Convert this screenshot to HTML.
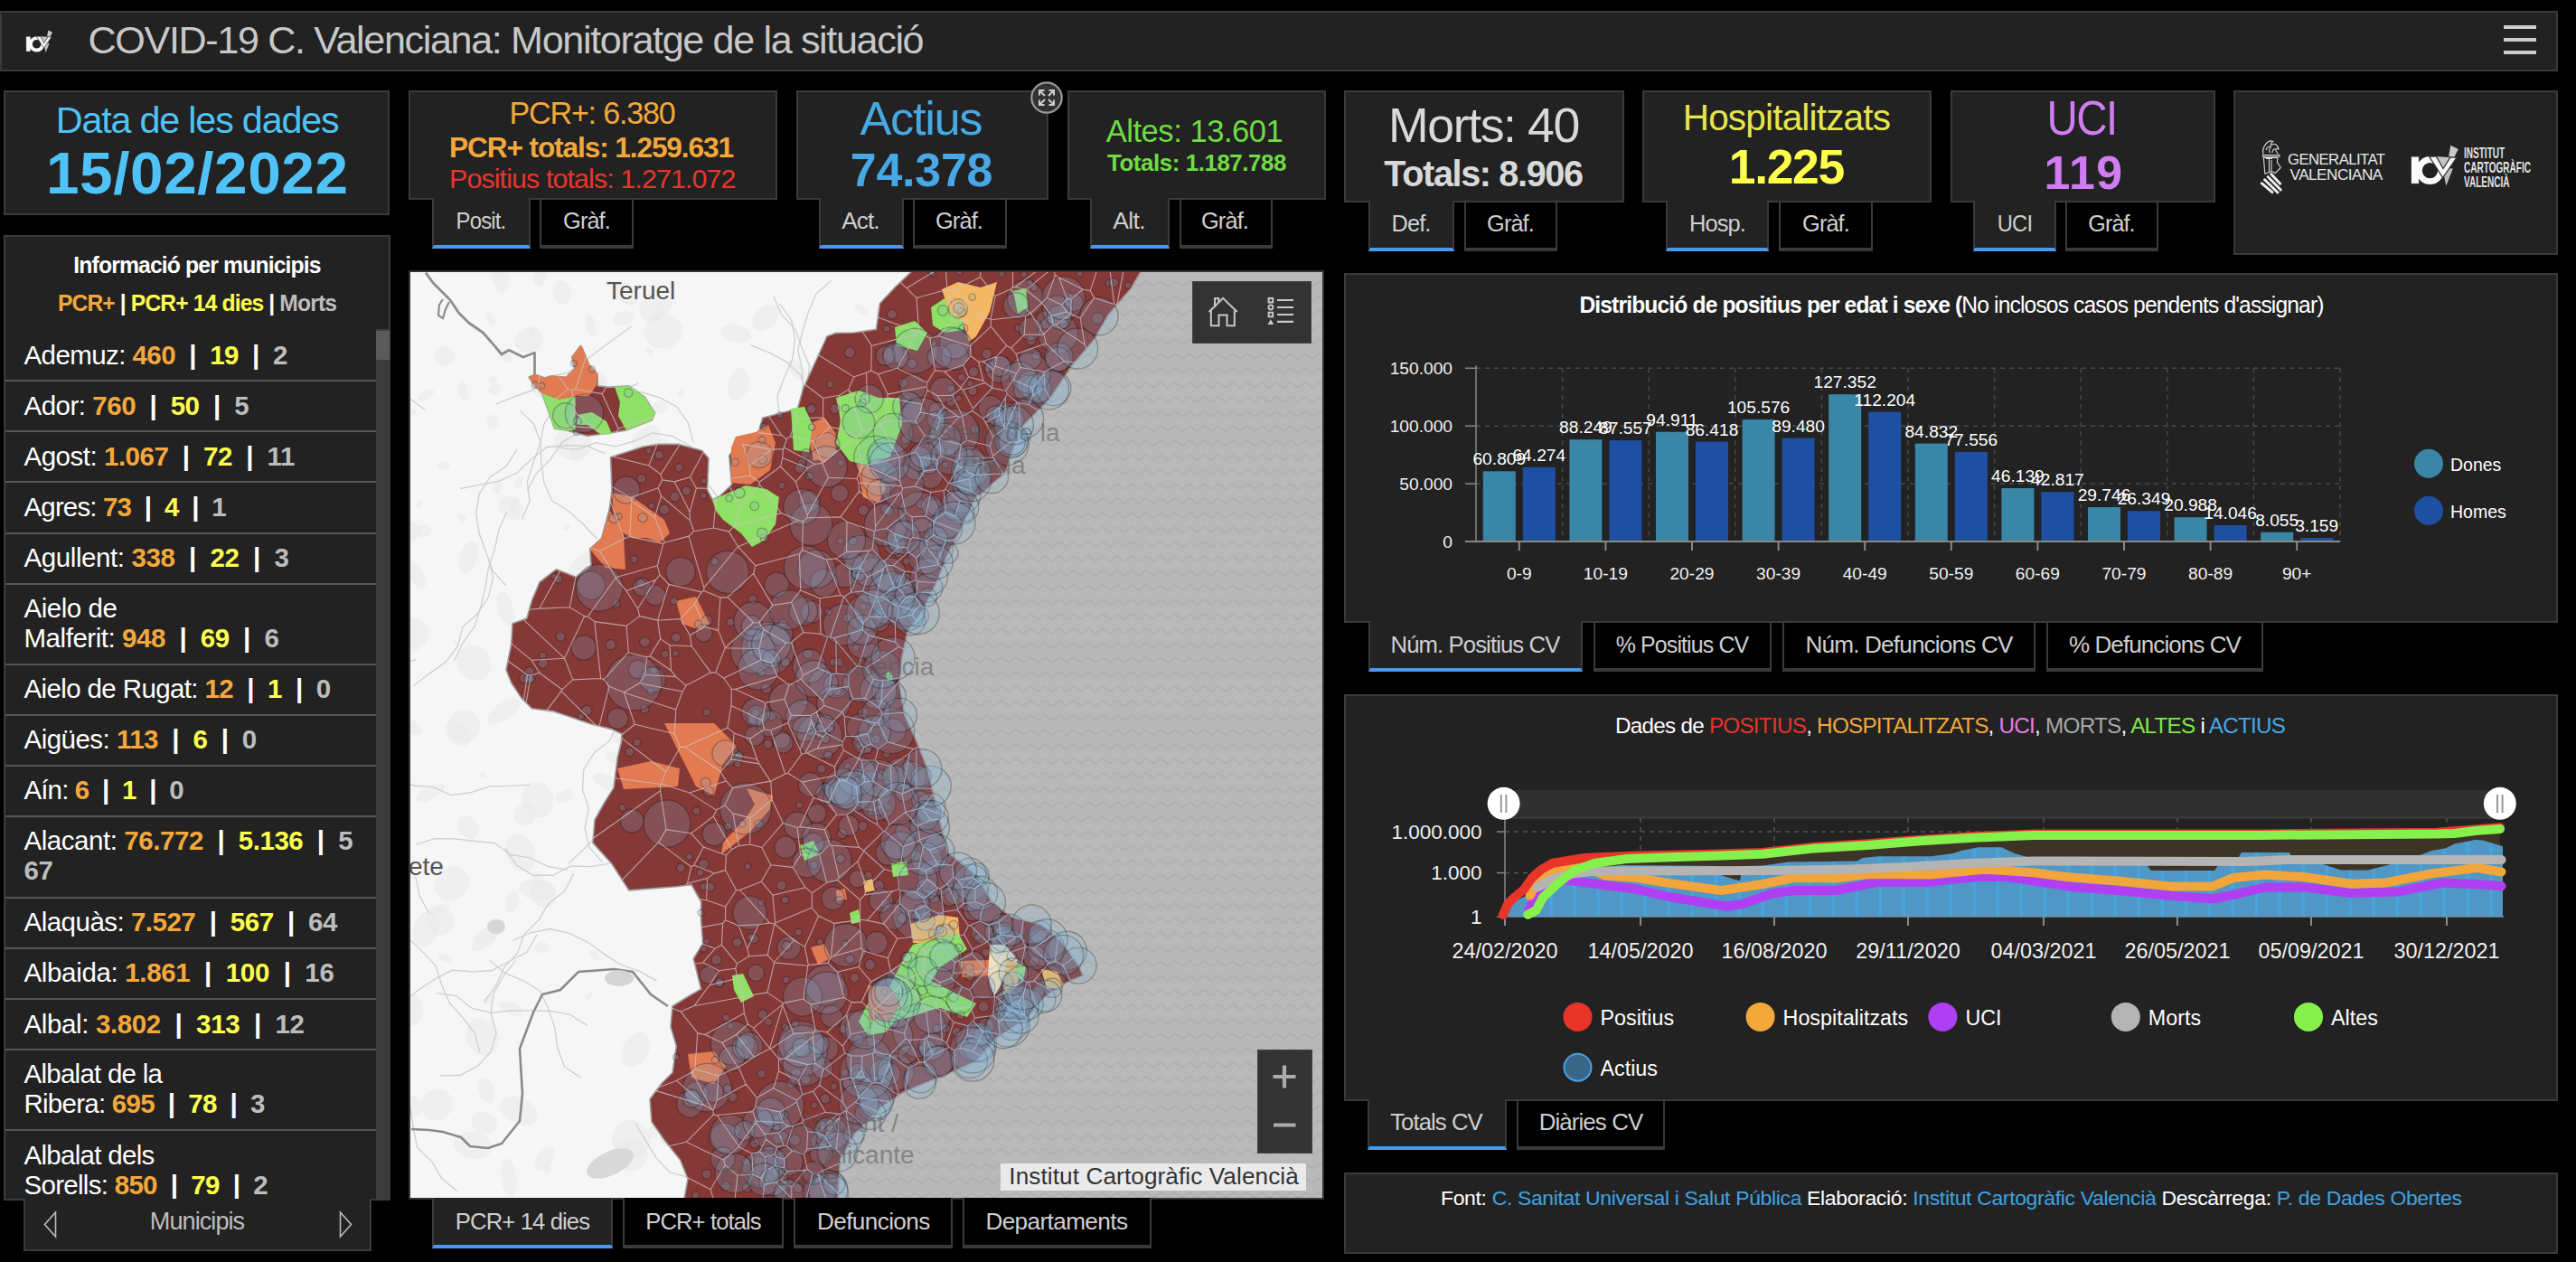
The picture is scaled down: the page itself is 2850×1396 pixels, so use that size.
<!DOCTYPE html>
<html lang="ca"><head><meta charset="utf-8"><title>COVID-19 C. Valenciana: Monitoratge de la situació</title>
<style>
html,body{margin:0;padding:0;background:#000;}
body{width:2850px;height:1396px;position:relative;overflow:hidden;font-family:"Liberation Sans", Arial, sans-serif;}
.bx{position:absolute;box-sizing:border-box;}
.t{position:absolute;white-space:nowrap;}
</style></head><body>
<div class="bx" style="left:0px;top:12px;width:2830px;height:67px;background:#222;border:2px solid #3a3a3a;"></div>
<div id="t_title" class="t" style="left:97.50px;top:20.32px;font-size:43.17px;line-height:48.23px;color:#c8c8c8;font-weight:normal;letter-spacing:-1.371px;">COVID-19 C. Valenciana: Monitoratge de la situació</div>
<div class="bx" style="left:2770px;top:28px;width:36px;height:3.6000000000000014px;background:#cccccc;"></div>
<div class="bx" style="left:2770px;top:42.3px;width:36px;height:3.6000000000000014px;background:#cccccc;"></div>
<div class="bx" style="left:2770px;top:56.1px;width:36px;height:3.6000000000000014px;background:#cccccc;"></div>
<svg class="bx" style="left:0;top:0" width="80" height="80" viewBox="0 0 80 80"><g transform="translate(28.9,33.2) scale(1.0)">
<polygon points="24.4,0.2 29.1,2.5 26.5,7.8 23.2,7" fill="#c8c8c8"/>
<polygon points="19.4,14 25.8,14.5 21.6,25.1" fill="#bdbdbd"/>
<rect x="0" y="7" width="5" height="16.8" fill="#fafafa" stroke="#333" stroke-width="0.5"/>
<circle cx="11.7" cy="15.6" r="6.7" stroke="#fafafa" stroke-width="3.8" fill="none"/>
<polygon points="15.6,7 24.2,7.6 19.8,14.5" fill="#c4c4c4"/>
<polygon points="11.2,7 15.6,7 19.8,14.5 24.2,7.6 28.2,7.6 19.6,20" fill="#fafafa" stroke="#333" stroke-width="0.7"/>
</g></svg>
<div class="bx" style="left:4px;top:100px;width:427px;height:138px;background:#222;border:2px solid #3a3a3a;"></div>
<div id="t_datalabel" class="t" style="left:61.81px;top:110.03px;font-size:41.28px;line-height:46.12px;color:#4fc3f7;font-weight:normal;letter-spacing:-1.178px;">Data de les dades</div>
<div id="t_date" class="t" style="left:51.00px;top:154.52px;font-size:65.70px;line-height:73.40px;color:#4fc3f7;font-weight:bold;letter-spacing:0.582px;">15/02/2022</div>
<div class="bx" style="left:452px;top:100px;width:408px;height:121px;background:#222;border:2px solid #3a3a3a;"></div>
<div class="bx" style="left:478px;top:219px;width:109px;height:56px;background:#222;border-left:2px solid #3a3a3a;border-right:2px solid #3a3a3a;border-bottom:4px solid #4a97ee;"></div>
<div class="bx" style="left:597px;top:221px;width:104px;height:54px;background:#000;border-left:2px solid #3a3a3a;border-right:2px solid #3a3a3a;border-bottom:4px solid #3a3a3a;"></div>
<div id="t_pcr1" class="t" style="left:-344.91px;width:2000px;text-align:center;top:105.81px;font-size:34.45px;line-height:38.48px;color:#f5a83a;font-weight:normal;letter-spacing:-1.206px;transform:scaleX(0.9899);transform-origin:50% 0;">PCR+: 6.380</div>
<div id="t_pcr2" class="t" style="left:-346.06px;width:2000px;text-align:center;top:145.58px;font-size:31.83px;line-height:35.56px;color:#f5a83a;font-weight:bold;letter-spacing:-1.114px;transform:scaleX(0.9932);transform-origin:50% 0;">PCR+ totals: 1.259.631</div>
<div id="t_pcr3" class="t" style="left:-344.74px;width:2000px;text-align:center;top:180.90px;font-size:30.38px;line-height:33.94px;color:#e8352a;font-weight:normal;letter-spacing:-0.880px;">Positius totals: 1.271.072</div>
<div class="bx" style="left:880.5px;top:100px;width:279.5px;height:121px;background:#222;border:2px solid #3a3a3a;"></div>
<div class="bx" style="left:906px;top:219px;width:94px;height:56px;background:#222;border-left:2px solid #3a3a3a;border-right:2px solid #3a3a3a;border-bottom:4px solid #4a97ee;"></div>
<div class="bx" style="left:1010px;top:221px;width:104px;height:54px;background:#000;border-left:2px solid #3a3a3a;border-right:2px solid #3a3a3a;border-bottom:4px solid #3a3a3a;"></div>
<div id="t_act1" class="t" style="left:18.81px;width:2000px;text-align:center;top:101.90px;font-size:52.47px;line-height:58.62px;color:#47a8e5;font-weight:normal;letter-spacing:-1.377px;">Actius</div>
<div id="t_act2" class="t" style="left:19.50px;width:2000px;text-align:center;top:160.22px;font-size:51.89px;line-height:57.97px;color:#47a8e5;font-weight:bold;letter-spacing:-0.214px;">74.378</div>
<div class="bx" style="left:1180.5px;top:100px;width:286.5px;height:121px;background:#222;border:2px solid #3a3a3a;"></div>
<div class="bx" style="left:1206px;top:219px;width:88px;height:56px;background:#222;border-left:2px solid #3a3a3a;border-right:2px solid #3a3a3a;border-bottom:4px solid #4a97ee;"></div>
<div class="bx" style="left:1304.5px;top:221px;width:103.5px;height:54px;background:#000;border-left:2px solid #3a3a3a;border-right:2px solid #3a3a3a;border-bottom:4px solid #3a3a3a;"></div>
<div id="t_alt1" class="t" style="left:321.52px;width:2000px;text-align:center;top:125.98px;font-size:34.59px;line-height:38.65px;color:#6fdc45;font-weight:normal;letter-spacing:-0.479px;">Altes: 13.601</div>
<div id="t_alt2" class="t" style="left:324.00px;width:2000px;text-align:center;top:165.88px;font-size:25.87px;line-height:28.90px;color:#6fdc45;font-weight:bold;letter-spacing:-0.417px;">Totals: 1.187.788</div>
<div class="bx" style="left:1487.3px;top:100px;width:309.70000000000005px;height:123.5px;background:#222;border:2px solid #3a3a3a;"></div>
<div class="bx" style="left:1513.5px;top:221.5px;width:95.5px;height:56.5px;background:#222;border-left:2px solid #3a3a3a;border-right:2px solid #3a3a3a;border-bottom:4px solid #4a97ee;"></div>
<div class="bx" style="left:1619.7px;top:223.5px;width:103.70000000000005px;height:54.5px;background:#000;border-left:2px solid #3a3a3a;border-right:2px solid #3a3a3a;border-bottom:4px solid #3a3a3a;"></div>
<div id="t_mor1" class="t" style="left:641.51px;width:2000px;text-align:center;top:108.75px;font-size:53.63px;line-height:59.92px;color:#d9d9d9;font-weight:normal;letter-spacing:-1.389px;">Morts: 40</div>
<div id="t_mor2" class="t" style="left:640.96px;width:2000px;text-align:center;top:168.50px;font-size:41.42px;line-height:46.28px;color:#d9d9d9;font-weight:bold;letter-spacing:-1.450px;transform:scaleX(0.9580);transform-origin:50% 0;">Totals: 8.906</div>
<div class="bx" style="left:1817.3px;top:100px;width:319.70000000000005px;height:123.5px;background:#222;border:2px solid #3a3a3a;"></div>
<div class="bx" style="left:1843.2px;top:221.5px;width:114.29999999999995px;height:56.5px;background:#222;border-left:2px solid #3a3a3a;border-right:2px solid #3a3a3a;border-bottom:4px solid #4a97ee;"></div>
<div class="bx" style="left:1968.2px;top:223.5px;width:104.20000000000005px;height:54.5px;background:#000;border-left:2px solid #3a3a3a;border-right:2px solid #3a3a3a;border-bottom:4px solid #3a3a3a;"></div>
<div id="t_hos1" class="t" style="left:976.44px;width:2000px;text-align:center;top:107.99px;font-size:40.55px;line-height:45.31px;color:#e6e64c;font-weight:normal;letter-spacing:-0.833px;">Hospitalitzats</div>
<div id="t_hos2" class="t" style="left:976.34px;width:2000px;text-align:center;top:155.18px;font-size:53.49px;line-height:59.76px;color:#ffff4d;font-weight:bold;letter-spacing:-1.364px;">1.225</div>
<div class="bx" style="left:2157.5px;top:100px;width:293.5px;height:123.5px;background:#222;border:2px solid #3a3a3a;"></div>
<div class="bx" style="left:2183.1px;top:221.5px;width:91.59999999999991px;height:56.5px;background:#222;border-left:2px solid #3a3a3a;border-right:2px solid #3a3a3a;border-bottom:4px solid #4a97ee;"></div>
<div class="bx" style="left:2285.4px;top:223.5px;width:103.09999999999991px;height:54.5px;background:#000;border-left:2px solid #3a3a3a;border-right:2px solid #3a3a3a;border-bottom:4px solid #3a3a3a;"></div>
<div id="t_uci1" class="t" style="left:1302.82px;width:2000px;text-align:center;top:100.32px;font-size:54.22px;line-height:60.57px;color:#d07cf2;font-weight:normal;letter-spacing:-1.898px;transform:scaleX(0.8763);transform-origin:50% 0;">UCI</div>
<div id="t_uci2" class="t" style="left:1305.48px;width:2000px;text-align:center;top:162.62px;font-size:51.89px;line-height:57.97px;color:#d07cf2;font-weight:bold;letter-spacing:1.350px;">119</div>
<svg class="bx" style="left:1137.8px;top:87.8px" width="40" height="40" viewBox="0 0 40 40">
<circle cx="20" cy="20" r="16.7" fill="#323232" stroke="#9a9a9a" stroke-width="2.2"/>
<g stroke="#cdcdcd" stroke-width="2" fill="none"><path d="M12 17.5 V12 H17.5 M12 12 L18 18 M22.5 12 H28 V17.5 M28 12 L22 18 M12 22.5 V28 H17.5 M12 28 L18 22 M28 22.5 V28 H22.5 M28 28 L22 22"/></g></svg>
<div id="t_tb1" class="t" style="left:-468.02px;width:2000px;text-align:center;top:230.45px;font-size:26.45px;line-height:29.55px;color:#cfcfcf;font-weight:normal;letter-spacing:-0.926px;transform:scaleX(0.9040);transform-origin:50% 0;">Posit.</div>
<div id="t_tb2" class="t" style="left:-351.49px;width:2000px;text-align:center;top:230.45px;font-size:26.45px;line-height:29.55px;color:#cfcfcf;font-weight:normal;letter-spacing:-0.926px;transform:scaleX(0.9570);transform-origin:50% 0;">Gràf.</div>
<div id="t_tb3" class="t" style="left:-48.01px;width:2000px;text-align:center;top:230.45px;font-size:26.45px;line-height:29.55px;color:#cfcfcf;font-weight:normal;letter-spacing:-0.926px;transform:scaleX(0.9890);transform-origin:50% 0;">Act.</div>
<div id="t_tb4" class="t" style="left:61.36px;width:2000px;text-align:center;top:230.45px;font-size:26.45px;line-height:29.55px;color:#cfcfcf;font-weight:normal;letter-spacing:-0.926px;transform:scaleX(0.9588);transform-origin:50% 0;">Gràf.</div>
<div id="t_tb5" class="t" style="left:249.22px;width:2000px;text-align:center;top:230.45px;font-size:26.45px;line-height:29.55px;color:#cfcfcf;font-weight:normal;letter-spacing:-0.604px;">Alt.</div>
<div id="t_tb6" class="t" style="left:355.47px;width:2000px;text-align:center;top:230.45px;font-size:26.45px;line-height:29.55px;color:#cfcfcf;font-weight:normal;letter-spacing:-0.926px;transform:scaleX(0.9588);transform-origin:50% 0;">Gràf.</div>
<div id="t_tb7" class="t" style="left:560.71px;width:2000px;text-align:center;top:233.05px;font-size:26.45px;line-height:29.55px;color:#cfcfcf;font-weight:normal;letter-spacing:-0.926px;transform:scaleX(0.9601);transform-origin:50% 0;">Def.</div>
<div id="t_tb8" class="t" style="left:670.92px;width:2000px;text-align:center;top:233.05px;font-size:26.45px;line-height:29.55px;color:#cfcfcf;font-weight:normal;letter-spacing:-0.926px;transform:scaleX(0.9570);transform-origin:50% 0;">Gràf.</div>
<div id="t_tb9" class="t" style="left:899.97px;width:2000px;text-align:center;top:233.05px;font-size:26.45px;line-height:29.55px;color:#cfcfcf;font-weight:normal;letter-spacing:-0.926px;transform:scaleX(0.9638);transform-origin:50% 0;">Hosp.</div>
<div id="t_tb10" class="t" style="left:1019.63px;width:2000px;text-align:center;top:233.05px;font-size:26.45px;line-height:29.55px;color:#cfcfcf;font-weight:normal;letter-spacing:-0.926px;transform:scaleX(0.9570);transform-origin:50% 0;">Gràf.</div>
<div id="t_tb11" class="t" style="left:1228.50px;width:2000px;text-align:center;top:233.05px;font-size:26.45px;line-height:29.55px;color:#cfcfcf;font-weight:normal;letter-spacing:-0.926px;transform:scaleX(0.8972);transform-origin:50% 0;">UCI</div>
<div id="t_tb12" class="t" style="left:1336.47px;width:2000px;text-align:center;top:233.05px;font-size:26.45px;line-height:29.55px;color:#cfcfcf;font-weight:normal;letter-spacing:-0.926px;transform:scaleX(0.9479);transform-origin:50% 0;">Gràf.</div>
<div class="bx" style="left:2471.3px;top:100.3px;width:358.6999999999998px;height:181.7px;background:#222;border:2px solid #3a3a3a;"></div>
<svg class="bx" style="left:2496px;top:150px" width="34" height="70" viewBox="2496 150 34 70">
<g fill="none" stroke="#d8d8d8" stroke-width="1.1" stroke-linejoin="round">
<path d="M2504 170.5 C2503 166 2505 161 2508 158 C2510 156 2513 155.5 2515 156.5 C2513 157.5 2511.5 159 2512.5 161 C2514 159.5 2516.5 159 2518 160 C2519.5 161 2520.5 163 2521 165 C2519 164 2517.5 165 2518 167 L2520.5 170.5"/>
<path d="M2507 166 C2508 162 2511 161 2512.5 163 C2510.5 164 2510 167 2511.5 169 M2514 169 C2514 166 2516 164 2518 165"/>
<path d="M2503.5 171.5 H2522 V173.3 H2503.5 Z"/>
<path d="M2504.4 174.4 L2505.8 192.2 L2513.3 189.4 L2517.2 191.6 L2523.3 185.5 L2519.4 179.4 L2520 174.4 Z"/>
<path d="M2507 175.5 H2514 M2510.5 175.5 V190 M2513 177 V189"/>
</g>
<g stroke="#eeeeee" stroke-width="2.9" stroke-linecap="round">
<path d="M2502.2 202.7 L2513.9 212.7 M2505.5 198.8 L2520 213 M2509.1 195.5 L2523.3 209.9 M2512.7 192.6 L2522.7 203.2"/>
</g></svg>
<div id="t_gv1" class="t" style="left:2531.00px;top:166.77px;font-size:17.15px;line-height:19.16px;color:#e8e8e8;font-weight:normal;letter-spacing:-0.600px;transform:scaleX(0.9772);transform-origin:0 0;">GENERALITAT</div>
<div id="t_gv2" class="t" style="left:2533.50px;top:184.17px;font-size:17.15px;line-height:19.16px;color:#e8e8e8;font-weight:normal;letter-spacing:-0.503px;">VALENCIANA</div>
<svg class="bx" style="left:2660px;top:155px" width="66" height="58" viewBox="2660 155 66 58"><g transform="translate(2667.4,160.5) scale(1.8)">
<polygon points="24.4,0.2 29.1,2.5 26.5,7.8 23.2,7" fill="#c8c8c8"/>
<polygon points="19.4,14 25.8,14.5 21.6,25.1" fill="#bdbdbd"/>
<rect x="0" y="7" width="5" height="16.8" fill="#fafafa" stroke="#333" stroke-width="0.5"/>
<circle cx="11.7" cy="15.6" r="6.7" stroke="#fafafa" stroke-width="3.8" fill="none"/>
<polygon points="15.6,7 24.2,7.6 19.8,14.5" fill="#c4c4c4"/>
<polygon points="11.2,7 15.6,7 19.8,14.5 24.2,7.6 28.2,7.6 19.6,20" fill="#fafafa" stroke="#333" stroke-width="0.7"/>
</g></svg>
<div class="bx" style="left:2726.3px;top:162px;font:bold 17px/16.2px 'Liberation Sans',sans-serif;color:#e4e4e4;transform:scaleX(0.59);transform-origin:0 0;white-space:nowrap">INSTITUT<br>CARTOGRÀFIC<br>VALENCIÀ</div>
<div class="bx" style="left:4px;top:260px;width:427.5px;height:1067.5px;background:#222;border:2px solid #3a3a3a;"></div>
<div id="t_info" class="t" style="left:-782.04px;width:2000px;text-align:center;top:279.38px;font-size:25.87px;line-height:28.90px;color:#ffffff;font-weight:bold;letter-spacing:-0.905px;transform:scaleX(0.9565);transform-origin:50% 0;">Informació per municipis</div>
<div id="t_leg" class="t" style="left:-782.40px;width:2000px;text-align:center;top:321.08px;font-size:25.87px;line-height:28.90px;color:#ffffff;font-weight:bold;letter-spacing:-0.905px;transform:scaleX(0.9529);transform-origin:50% 0;"><span style="color:#f5a83a">PCR+</span> | <span style="color:#ffff4d">PCR+ 14 dies</span> | <span style="color:#bdbdbd">Morts</span></div>
<div class="bx" style="left:416px;top:364px;width:14.5px;height:963px;background:#3c3c3c;"></div>
<div class="bx" style="left:416px;top:366px;width:14.5px;height:32px;background:#5a5a5a;"></div>
<div class="bx" style="left:6px;top:364px;width:410px;height:963px;overflow:hidden">
<div id="t_r0" class="t" style="left:20.50px;top:11.87px;font-size:29.51px;line-height:33.2px;color:#fff;letter-spacing:-0.578px;">Ademuz: <b style="color:#f5a83a">460</b> <b>&nbsp;|&nbsp;</b> <b style="color:#ffff4d">19</b> <b>&nbsp;|&nbsp;</b> <b style="color:#bdbdbd">2</b></div>
<div class="bx" style="left:0;top:56.2px;width:410px;height:2px;background:#565656"></div>
<div id="t_r1" class="t" style="left:20.50px;top:67.77px;font-size:29.51px;line-height:33.2px;color:#fff;letter-spacing:-0.485px;">Ador: <b style="color:#f5a83a">760</b> <b>&nbsp;|&nbsp;</b> <b style="color:#ffff4d">50</b> <b>&nbsp;|&nbsp;</b> <b style="color:#bdbdbd">5</b></div>
<div class="bx" style="left:0;top:112.0px;width:410px;height:2px;background:#565656"></div>
<div id="t_r2" class="t" style="left:20.50px;top:123.57px;font-size:29.51px;line-height:33.2px;color:#fff;letter-spacing:-0.480px;">Agost: <b style="color:#f5a83a">1.067</b> <b>&nbsp;|&nbsp;</b> <b style="color:#ffff4d">72</b> <b>&nbsp;|&nbsp;</b> <b style="color:#bdbdbd">11</b></div>
<div class="bx" style="left:0;top:168.4px;width:410px;height:2px;background:#565656"></div>
<div id="t_r3" class="t" style="left:20.50px;top:179.97px;font-size:29.51px;line-height:33.2px;color:#fff;letter-spacing:-0.852px;">Agres: <b style="color:#f5a83a">73</b> <b>&nbsp;|&nbsp;</b> <b style="color:#ffff4d">4</b> <b>&nbsp;|&nbsp;</b> <b style="color:#bdbdbd">1</b></div>
<div class="bx" style="left:0;top:224.7px;width:410px;height:2px;background:#565656"></div>
<div id="t_r4" class="t" style="left:20.50px;top:236.27px;font-size:29.51px;line-height:33.2px;color:#fff;letter-spacing:-0.407px;">Agullent: <b style="color:#f5a83a">338</b> <b>&nbsp;|&nbsp;</b> <b style="color:#ffff4d">22</b> <b>&nbsp;|&nbsp;</b> <b style="color:#bdbdbd">3</b></div>
<div class="bx" style="left:0;top:280.7px;width:410px;height:2px;background:#565656"></div>
<div id="t_r5" class="t" style="left:20.50px;top:292.27px;font-size:29.51px;line-height:33.2px;color:#fff;letter-spacing:-0.455px;">Aielo de<br>Malferit: <b style="color:#f5a83a">948</b> <b>&nbsp;|&nbsp;</b> <b style="color:#ffff4d">69</b> <b>&nbsp;|&nbsp;</b> <b style="color:#bdbdbd">6</b></div>
<div class="bx" style="left:0;top:369.8px;width:410px;height:2px;background:#565656"></div>
<div id="t_r6" class="t" style="left:20.50px;top:381.37px;font-size:29.51px;line-height:33.2px;color:#fff;letter-spacing:-0.620px;">Aielo de Rugat: <b style="color:#f5a83a">12</b> <b>&nbsp;|&nbsp;</b> <b style="color:#ffff4d">1</b> <b>&nbsp;|&nbsp;</b> <b style="color:#bdbdbd">0</b></div>
<div class="bx" style="left:0;top:425.8px;width:410px;height:2px;background:#565656"></div>
<div id="t_r7" class="t" style="left:20.50px;top:437.37px;font-size:29.51px;line-height:33.2px;color:#fff;letter-spacing:-0.521px;">Aigües: <b style="color:#f5a83a">113</b> <b>&nbsp;|&nbsp;</b> <b style="color:#ffff4d">6</b> <b>&nbsp;|&nbsp;</b> <b style="color:#bdbdbd">0</b></div>
<div class="bx" style="left:0;top:481.8px;width:410px;height:2px;background:#565656"></div>
<div id="t_r8" class="t" style="left:20.50px;top:493.37px;font-size:29.51px;line-height:33.2px;color:#fff;letter-spacing:-0.880px;">Aín: <b style="color:#f5a83a">6</b> <b>&nbsp;|&nbsp;</b> <b style="color:#ffff4d">1</b> <b>&nbsp;|&nbsp;</b> <b style="color:#bdbdbd">0</b></div>
<div class="bx" style="left:0;top:537.7px;width:410px;height:2px;background:#565656"></div>
<div id="t_r9" class="t" style="left:20.50px;top:549.27px;font-size:29.51px;line-height:33.2px;color:#fff;letter-spacing:-0.445px;">Alacant: <b style="color:#f5a83a">76.772</b> <b>&nbsp;|&nbsp;</b> <b style="color:#ffff4d">5.136</b> <b>&nbsp;|&nbsp;</b> <b style="color:#bdbdbd">5<br>67</b></div>
<div class="bx" style="left:0;top:627.6px;width:410px;height:2px;background:#565656"></div>
<div id="t_r10" class="t" style="left:20.50px;top:639.17px;font-size:29.51px;line-height:33.2px;color:#fff;letter-spacing:-0.504px;">Alaquàs: <b style="color:#f5a83a">7.527</b> <b>&nbsp;|&nbsp;</b> <b style="color:#ffff4d">567</b> <b>&nbsp;|&nbsp;</b> <b style="color:#bdbdbd">64</b></div>
<div class="bx" style="left:0;top:683.6px;width:410px;height:2px;background:#565656"></div>
<div id="t_r11" class="t" style="left:20.50px;top:695.17px;font-size:29.51px;line-height:33.2px;color:#fff;letter-spacing:-0.339px;">Albaida: <b style="color:#f5a83a">1.861</b> <b>&nbsp;|&nbsp;</b> <b style="color:#ffff4d">100</b> <b>&nbsp;|&nbsp;</b> <b style="color:#bdbdbd">16</b></div>
<div class="bx" style="left:0;top:740.2px;width:410px;height:2px;background:#565656"></div>
<div id="t_r12" class="t" style="left:20.50px;top:751.77px;font-size:29.51px;line-height:33.2px;color:#fff;letter-spacing:-0.369px;">Albal: <b style="color:#f5a83a">3.802</b> <b>&nbsp;|&nbsp;</b> <b style="color:#ffff4d">313</b> <b>&nbsp;|&nbsp;</b> <b style="color:#bdbdbd">12</b></div>
<div class="bx" style="left:0;top:795.7px;width:410px;height:2px;background:#565656"></div>
<div id="t_r13" class="t" style="left:20.50px;top:807.27px;font-size:29.51px;line-height:33.2px;color:#fff;letter-spacing:-0.742px;">Albalat de la<br>Ribera: <b style="color:#f5a83a">695</b> <b>&nbsp;|&nbsp;</b> <b style="color:#ffff4d">78</b> <b>&nbsp;|&nbsp;</b> <b style="color:#bdbdbd">3</b></div>
<div class="bx" style="left:0;top:885.2px;width:410px;height:2px;background:#565656"></div>
<div id="t_r14" class="t" style="left:20.50px;top:896.77px;font-size:29.51px;line-height:33.2px;color:#fff;letter-spacing:-0.706px;">Albalat dels<br>Sorells: <b style="color:#f5a83a">850</b> <b>&nbsp;|&nbsp;</b> <b style="color:#ffff4d">79</b> <b>&nbsp;|&nbsp;</b> <b style="color:#bdbdbd">2</b></div>
</div>
<div class="bx" style="left:25.5px;top:1325.5px;width:385px;height:58px;background:#222;border:2px solid #3a3a3a;border-top:none"></div>
<div id="t_mun" class="t" style="left:-782.28px;width:2000px;text-align:center;top:1336.09px;font-size:27.18px;line-height:30.37px;color:#bdbdbd;font-weight:normal;letter-spacing:-0.951px;transform:scaleX(0.9976);transform-origin:50% 0;">Municipis</div>
<svg class="bx" style="left:44px;top:1338px" width="352" height="34" viewBox="0 0 352 34">
<polygon points="17.5,3 5.5,16.5 17.5,30" fill="none" stroke="#bbb" stroke-width="1.6"/>
<polygon points="332.5,3 344.5,16.5 332.5,30" fill="none" stroke="#bbb" stroke-width="1.6"/></svg>
<div class="bx" style="left:452px;top:299px;width:1013px;height:1028px;background:#333"></div>
<svg class="bx" style="left:454px;top:301px" width="1009" height="1024" viewBox="454 301 1009 1024">
<defs><clipPath id="mclip"><rect x="454" y="301" width="1009" height="1024"/></clipPath></defs>
<style>.mc{fill:rgba(130,180,215,.2);stroke:rgba(0,0,0,.25);stroke-width:1.4}</style>
<g clip-path="url(#mclip)">
<rect x="454" y="301" width="1009" height="1024" fill="#f6f6f6"/>
<ellipse cx="630.8" cy="455.5" rx="15.7" ry="7.0" fill="#eaeaea" opacity="0.55" transform="rotate(96 630.8 455.5)"/>
<ellipse cx="653.7" cy="360.4" rx="13.1" ry="5.5" fill="#eaeaea" opacity="0.55" transform="rotate(78 653.7 360.4)"/>
<ellipse cx="492.1" cy="393.9" rx="11.6" ry="10.4" fill="#eaeaea" opacity="0.55" transform="rotate(22 492.1 393.9)"/>
<ellipse cx="575.9" cy="943.5" rx="21.1" ry="15.7" fill="#eaeaea" opacity="0.55" transform="rotate(71 575.9 943.5)"/>
<ellipse cx="987.0" cy="348.7" rx="19.5" ry="11.2" fill="#eaeaea" opacity="0.55" transform="rotate(26 987.0 348.7)"/>
<ellipse cx="518.3" cy="616.9" rx="18.7" ry="9.5" fill="#eaeaea" opacity="0.55" transform="rotate(105 518.3 616.9)"/>
<ellipse cx="802.8" cy="682.3" rx="13.9" ry="6.1" fill="#eaeaea" opacity="0.55" transform="rotate(11 802.8 682.3)"/>
<ellipse cx="566.5" cy="997.7" rx="11.7" ry="6.9" fill="#eaeaea" opacity="0.55" transform="rotate(105 566.5 997.7)"/>
<ellipse cx="701.4" cy="608.0" rx="18.3" ry="15.0" fill="#eaeaea" opacity="0.55" transform="rotate(44 701.4 608.0)"/>
<ellipse cx="767.6" cy="838.8" rx="19.8" ry="16.5" fill="#eaeaea" opacity="0.55" transform="rotate(52 767.6 838.8)"/>
<ellipse cx="989.2" cy="421.9" rx="11.5" ry="9.8" fill="#eaeaea" opacity="0.55" transform="rotate(27 989.2 421.9)"/>
<ellipse cx="721.0" cy="341.1" rx="16.0" ry="13.8" fill="#eaeaea" opacity="0.55" transform="rotate(103 721.0 341.1)"/>
<ellipse cx="932.0" cy="622.3" rx="16.5" ry="12.5" fill="#eaeaea" opacity="0.55" transform="rotate(104 932.0 622.3)"/>
<ellipse cx="703.1" cy="1161.1" rx="21.0" ry="14.4" fill="#eaeaea" opacity="0.55" transform="rotate(120 703.1 1161.1)"/>
<ellipse cx="487.1" cy="1019.3" rx="15.6" ry="15.6" fill="#eaeaea" opacity="0.55" transform="rotate(148 487.1 1019.3)"/>
<ellipse cx="609.4" cy="696.1" rx="16.0" ry="6.6" fill="#eaeaea" opacity="0.55" transform="rotate(83 609.4 696.1)"/>
<ellipse cx="545.8" cy="420.9" rx="5.1" ry="4.4" fill="#eaeaea" opacity="0.55" transform="rotate(23 545.8 420.9)"/>
<ellipse cx="589.2" cy="701.3" rx="19.7" ry="8.8" fill="#eaeaea" opacity="0.55" transform="rotate(81 589.2 701.3)"/>
<ellipse cx="754.0" cy="1205.6" rx="18.7" ry="17.2" fill="#eaeaea" opacity="0.55" transform="rotate(50 754.0 1205.6)"/>
<ellipse cx="680.8" cy="668.4" rx="19.9" ry="19.4" fill="#eaeaea" opacity="0.55" transform="rotate(27 680.8 668.4)"/>
<ellipse cx="550.2" cy="538.5" rx="8.2" ry="5.7" fill="#eaeaea" opacity="0.55" transform="rotate(106 550.2 538.5)"/>
<ellipse cx="597.5" cy="305.2" rx="11.5" ry="7.2" fill="#eaeaea" opacity="0.55" transform="rotate(102 597.5 305.2)"/>
<ellipse cx="974.4" cy="1008.1" rx="13.3" ry="10.2" fill="#eaeaea" opacity="0.55" transform="rotate(122 974.4 1008.1)"/>
<ellipse cx="483.5" cy="1222.1" rx="18.0" ry="16.7" fill="#eaeaea" opacity="0.55" transform="rotate(144 483.5 1222.1)"/>
<ellipse cx="668.2" cy="709.6" rx="5.9" ry="4.6" fill="#eaeaea" opacity="0.55" transform="rotate(11 668.2 709.6)"/>
<ellipse cx="490.8" cy="514.8" rx="6.9" ry="4.2" fill="#eaeaea" opacity="0.55" transform="rotate(9 490.8 514.8)"/>
<ellipse cx="454.1" cy="455.9" rx="5.8" ry="3.6" fill="#eaeaea" opacity="0.55" transform="rotate(5 454.1 455.9)"/>
<ellipse cx="931.4" cy="929.8" rx="6.7" ry="3.7" fill="#eaeaea" opacity="0.55" transform="rotate(63 931.4 929.8)"/>
<ellipse cx="652.8" cy="426.8" rx="19.3" ry="19.2" fill="#eaeaea" opacity="0.55" transform="rotate(84 652.8 426.8)"/>
<ellipse cx="718.2" cy="388.9" rx="5.8" ry="3.5" fill="#eaeaea" opacity="0.55" transform="rotate(48 718.2 388.9)"/>
<ellipse cx="906.6" cy="466.3" rx="4.4" ry="4.3" fill="#eaeaea" opacity="0.55" transform="rotate(95 906.6 466.3)"/>
<ellipse cx="534.0" cy="857.2" rx="4.5" ry="3.2" fill="#eaeaea" opacity="0.55" transform="rotate(176 534.0 857.2)"/>
<ellipse cx="925.4" cy="1013.9" rx="8.7" ry="5.4" fill="#eaeaea" opacity="0.55" transform="rotate(30 925.4 1013.9)"/>
<ellipse cx="875.5" cy="846.4" rx="18.0" ry="10.8" fill="#eaeaea" opacity="0.55" transform="rotate(40 875.5 846.4)"/>
<ellipse cx="897.1" cy="1309.6" rx="19.3" ry="17.1" fill="#eaeaea" opacity="0.55" transform="rotate(147 897.1 1309.6)"/>
<ellipse cx="858.0" cy="533.2" rx="13.3" ry="8.2" fill="#eaeaea" opacity="0.55" transform="rotate(5 858.0 533.2)"/>
<ellipse cx="469.3" cy="587.1" rx="8.7" ry="7.1" fill="#eaeaea" opacity="0.55" transform="rotate(172 469.3 587.1)"/>
<ellipse cx="698.2" cy="1260.5" rx="21.8" ry="21.2" fill="#eaeaea" opacity="0.55" transform="rotate(66 698.2 1260.5)"/>
<ellipse cx="574.4" cy="533.3" rx="7.5" ry="3.9" fill="#eaeaea" opacity="0.55" transform="rotate(112 574.4 533.3)"/>
<ellipse cx="945.6" cy="1161.6" rx="12.6" ry="10.0" fill="#eaeaea" opacity="0.55" transform="rotate(144 945.6 1161.6)"/>
<ellipse cx="500.3" cy="977.4" rx="20.4" ry="17.7" fill="#eaeaea" opacity="0.55" transform="rotate(135 500.3 977.4)"/>
<ellipse cx="715.0" cy="483.8" rx="18.2" ry="10.9" fill="#eaeaea" opacity="0.55" transform="rotate(144 715.0 483.8)"/>
<ellipse cx="984.5" cy="706.3" rx="11.2" ry="10.9" fill="#eaeaea" opacity="0.55" transform="rotate(130 984.5 706.3)"/>
<ellipse cx="546.8" cy="431.1" rx="6.7" ry="6.3" fill="#eaeaea" opacity="0.55" transform="rotate(145 546.8 431.1)"/>
<ellipse cx="533.8" cy="1147.3" rx="21.6" ry="17.2" fill="#eaeaea" opacity="0.55" transform="rotate(63 533.8 1147.3)"/>
<ellipse cx="753.6" cy="435.1" rx="4.3" ry="4.2" fill="#eaeaea" opacity="0.55" transform="rotate(117 753.6 435.1)"/>
<ellipse cx="741.5" cy="1257.0" rx="11.8" ry="10.9" fill="#eaeaea" opacity="0.55" transform="rotate(149 741.5 1257.0)"/>
<ellipse cx="569.2" cy="558.9" rx="9.3" ry="5.0" fill="#eaeaea" opacity="0.55" transform="rotate(106 569.2 558.9)"/>
<ellipse cx="595.6" cy="730.1" rx="6.4" ry="6.0" fill="#eaeaea" opacity="0.55" transform="rotate(64 595.6 730.1)"/>
<ellipse cx="704.2" cy="898.3" rx="20.3" ry="13.2" fill="#eaeaea" opacity="0.55" transform="rotate(165 704.2 898.3)"/>
<ellipse cx="727.9" cy="845.6" rx="13.4" ry="5.5" fill="#eaeaea" opacity="0.55" transform="rotate(79 727.9 845.6)"/>
<ellipse cx="554.0" cy="305.0" rx="18.4" ry="9.3" fill="#eaeaea" opacity="0.55" transform="rotate(85 554.0 305.0)"/>
<ellipse cx="850.0" cy="870.8" rx="9.9" ry="7.0" fill="#eaeaea" opacity="0.55" transform="rotate(100 850.0 870.8)"/>
<ellipse cx="882.2" cy="409.7" rx="14.1" ry="7.7" fill="#eaeaea" opacity="0.55" transform="rotate(50 882.2 409.7)"/>
<ellipse cx="875.7" cy="820.9" rx="14.1" ry="12.1" fill="#eaeaea" opacity="0.55" transform="rotate(164 875.7 820.9)"/>
<ellipse cx="696.0" cy="928.2" rx="13.1" ry="9.3" fill="#eaeaea" opacity="0.55" transform="rotate(125 696.0 928.2)"/>
<ellipse cx="701.0" cy="847.1" rx="12.6" ry="12.2" fill="#eaeaea" opacity="0.55" transform="rotate(126 701.0 847.1)"/>
<ellipse cx="932.6" cy="1265.8" rx="8.7" ry="6.4" fill="#eaeaea" opacity="0.55" transform="rotate(170 932.6 1265.8)"/>
<ellipse cx="912.6" cy="441.4" rx="6.2" ry="4.1" fill="#eaeaea" opacity="0.55" transform="rotate(13 912.6 441.4)"/>
<ellipse cx="585.4" cy="375.9" rx="16.1" ry="14.0" fill="#eaeaea" opacity="0.55" transform="rotate(161 585.4 375.9)"/>
<ellipse cx="538.3" cy="1034.3" rx="15.9" ry="7.7" fill="#eaeaea" opacity="0.55" transform="rotate(159 538.3 1034.3)"/>
<ellipse cx="982.3" cy="525.9" rx="21.1" ry="13.5" fill="#eaeaea" opacity="0.55" transform="rotate(88 982.3 525.9)"/>
<ellipse cx="994.5" cy="1153.4" rx="6.9" ry="4.6" fill="#eaeaea" opacity="0.55" transform="rotate(93 994.5 1153.4)"/>
<ellipse cx="639.2" cy="501.4" rx="9.7" ry="8.1" fill="#eaeaea" opacity="0.55" transform="rotate(4 639.2 501.4)"/>
<ellipse cx="756.5" cy="752.0" rx="4.3" ry="2.6" fill="#eaeaea" opacity="0.55" transform="rotate(112 756.5 752.0)"/>
<ellipse cx="733.7" cy="366.8" rx="21.7" ry="19.0" fill="#eaeaea" opacity="0.55" transform="rotate(175 733.7 366.8)"/>
<ellipse cx="511.2" cy="572.9" rx="4.7" ry="4.1" fill="#eaeaea" opacity="0.55" transform="rotate(49 511.2 572.9)"/>
<ellipse cx="524.7" cy="733.4" rx="20.4" ry="18.2" fill="#eaeaea" opacity="0.55" transform="rotate(47 524.7 733.4)"/>
<ellipse cx="535.6" cy="1242.2" rx="14.3" ry="11.7" fill="#eaeaea" opacity="0.55" transform="rotate(16 535.6 1242.2)"/>
<ellipse cx="485.4" cy="1005.7" rx="11.7" ry="5.2" fill="#eaeaea" opacity="0.55" transform="rotate(169 485.4 1005.7)"/>
<ellipse cx="800.4" cy="1121.9" rx="5.5" ry="5.0" fill="#eaeaea" opacity="0.55" transform="rotate(12 800.4 1121.9)"/>
<ellipse cx="925.1" cy="765.7" rx="10.1" ry="7.4" fill="#eaeaea" opacity="0.55" transform="rotate(167 925.1 765.7)"/>
<ellipse cx="600.3" cy="433.3" rx="13.5" ry="7.3" fill="#eaeaea" opacity="0.55" transform="rotate(20 600.3 433.3)"/>
<ellipse cx="542.2" cy="352.6" rx="7.6" ry="4.5" fill="#eaeaea" opacity="0.55" transform="rotate(55 542.2 352.6)"/>
<ellipse cx="868.7" cy="597.9" rx="13.0" ry="6.6" fill="#eaeaea" opacity="0.55" transform="rotate(62 868.7 597.9)"/>
<ellipse cx="463.9" cy="557.5" rx="4.3" ry="3.6" fill="#eaeaea" opacity="0.55" transform="rotate(99 463.9 557.5)"/>
<ellipse cx="557.4" cy="787.2" rx="20.8" ry="9.7" fill="#eaeaea" opacity="0.55" transform="rotate(147 557.4 787.2)"/>
<ellipse cx="690.0" cy="807.9" rx="19.0" ry="12.1" fill="#eaeaea" opacity="0.55" transform="rotate(91 690.0 807.9)"/>
<ellipse cx="829.5" cy="1307.0" rx="10.2" ry="9.1" fill="#eaeaea" opacity="0.55" transform="rotate(127 829.5 1307.0)"/>
<ellipse cx="801.2" cy="715.4" rx="10.3" ry="4.4" fill="#eaeaea" opacity="0.55" transform="rotate(23 801.2 715.4)"/>
<ellipse cx="492.6" cy="1059.7" rx="8.6" ry="4.3" fill="#eaeaea" opacity="0.55" transform="rotate(15 492.6 1059.7)"/>
<ellipse cx="913.3" cy="1192.4" rx="16.1" ry="9.1" fill="#eaeaea" opacity="0.55" transform="rotate(44 913.3 1192.4)"/>
<ellipse cx="614.0" cy="771.5" rx="6.8" ry="4.6" fill="#eaeaea" opacity="0.55" transform="rotate(47 614.0 771.5)"/>
<ellipse cx="979.1" cy="1297.0" rx="13.8" ry="7.6" fill="#eaeaea" opacity="0.55" transform="rotate(174 979.1 1297.0)"/>
<ellipse cx="623.0" cy="666.1" rx="4.0" ry="2.5" fill="#eaeaea" opacity="0.55" transform="rotate(85 623.0 666.1)"/>
<ellipse cx="728.5" cy="506.8" rx="13.1" ry="5.3" fill="#eaeaea" opacity="0.55" transform="rotate(48 728.5 506.8)"/>
<ellipse cx="503.0" cy="710.1" rx="4.8" ry="2.0" fill="#eaeaea" opacity="0.55" transform="rotate(55 503.0 710.1)"/>
<ellipse cx="581.1" cy="900.6" rx="13.5" ry="11.5" fill="#eaeaea" opacity="0.55" transform="rotate(118 581.1 900.6)"/>
<ellipse cx="844.9" cy="1201.2" rx="11.0" ry="6.6" fill="#eaeaea" opacity="0.55" transform="rotate(177 844.9 1201.2)"/>
<ellipse cx="535.6" cy="1042.5" rx="15.6" ry="6.6" fill="#eaeaea" opacity="0.55" transform="rotate(150 535.6 1042.5)"/>
<ellipse cx="941.0" cy="943.4" rx="17.2" ry="15.3" fill="#eaeaea" opacity="0.55" transform="rotate(25 941.0 943.4)"/>
<ellipse cx="740.0" cy="817.5" rx="19.0" ry="16.8" fill="#eaeaea" opacity="0.55" transform="rotate(149 740.0 817.5)"/>
<ellipse cx="772.9" cy="1215.3" rx="16.3" ry="13.3" fill="#eaeaea" opacity="0.55" transform="rotate(41 772.9 1215.3)"/>
<ellipse cx="471.0" cy="437.3" rx="10.5" ry="4.9" fill="#eaeaea" opacity="0.55" transform="rotate(150 471.0 437.3)"/>
<ellipse cx="759.0" cy="943.8" rx="15.3" ry="12.3" fill="#eaeaea" opacity="0.55" transform="rotate(88 759.0 943.8)"/>
<ellipse cx="455.8" cy="1117.8" rx="17.5" ry="12.3" fill="#eaeaea" opacity="0.55" transform="rotate(96 455.8 1117.8)"/>
<ellipse cx="814.0" cy="368.6" rx="17.3" ry="9.5" fill="#eaeaea" opacity="0.55" transform="rotate(13 814.0 368.6)"/>
<ellipse cx="599.0" cy="1047.8" rx="7.7" ry="6.5" fill="#eaeaea" opacity="0.55" transform="rotate(176 599.0 1047.8)"/>
<ellipse cx="723.7" cy="692.7" rx="12.6" ry="10.2" fill="#eaeaea" opacity="0.55" transform="rotate(138 723.7 692.7)"/>
<ellipse cx="790.9" cy="959.2" rx="5.4" ry="2.6" fill="#eaeaea" opacity="0.55" transform="rotate(46 790.9 959.2)"/>
<ellipse cx="859.8" cy="612.7" rx="14.2" ry="5.8" fill="#eaeaea" opacity="0.55" transform="rotate(11 859.8 612.7)"/>
<ellipse cx="600.7" cy="989.1" rx="16.5" ry="13.3" fill="#eaeaea" opacity="0.55" transform="rotate(52 600.7 989.1)"/>
<ellipse cx="736.0" cy="776.8" rx="12.4" ry="5.8" fill="#eaeaea" opacity="0.55" transform="rotate(161 736.0 776.8)"/>
<ellipse cx="562.8" cy="1302.6" rx="20.9" ry="8.6" fill="#eaeaea" opacity="0.55" transform="rotate(83 562.8 1302.6)"/>
<ellipse cx="901.7" cy="1292.3" rx="12.1" ry="6.8" fill="#eaeaea" opacity="0.55" transform="rotate(38 901.7 1292.3)"/>
<ellipse cx="970.3" cy="516.8" rx="14.5" ry="7.0" fill="#eaeaea" opacity="0.55" transform="rotate(94 970.3 516.8)"/>
<ellipse cx="974.2" cy="436.8" rx="18.8" ry="13.2" fill="#eaeaea" opacity="0.55" transform="rotate(160 974.2 436.8)"/>
<ellipse cx="838.0" cy="537.9" rx="20.2" ry="13.9" fill="#eaeaea" opacity="0.55" transform="rotate(4 838.0 537.9)"/>
<ellipse cx="456.0" cy="804.5" rx="12.1" ry="7.0" fill="#eaeaea" opacity="0.55" transform="rotate(25 456.0 804.5)"/>
<ellipse cx="641.8" cy="624.7" rx="19.1" ry="7.7" fill="#eaeaea" opacity="0.55" transform="rotate(135 641.8 624.7)"/>
<ellipse cx="912.2" cy="423.9" rx="20.7" ry="17.1" fill="#eaeaea" opacity="0.55" transform="rotate(162 912.2 423.9)"/>
<ellipse cx="612.2" cy="682.2" rx="11.1" ry="11.1" fill="#eaeaea" opacity="0.55" transform="rotate(106 612.2 682.2)"/>
<ellipse cx="650.9" cy="739.3" rx="9.0" ry="3.8" fill="#eaeaea" opacity="0.55" transform="rotate(18 650.9 739.3)"/>
<ellipse cx="909.7" cy="593.5" rx="20.8" ry="11.5" fill="#eaeaea" opacity="0.55" transform="rotate(48 909.7 593.5)"/>
<ellipse cx="733.0" cy="495.4" rx="10.7" ry="10.4" fill="#eaeaea" opacity="0.55" transform="rotate(159 733.0 495.4)"/>
<ellipse cx="897.3" cy="947.0" rx="20.4" ry="19.7" fill="#eaeaea" opacity="0.55" transform="rotate(99 897.3 947.0)"/>
<ellipse cx="846.9" cy="351.7" rx="17.2" ry="11.5" fill="#eaeaea" opacity="0.55" transform="rotate(135 846.9 351.7)"/>
<ellipse cx="805.9" cy="594.1" rx="4.9" ry="4.7" fill="#eaeaea" opacity="0.55" transform="rotate(23 805.9 594.1)"/>
<ellipse cx="711.8" cy="652.9" rx="9.4" ry="7.9" fill="#eaeaea" opacity="0.55" transform="rotate(176 711.8 652.9)"/>
<ellipse cx="596.1" cy="972.7" rx="9.4" ry="6.9" fill="#eaeaea" opacity="0.55" transform="rotate(71 596.1 972.7)"/>
<ellipse cx="545.4" cy="466.5" rx="7.7" ry="7.3" fill="#eaeaea" opacity="0.55" transform="rotate(89 545.4 466.5)"/>
<ellipse cx="574.1" cy="1229.0" rx="21.9" ry="14.7" fill="#eaeaea" opacity="0.55" transform="rotate(25 574.1 1229.0)"/>
<ellipse cx="559.1" cy="393.9" rx="10.2" ry="4.6" fill="#eaeaea" opacity="0.55" transform="rotate(43 559.1 393.9)"/>
<ellipse cx="595.1" cy="884.3" rx="20.0" ry="17.0" fill="#eaeaea" opacity="0.55" transform="rotate(74 595.1 884.3)"/>
<ellipse cx="680.0" cy="837.7" rx="10.8" ry="6.5" fill="#eaeaea" opacity="0.55" transform="rotate(11 680.0 837.7)"/>
<ellipse cx="605.5" cy="1291.9" rx="6.3" ry="4.4" fill="#eaeaea" opacity="0.55" transform="rotate(113 605.5 1291.9)"/>
<ellipse cx="925.1" cy="522.1" rx="8.9" ry="4.9" fill="#eaeaea" opacity="0.55" transform="rotate(72 925.1 522.1)"/>
<ellipse cx="697.4" cy="1277.8" rx="19.3" ry="17.8" fill="#eaeaea" opacity="0.55" transform="rotate(4 697.4 1277.8)"/>
<ellipse cx="471.6" cy="1027.5" rx="20.1" ry="13.8" fill="#eaeaea" opacity="0.55" transform="rotate(106 471.6 1027.5)"/>
<ellipse cx="454.1" cy="701.9" rx="20.7" ry="18.5" fill="#eaeaea" opacity="0.55" transform="rotate(154 454.1 701.9)"/>
<ellipse cx="984.8" cy="555.4" rx="6.0" ry="2.9" fill="#eaeaea" opacity="0.55" transform="rotate(94 984.8 555.4)"/>
<ellipse cx="826.4" cy="1265.1" rx="17.0" ry="13.4" fill="#eaeaea" opacity="0.55" transform="rotate(138 826.4 1265.1)"/>
<ellipse cx="703.7" cy="865.7" rx="4.7" ry="4.1" fill="#eaeaea" opacity="0.55" transform="rotate(42 703.7 865.7)"/>
<ellipse cx="956.3" cy="962.0" rx="9.5" ry="4.5" fill="#eaeaea" opacity="0.55" transform="rotate(45 956.3 962.0)"/>
<ellipse cx="801.4" cy="1016.3" rx="6.0" ry="2.7" fill="#eaeaea" opacity="0.55" transform="rotate(94 801.4 1016.3)"/>
<ellipse cx="772.3" cy="698.4" rx="8.0" ry="6.1" fill="#eaeaea" opacity="0.55" transform="rotate(2 772.3 698.4)"/>
<ellipse cx="618.6" cy="772.7" rx="21.3" ry="16.7" fill="#eaeaea" opacity="0.55" transform="rotate(159 618.6 772.7)"/>
<ellipse cx="713.5" cy="541.4" rx="8.4" ry="8.2" fill="#eaeaea" opacity="0.55" transform="rotate(127 713.5 541.4)"/>
<ellipse cx="621.8" cy="323.3" rx="13.0" ry="10.4" fill="#eaeaea" opacity="0.55" transform="rotate(76 621.8 323.3)"/>
<ellipse cx="594.5" cy="984.4" rx="20.7" ry="11.1" fill="#eaeaea" opacity="0.55" transform="rotate(6 594.5 984.4)"/>
<ellipse cx="638.6" cy="731.7" rx="16.3" ry="8.5" fill="#eaeaea" opacity="0.55" transform="rotate(143 638.6 731.7)"/>
<ellipse cx="857.6" cy="818.0" rx="7.7" ry="7.6" fill="#eaeaea" opacity="0.55" transform="rotate(56 857.6 818.0)"/>
<ellipse cx="901.7" cy="537.3" rx="8.0" ry="6.8" fill="#eaeaea" opacity="0.55" transform="rotate(53 901.7 537.3)"/>
<ellipse cx="973.8" cy="808.7" rx="7.4" ry="3.9" fill="#eaeaea" opacity="0.55" transform="rotate(75 973.8 808.7)"/>
<ellipse cx="817.3" cy="1272.5" rx="6.6" ry="4.2" fill="#eaeaea" opacity="0.55" transform="rotate(38 817.3 1272.5)"/>
<ellipse cx="985.9" cy="446.3" rx="4.9" ry="2.2" fill="#eaeaea" opacity="0.55" transform="rotate(71 985.9 446.3)"/>
<ellipse cx="944.4" cy="1205.8" rx="17.2" ry="17.2" fill="#eaeaea" opacity="0.55" transform="rotate(168 944.4 1205.8)"/>
<ellipse cx="633.8" cy="491.0" rx="20.8" ry="17.7" fill="#eaeaea" opacity="0.55" transform="rotate(6 633.8 491.0)"/>
<ellipse cx="816.8" cy="688.7" rx="10.7" ry="6.4" fill="#eaeaea" opacity="0.55" transform="rotate(30 816.8 688.7)"/>
<ellipse cx="455.6" cy="587.5" rx="10.3" ry="10.1" fill="#eaeaea" opacity="0.55" transform="rotate(22 455.6 587.5)"/>
<ellipse cx="980.5" cy="513.4" rx="10.4" ry="9.3" fill="#eaeaea" opacity="0.55" transform="rotate(148 980.5 513.4)"/>
<ellipse cx="690.1" cy="351.4" rx="12.5" ry="7.8" fill="#eaeaea" opacity="0.55" transform="rotate(166 690.1 351.4)"/>
<ellipse cx="559.4" cy="674.0" rx="20.1" ry="8.4" fill="#eaeaea" opacity="0.55" transform="rotate(74 559.4 674.0)"/>
<ellipse cx="897.3" cy="1086.1" rx="4.7" ry="2.0" fill="#eaeaea" opacity="0.55" transform="rotate(11 897.3 1086.1)"/>
<ellipse cx="956.4" cy="564.2" rx="17.5" ry="16.4" fill="#eaeaea" opacity="0.55" transform="rotate(61 956.4 564.2)"/>
<ellipse cx="602.7" cy="1281.7" rx="15.1" ry="8.4" fill="#eaeaea" opacity="0.55" transform="rotate(129 602.7 1281.7)"/>
<ellipse cx="626.8" cy="583.2" rx="4.1" ry="3.5" fill="#eaeaea" opacity="0.55" transform="rotate(165 626.8 583.2)"/>
<ellipse cx="800.2" cy="1266.9" rx="4.4" ry="2.4" fill="#eaeaea" opacity="0.55" transform="rotate(86 800.2 1266.9)"/>
<ellipse cx="976.4" cy="1277.8" rx="11.0" ry="6.0" fill="#eaeaea" opacity="0.55" transform="rotate(77 976.4 1277.8)"/>
<ellipse cx="723.4" cy="1251.4" rx="7.3" ry="6.4" fill="#eaeaea" opacity="0.55" transform="rotate(133 723.4 1251.4)"/>
<ellipse cx="903.2" cy="1092.4" rx="14.9" ry="8.9" fill="#eaeaea" opacity="0.55" transform="rotate(58 903.2 1092.4)"/>
<ellipse cx="651.6" cy="1102.0" rx="5.4" ry="2.8" fill="#eaeaea" opacity="0.55" transform="rotate(136 651.6 1102.0)"/>
<ellipse cx="589.0" cy="367.3" rx="4.6" ry="3.4" fill="#eaeaea" opacity="0.55" transform="rotate(59 589.0 367.3)"/>
<ellipse cx="989.2" cy="1205.7" rx="21.8" ry="12.2" fill="#eaeaea" opacity="0.55" transform="rotate(15 989.2 1205.7)"/>
<ellipse cx="506.6" cy="811.4" rx="16.8" ry="11.2" fill="#eaeaea" opacity="0.55" transform="rotate(42 506.6 811.4)"/>
<ellipse cx="681.6" cy="936.2" rx="16.1" ry="13.7" fill="#eaeaea" opacity="0.55" transform="rotate(152 681.6 936.2)"/>
<ellipse cx="816.8" cy="425.1" rx="19.1" ry="11.0" fill="#eaeaea" opacity="0.55" transform="rotate(102 816.8 425.1)"/>
<ellipse cx="657.6" cy="1056.8" rx="7.6" ry="4.2" fill="#eaeaea" opacity="0.55" transform="rotate(44 657.6 1056.8)"/>
<ellipse cx="537.7" cy="1206.4" rx="14.4" ry="8.6" fill="#eaeaea" opacity="0.55" transform="rotate(71 537.7 1206.4)"/>
<ellipse cx="995.9" cy="820.5" rx="8.2" ry="7.2" fill="#eaeaea" opacity="0.55" transform="rotate(118 995.9 820.5)"/>
<ellipse cx="995.1" cy="405.8" rx="12.5" ry="11.2" fill="#eaeaea" opacity="0.55" transform="rotate(151 995.1 405.8)"/>
<ellipse cx="953.2" cy="342.3" rx="9.3" ry="4.4" fill="#eaeaea" opacity="0.55" transform="rotate(34 953.2 342.3)"/>
<ellipse cx="985.2" cy="898.2" rx="20.7" ry="12.9" fill="#eaeaea" opacity="0.55" transform="rotate(156 985.2 898.2)"/>
<ellipse cx="699.2" cy="567.2" rx="18.0" ry="17.4" fill="#eaeaea" opacity="0.55" transform="rotate(19 699.2 567.2)"/>
<ellipse cx="779.5" cy="935.8" rx="7.9" ry="4.9" fill="#eaeaea" opacity="0.55" transform="rotate(25 779.5 935.8)"/>
<ellipse cx="565.4" cy="562.0" rx="14.8" ry="11.7" fill="#eaeaea" opacity="0.55" transform="rotate(37 565.4 562.0)"/>
<ellipse cx="460.2" cy="636.1" rx="16.2" ry="8.3" fill="#eaeaea" opacity="0.55" transform="rotate(56 460.2 636.1)"/>
<ellipse cx="565.1" cy="1115.4" rx="13.9" ry="6.1" fill="#eaeaea" opacity="0.55" transform="rotate(18 565.1 1115.4)"/>
<ellipse cx="669.8" cy="864.3" rx="15.5" ry="7.1" fill="#eaeaea" opacity="0.55" transform="rotate(29 669.8 864.3)"/>
<ellipse cx="833.7" cy="720.6" rx="9.1" ry="5.3" fill="#eaeaea" opacity="0.55" transform="rotate(172 833.7 720.6)"/>
<ellipse cx="624.5" cy="881.1" rx="10.4" ry="6.8" fill="#eaeaea" opacity="0.55" transform="rotate(156 624.5 881.1)"/>
<ellipse cx="998.2" cy="673.5" rx="7.5" ry="6.3" fill="#eaeaea" opacity="0.55" transform="rotate(37 998.2 673.5)"/>
<ellipse cx="457.2" cy="1224.3" rx="11.6" ry="10.4" fill="#eaeaea" opacity="0.55" transform="rotate(73 457.2 1224.3)"/>
<ellipse cx="936.0" cy="773.0" rx="6.9" ry="2.8" fill="#eaeaea" opacity="0.55" transform="rotate(99 936.0 773.0)"/>
<ellipse cx="803.8" cy="1232.6" rx="5.6" ry="4.3" fill="#eaeaea" opacity="0.55" transform="rotate(67 803.8 1232.6)"/>
<ellipse cx="729.4" cy="450.4" rx="9.1" ry="6.5" fill="#eaeaea" opacity="0.55" transform="rotate(167 729.4 450.4)"/>
<ellipse cx="513.4" cy="803.3" rx="18.5" ry="18.1" fill="#eaeaea" opacity="0.55" transform="rotate(36 513.4 803.3)"/>
<ellipse cx="523.2" cy="1266.7" rx="21.6" ry="14.9" fill="#eaeaea" opacity="0.55" transform="rotate(10 523.2 1266.7)"/>
<ellipse cx="959.7" cy="698.2" rx="20.3" ry="15.7" fill="#eaeaea" opacity="0.55" transform="rotate(148 959.7 698.2)"/>
<ellipse cx="541.5" cy="1105.7" rx="8.0" ry="5.1" fill="#eaeaea" opacity="0.55" transform="rotate(152 541.5 1105.7)"/>
<ellipse cx="906.7" cy="488.4" rx="7.9" ry="5.1" fill="#eaeaea" opacity="0.55" transform="rotate(93 906.7 488.4)"/>
<ellipse cx="663.4" cy="427.0" rx="8.4" ry="7.1" fill="#eaeaea" opacity="0.55" transform="rotate(162 663.4 427.0)"/>
<ellipse cx="476.4" cy="876.8" rx="17.6" ry="7.5" fill="#eaeaea" opacity="0.55" transform="rotate(151 476.4 876.8)"/>
<ellipse cx="518.3" cy="914.9" rx="13.9" ry="10.8" fill="#eaeaea" opacity="0.55" transform="rotate(55 518.3 914.9)"/>
<ellipse cx="683.4" cy="897.6" rx="11.7" ry="9.3" fill="#eaeaea" opacity="0.55" transform="rotate(80 683.4 897.6)"/>
<ellipse cx="693.3" cy="324.9" rx="15.1" ry="10.5" fill="#eaeaea" opacity="0.55" transform="rotate(42 693.3 324.9)"/>
<ellipse cx="870.9" cy="1099.7" rx="12.2" ry="6.2" fill="#eaeaea" opacity="0.55" transform="rotate(85 870.9 1099.7)"/>
<ellipse cx="512.5" cy="432.5" rx="11.8" ry="5.3" fill="#eaeaea" opacity="0.55" transform="rotate(80 512.5 432.5)"/>
<ellipse cx="732.5" cy="342.7" rx="15.5" ry="6.9" fill="#eaeaea" opacity="0.55" transform="rotate(132 732.5 342.7)"/>
<ellipse cx="878.6" cy="824.8" rx="5.0" ry="3.5" fill="#eaeaea" opacity="0.55" transform="rotate(68 878.6 824.8)"/>
<path d="M925.6,440.5 L946.6,433.9 L968.6,433.4 L989.3,441.0 L1011.3,440.7 L1029.8,452.4 L1048.6,464.0 L1058.5,483.7 L1057.8,505.7" stroke="#cfcfcf" stroke-width="1.3" fill="none"/>
<path d="M535.9,1108.3 L548.6,1090.3 L557.8,1070.4 L572.7,1054.1 L579.9,1033.3 L595.8,1018.1 L607.0,999.2 L624.5,985.9 L634.8,966.4" stroke="#cfcfcf" stroke-width="1.3" fill="none"/>
<path d="M703.1,1243.0 L714.5,1261.8 L725.8,1280.7 L740.9,1296.7 L762.2,1302.3 L784.0,1299.6 L803.0,1288.5 L825.0,1288.4 L846.5,1292.9" stroke="#cfcfcf" stroke-width="1.3" fill="none"/>
<path d="M898.1,473.8 L892.8,452.4 L888.3,430.9 L887.4,408.9 L882.8,387.4 L888.0,366.0 L894.5,345.0 L903.1,324.8 L919.7,310.4" stroke="#cfcfcf" stroke-width="1.3" fill="none"/>
<path d="M505.9,1317.8 L488.9,1303.8 L477.9,1284.8 L462.0,1269.6 L457.2,1248.1 L454.4,1226.3 L448.1,1205.2 L448.6,1183.2 L447.6,1161.2" stroke="#cfcfcf" stroke-width="1.3" fill="none"/>
<path d="M541.7,1062.4 L558.7,1076.4 L579.0,1084.8 L597.7,1096.5 L606.9,1116.4 L614.0,1137.3 L616.8,1159.1 L624.5,1179.7 L642.5,1192.4" stroke="#cfcfcf" stroke-width="1.3" fill="none"/>
<path d="M470.8,453.9 L453.2,440.7 L435.9,427.1 L426.6,407.2 L409.8,393.1 L389.2,385.1 L370.5,373.6 L348.5,374.0 L330.6,386.8" stroke="#cfcfcf" stroke-width="1.3" fill="none"/>
<path d="M630.1,409.9 L622.7,430.6 L613.3,450.5 L601.8,469.3 L597.5,490.9 L590.1,511.6 L583.3,532.5 L586.1,554.3 L577.5,574.6" stroke="#cfcfcf" stroke-width="1.3" fill="none"/>
<path d="M574.8,453.9 L590.6,469.2 L598.3,489.8 L598.8,511.8 L601.8,533.6 L610.7,553.7 L629.3,565.5 L645.6,580.3 L660.7,596.3" stroke="#cfcfcf" stroke-width="1.3" fill="none"/>
<path d="M627.8,962.1 L606.1,958.4 L586.3,948.8 L564.5,945.5 L546.8,932.4 L524.9,930.5 L503.1,927.8 L481.1,927.6 L460.1,934.1" stroke="#cfcfcf" stroke-width="1.3" fill="none"/>
<path d="M483.0,1098.6 L504.7,1101.6 L522.0,1115.2 L543.4,1120.4 L565.2,1117.8 L587.2,1117.9 L609.2,1118.3 L630.8,1122.3 L649.5,1134.1" stroke="#cfcfcf" stroke-width="1.3" fill="none"/>
<path d="M540.6,617.8 L545.6,639.2 L540.3,660.6 L528.2,679.0 L511.9,693.7 L506.5,715.0 L493.0,732.4 L475.0,745.1 L457.6,758.6" stroke="#cfcfcf" stroke-width="1.3" fill="none"/>
<path d="M821.9,764.3 L834.8,782.2 L852.6,795.1 L874.6,796.6 L896.4,793.9 L918.1,797.7 L938.3,806.4 L953.2,822.5 L963.7,841.9" stroke="#cfcfcf" stroke-width="1.3" fill="none"/>
<path d="M585.9,868.1 L564.0,869.3 L542.0,869.9 L521.0,876.6 L499.2,879.7 L479.1,870.7 L457.2,869.0 L438.3,857.7 L416.3,858.7" stroke="#cfcfcf" stroke-width="1.3" fill="none"/>
<path d="M583.1,542.8 L593.6,523.4 L609.2,507.9 L621.3,489.6 L640.3,478.4 L656.6,463.6 L667.5,444.5 L686.1,432.8 L706.4,424.2" stroke="#cfcfcf" stroke-width="1.3" fill="none"/>
<path d="M797.7,982.2 L819.3,978.5 L840.7,983.7 L860.3,993.8 L873.8,1011.1 L888.7,1027.4 L898.7,1047.0 L907.0,1067.3 L919.7,1085.3" stroke="#cfcfcf" stroke-width="1.3" fill="none"/>
<path d="M559.1,938.6 L571.4,956.9 L590.1,968.5 L612.0,968.2 L631.5,957.9 L653.5,958.6 L675.2,955.2 L693.6,943.0 L702.5,922.9" stroke="#cfcfcf" stroke-width="1.3" fill="none"/>
<path d="M474.7,1010.2 L464.2,990.9 L459.7,969.3 L445.0,953.0 L432.2,935.1 L416.6,919.5 L408.0,899.3 L407.5,877.3 L417.1,857.5" stroke="#cfcfcf" stroke-width="1.3" fill="none"/>
<path d="M486.7,1189.6 L508.7,1189.5 L528.3,1179.4 L543.1,1163.2 L549.1,1142.0 L543.0,1120.9 L545.9,1099.1 L556.7,1079.9 L570.3,1062.7" stroke="#cfcfcf" stroke-width="1.3" fill="none"/>
<path d="M863.2,947.7 L868.6,969.0 L883.2,985.5 L892.2,1005.6 L907.5,1021.3 L925.9,1033.4 L945.3,1043.7 L967.3,1041.8 L987.7,1033.7" stroke="#cfcfcf" stroke-width="1.3" fill="none"/>
<path d="M594.2,1033.9 L583.1,1053.0 L563.7,1063.3 L544.2,1073.5 L522.2,1074.8 L500.3,1073.1 L480.8,1083.3 L462.5,1095.4 L445.1,1109.0" stroke="#cfcfcf" stroke-width="1.3" fill="none"/>
<path d="M837.4,656.1 L832.2,634.7 L820.2,616.3 L817.0,594.6 L803.9,576.9 L798.4,555.5 L785.2,538.0 L764.3,531.0 L742.3,531.7" stroke="#cfcfcf" stroke-width="1.3" fill="none"/>
<path d="M832.0,1302.3 L854.0,1302.7 L876.0,1302.8 L896.6,1310.6 L918.6,1310.3 L940.6,1309.8 L962.1,1305.3 L983.7,1309.5 L1005.6,1307.4" stroke="#cfcfcf" stroke-width="1.3" fill="none"/>
<path d="M922.2,591.5 L921.8,613.5 L921.4,635.5 L931.0,655.3 L937.3,676.4 L953.0,691.9 L962.4,711.7 L967.0,733.2 L964.1,755.0" stroke="#cfcfcf" stroke-width="1.3" fill="none"/>
<path d="M765.5,665.2 L749.3,680.1 L728.2,686.1 L712.4,701.5 L691.5,708.2 L677.4,725.2 L670.1,745.9 L668.9,767.9 L657.6,786.8" stroke="#cfcfcf" stroke-width="1.3" fill="none"/>
<path d="M702.6,689.4 L713.6,670.3 L723.6,650.8 L734.4,631.6 L750.5,616.6 L770.3,607.0 L791.5,601.1 L811.3,591.4 L828.6,577.9" stroke="#cfcfcf" stroke-width="1.3" fill="none"/>
<path d="M531.0,1164.3 L525.3,1143.1 L511.9,1125.7 L497.2,1109.3 L488.5,1089.1 L481.9,1068.1 L466.7,1052.1 L450.9,1036.9 L443.6,1016.1" stroke="#cfcfcf" stroke-width="1.3" fill="none"/>
<path d="M572.0,497.2 L560.2,515.7 L541.9,528.0 L530.1,546.6 L526.8,568.3 L530.1,590.1 L537.8,610.7 L545.0,631.5 L559.8,647.7" stroke="#cfcfcf" stroke-width="1.3" fill="none"/>
<path d="M616.7,494.8 L638.6,497.4 L659.2,489.7 L680.7,493.9 L701.9,487.8 L721.9,478.8 L743.7,482.3 L762.8,493.1 L778.3,508.8" stroke="#cfcfcf" stroke-width="1.3" fill="none"/>
<path d="M669.7,501.9 L649.4,493.4 L627.4,492.5 L605.5,494.5 L588.0,507.8 L572.2,523.1 L552.2,532.2 L530.6,536.3 L509.0,540.5" stroke="#cfcfcf" stroke-width="1.3" fill="none"/>
<path d="M767.7,775.4 L779.3,794.1 L792.9,811.3 L801.1,831.8 L798.7,853.6 L798.1,875.6 L795.6,897.5 L786.8,917.6 L779.9,938.5" stroke="#cfcfcf" stroke-width="1.3" fill="none"/>
<path d="M567.4,1040.6 L587.4,1031.5 L609.0,1027.5 L630.4,1032.6 L650.2,1042.3 L668.0,1055.1 L686.6,1067.0 L707.3,1074.4 L726.6,1084.9" stroke="#cfcfcf" stroke-width="1.3" fill="none"/>
<path d="M502.5,730.7 L512.3,710.9 L525.0,693.0 L531.8,672.0 L536.7,650.6 L540.4,628.9 L547.2,608.0 L551.7,586.5 L560.6,566.3" stroke="#cfcfcf" stroke-width="1.3" fill="none"/>
<path d="M915.4,488.5 L909.6,467.2 L901.0,447.0 L892.2,426.8 L895.7,405.1 L887.2,384.8 L879.7,364.1 L864.7,348.0 L855.9,327.9" stroke="#cfcfcf" stroke-width="1.3" fill="none"/>
<path d="M920.5,832.7 L937.0,847.3 L952.7,862.6 L964.0,881.6 L974.9,900.6 L982.6,921.3 L981.7,943.2 L980.2,965.2 L981.1,987.2" stroke="#cfcfcf" stroke-width="1.3" fill="none"/>
<path d="M924.2,516.1 L912.9,497.3 L907.9,475.8 L894.1,458.7 L891.9,436.8 L886.1,415.6 L870.2,400.4 L850.9,389.9 L830.4,381.8" stroke="#cfcfcf" stroke-width="1.3" fill="none"/>
<path d="M460.6,729.6 L439.3,735.3 L419.4,744.7 L402.9,759.2 L392.0,778.3 L376.1,793.5 L354.7,798.5 L333.1,802.9 L314.2,814.2" stroke="#cfcfcf" stroke-width="1.3" fill="none"/>
<path d="M851.5,702.4 L865.4,719.4 L873.0,740.1 L872.6,762.1 L868.6,783.7 L865.5,805.5 L860.7,827.0 L863.1,848.8 L853.6,868.7" stroke="#cfcfcf" stroke-width="1.3" fill="none"/>
<path d="M629.2,955.1 L645.1,940.0 L660.5,924.2 L671.5,905.2 L683.7,886.9 L686.6,865.1 L697.8,846.1 L705.6,825.5 L721.1,809.9" stroke="#cfcfcf" stroke-width="1.3" fill="none"/>
<path d="M586.6,686.2 L588.1,708.1 L597.5,728.0 L616.5,739.1 L631.9,754.9 L650.8,766.1 L672.3,771.1 L694.3,770.8 L716.2,770.1" stroke="#cfcfcf" stroke-width="1.3" fill="none"/>
<path d="M666.5,953.6 L651.8,937.3 L647.0,915.8 L651.4,894.3 L644.4,873.4 L645.8,851.5 L657.4,832.8 L674.6,819.0 L684.4,799.3" stroke="#cfcfcf" stroke-width="1.3" fill="none"/>
<path d="M866.3,949.4 L885.7,939.0 L907.7,940.1 L929.1,945.2 L951.0,943.9 L969.9,932.5 L982.3,914.4 L988.5,893.2 L1001.1,875.3" stroke="#cfcfcf" stroke-width="1.3" fill="none"/>
<path d="M625.8,457.3 L647.1,451.8 L664.6,438.5 L686.3,434.5 L708.2,433.4 L729.4,439.6 L748.8,449.9 L761.4,467.9 L767.1,489.2" stroke="#cfcfcf" stroke-width="1.3" fill="none"/>
<path d="M870.0,503.1 L863.1,482.2 L862.4,460.3 L860.0,438.4 L867.7,417.7 L876.6,397.6 L879.6,375.8 L875.6,354.2 L862.9,336.2" stroke="#cfcfcf" stroke-width="1.3" fill="none"/>
<path d="M698.6,360.9 L680.8,373.9 L663.2,387.1 L645.7,400.3 L627.5,412.7 L605.8,416.3 L589.8,431.4 L569.1,438.8 L548.7,447.1" stroke="#cfcfcf" stroke-width="1.3" fill="none"/>
<path d="M471,301.6 L479,312.7 L490,323.8 L498,331.7 L507.5,346 L518.6,357 L534.4,368 L547,382.4 L555,392 L563,387.2 L578.8,395 L591.5,390.3 L591.5,414.1" stroke="#8e8e8e" stroke-width="2.8" fill="none" stroke-linejoin="round"/>
<path d="M490,331 L486,337 L485,349 L490,352 L493,342 L497,334" stroke="#8e8e8e" stroke-width="2.2" fill="none"/>
<path d="M739,1113 L720,1100 L700,1075 L680,1072 L640,1075 L620,1095 L600,1100 L590,1120 L575,1160 L578,1210 L575,1240 L555,1265 L540,1270 L520,1268 L510,1258 L490,1252 L475,1250 L455,1249" stroke="#8a8a8a" stroke-width="2.6" fill="none"/>
<ellipse cx="675" cy="1287" rx="28" ry="13" fill="#d8d8d8" transform="rotate(-25 675 1287)"/>
<ellipse cx="685" cy="1082" rx="16" ry="9" fill="#d4d4d4"/>
<ellipse cx="549" cy="1025" rx="10" ry="8" fill="#d6d6d6"/>
<polygon points="1263,299 1263,299 1251,319.5 1226.5,348 1210,376.6 1185.6,405 1161,442 1128.5,474.5 1112,523.5 1080,550 1064.5,581.7 1048.7,613.4 1036,645 1020,676.8 1004,699 998,727.5 994.8,756 1001,791 1013.8,819.4 1026.5,851 1036,892.3 1048.7,943 1080.6,968 1097.4,997.4 1118.4,1014.2 1152,1022.6 1173,1039.4 1194,1068.8 1198.2,1079.3 1173,1089.8 1152,1106.6 1135.2,1127.6 1101.6,1148.6 1080.6,1173.8 1042.8,1190.6 1000.8,1207.4 975.6,1224.2 946.2,1253.6 929.4,1283 927.3,1328 1470,1330 1470,295" fill="#b9b9b9"/>
<defs><pattern id="wave" width="16" height="16" patternUnits="userSpaceOnUse"><path d="M0,10 q4,-5 8,0 t8,0" stroke="#b1b1b1" stroke-width="2.4" fill="none"/></pattern></defs>
<polygon points="1263,299 1263,299 1251,319.5 1226.5,348 1210,376.6 1185.6,405 1161,442 1128.5,474.5 1112,523.5 1080,550 1064.5,581.7 1048.7,613.4 1036,645 1020,676.8 1004,699 998,727.5 994.8,756 1001,791 1013.8,819.4 1026.5,851 1036,892.3 1048.7,943 1080.6,968 1097.4,997.4 1118.4,1014.2 1152,1022.6 1173,1039.4 1194,1068.8 1198.2,1079.3 1173,1089.8 1152,1106.6 1135.2,1127.6 1101.6,1148.6 1080.6,1173.8 1042.8,1190.6 1000.8,1207.4 975.6,1224.2 946.2,1253.6 929.4,1283 927.3,1328 1470,1330 1470,295" fill="url(#wave)"/>
<polygon points="1010,299 1263,299 1251,319.5 1226.5,348 1210,376.6 1185.6,405 1161,442 1128.5,474.5 1112,523.5 1080,550 1064.5,581.7 1048.7,613.4 1036,645 1020,676.8 1004,699 998,727.5 994.8,756 1001,791 1013.8,819.4 1026.5,851 1036,892.3 1048.7,943 1080.6,968 1097.4,997.4 1118.4,1014.2 1152,1022.6 1173,1039.4 1194,1068.8 1198.2,1079.3 1173,1089.8 1152,1106.6 1135.2,1127.6 1101.6,1148.6 1080.6,1173.8 1042.8,1190.6 1000.8,1207.4 975.6,1224.2 946.2,1253.6 929.4,1283 927.3,1328 756.7,1328 761,1304 752.5,1283 735.7,1262 721,1241 719,1216 731.5,1199 744,1186.5 748.3,1157 742,1136 744,1113 761,1102.5 775.6,1094 767.2,1060.5 777.7,1043.7 775.6,1018.5 775.6,997.5 765,978.6 748.3,980.7 695.8,984.9 676.9,955.5 655.9,932.4 658,907 668.5,888.2 679,871.4 683.2,837.8 687.4,821 688,812 677,806.6 654,801 628.4,792.3 611.3,786.6 588.5,783.8 577,772.4 565.7,755.3 560,741 565.7,712.5 567,689.7 582.8,684 588.5,664 597,644 615.6,629.7 637,638.3 654,625.5 652.7,607 665.5,595.5 674,564 677,542.7 675.5,505.7 702.6,497 711,494.2 728.3,491.4 751,491.4 776.8,498.5 784,507 782.5,541.3 788.2,552.7 796,549 809.6,536 806.7,504.2 813.9,492.8 836.7,487 843.7,462.3 882.5,452 888.6,429.6 900,405 915,372 924.5,368.4 945,368 969.4,364.4 973.4,335.8 990,318" fill="#853937" stroke="#9b9b9b" stroke-width="1.6" stroke-linejoin="round"/>
<polygon points="585.1,417.3 591.5,426.8 599.4,434.7 604.1,447.4 613.6,474.3 626.3,475.9 650.1,482.3 673.9,479.1 692.9,475.9 721.4,464.8 724.6,456.9 713.5,439.5 696,426.8 673.9,428.4 661.2,426.8 661.2,414.1 651.7,403 643.8,384 642.2,382.4 632.7,395 635.8,407.8 626.3,417.3 610.5,415.7 602.6,418.1 591.5,414.1" fill="#853937" stroke="#9b9b9b" stroke-width="1.6" stroke-linejoin="round"/>
<polygon points="585.1,417.3 591.5,426.8 599.4,434.7 618.4,441.8 635.8,437.9 651.7,437.9 659.6,426.8 661.2,414.1 651.7,403 643.8,384 642.2,382.4 632.7,395 635.8,407.8 626.3,417.3 610.5,415.7 602.6,418.1 591.5,414.1" fill="#e27a52"/>
<polygon points="599.4,434.7 618.4,441.8 636.6,437.9 636.6,476 626.3,475.9 613.6,474.3 604.1,447.4" fill="#8fe066"/>
<polygon points="680,428 696,426.8 713.5,439.5 724.6,456.9 721.4,464.8 692.9,475.9 684,460 686,445" fill="#8fe066"/>
<polygon points="639,459 655,456 671,466 677,480 665,481 650,470 638,470" fill="#8fe066"/>
<polygon points="788,553 825,537 848,541 862,550 858,580 845,598 832,605 820,590 800,575 792,565" fill="#8fe066"/>
<polygon points="990,362 1012,355 1026,368 1015,388 992,382" fill="#8fe066"/>
<polygon points="1030,340 1045,330 1065,345 1066,365 1045,368 1032,360" fill="#8fe066"/>
<polygon points="1078,325 1090,321 1096,335 1085,341" fill="#8fe066"/>
<polygon points="1121,322 1135,319 1137,340 1126,347" fill="#8fe066"/>
<polygon points="1042,320 1060,312 1085,318 1103,312 1095,345 1080,372 1072,378 1065,355 1050,345" fill="#f4b864"/>
<polygon points="925,440 950,432 972,440 995,440 998,470 985,505 960,515 940,510 925,490 930,465" fill="#8fe066"/>
<polygon points="900,475 920,478 926,500 912,512 900,505" fill="#e27a52"/>
<polygon points="948,512 965,518 980,540 972,556 955,550" fill="#e27a52"/>
<polygon points="809,495 814,483 836,478 850,470 858,490 852,520 830,536 809,534" fill="#e27a52"/>
<polygon points="892,470 912,462 925,480 920,505 900,510" fill="#e27a52"/>
<polygon points="875,452 890,450 899,470 895,500 878,498" fill="#8fe066"/>
<polygon points="677,545 700,550 735,575 741,590 730,600 715,595 700,595 690,590 680,580" fill="#e27a52"/>
<polygon points="675,565 690,592 692,630 670,628 652,607 665,596" fill="#e27a52"/>
<polygon points="748,665 770,660 785,690 775,697 755,690" fill="#e27a52"/>
<polygon points="735,800 790,800 815,825 800,845 790,880 770,870 755,840" fill="#e27a52"/>
<polygon points="683,850 720,842 752,850 750,870 690,873" fill="#e27a52"/>
<polygon points="826,872 855,880 852,895 830,920 798,945 800,932 825,905 835,890" fill="#e27a52"/>
<polygon points="761,1166 790,1163 803,1180 790,1199 765,1192" fill="#e27a52"/>
<polygon points="810,1079 822,1077 834,1102 820,1109 812,1095" fill="#8fe066"/>
<polygon points="1007,1022 1040,1012 1060,1015 1062,1038 1035,1044 1010,1043" fill="#f4b864"/>
<polygon points="1010,1045 1060,1032 1070,1050 1040,1070 1030,1085 1060,1100 1080,1110 1070,1125 1040,1115 1020,1120 990,1130 980,1142 960,1145 950,1130 960,1110 980,1100 990,1080 1000,1060" fill="#8fe066"/>
<polygon points="960,1090 985,1092 996,1110 985,1130 962,1128" fill="#e27a52"/>
<polygon points="1060,1063 1095,1062 1097,1080 1065,1081" fill="#e27a52"/>
<polygon points="1095,1045 1112,1045 1126,1062 1110,1085 1100,1102 1093,1080" fill="#efe2bd"/>
<polygon points="1113,1060 1128,1066 1126,1090 1110,1100" fill="#f4b864"/>
<polygon points="1152,1072 1170,1075 1177,1092 1158,1094" fill="#f4b864"/>
<polygon points="986,955 1003,953 1005,968 988,970" fill="#8fe066"/>
<polygon points="1125,1065 1135,1070 1132,1085 1124,1080" fill="#8fe066"/>
<polygon points="1045,1048 1055,1050 1050,1060" fill="#8fe066"/>
<polygon points="885,935 900,930 907,945 890,952" fill="#8fe066"/>
<polygon points="897,1048 912,1044 919,1060 905,1067" fill="#e27a52"/>
<polygon points="955,975 965,972 968,985 957,987" fill="#f4b864"/>
<polygon points="925,985 935,983 937,995 926,996" fill="#e27a52"/>
<polygon points="940,1010 950,1006 952,1020 942,1022" fill="#8fe066"/>
<polygon points="980,745 986,742 988,752 982,754" fill="#8fe066"/>
<circle class="mc" cx="900.7" cy="1222.6" r="3.5"/>
<circle class="mc" cx="949.5" cy="1149.7" r="5.6"/>
<circle class="mc" cx="1006.3" cy="1106.0" r="13.1"/>
<circle class="mc" cx="979.2" cy="999.7" r="5.6"/>
<circle class="mc" cx="1096.2" cy="403.3" r="4.3"/>
<circle class="mc" cx="955.2" cy="564.5" r="6.0"/>
<circle class="mc" cx="894.2" cy="723.4" r="5.4"/>
<circle class="mc" cx="1013.1" cy="517.4" r="13.6"/>
<circle class="mc" cx="1065.7" cy="548.3" r="19.1"/>
<circle class="mc" cx="1017.4" cy="1140.0" r="29.6"/>
<circle class="mc" cx="778.7" cy="1049.6" r="3.5"/>
<circle class="mc" cx="868.4" cy="995.5" r="4.3"/>
<circle class="mc" cx="1013.4" cy="947.0" r="6.0"/>
<circle class="mc" cx="887.1" cy="511.6" r="4.6"/>
<circle class="mc" cx="1088.0" cy="1113.6" r="6.0"/>
<circle class="mc" cx="967.5" cy="1221.9" r="18.1"/>
<circle class="mc" cx="923.6" cy="452.3" r="5.4"/>
<circle class="mc" cx="1113.5" cy="459.7" r="14.4"/>
<circle class="mc" cx="802.5" cy="833.5" r="14.6"/>
<circle class="mc" cx="951.8" cy="1194.9" r="11.5"/>
<circle class="mc" cx="1035.9" cy="606.5" r="18.6"/>
<circle class="mc" cx="1092.8" cy="407.5" r="4.5"/>
<circle class="mc" cx="898.4" cy="472.5" r="3.7"/>
<circle class="mc" cx="1001.6" cy="445.9" r="4.3"/>
<circle class="mc" cx="747.3" cy="722.7" r="3.6"/>
<circle class="mc" cx="763.5" cy="1221.2" r="14.9"/>
<circle class="mc" cx="1248.0" cy="315.5" r="3.5"/>
<circle class="mc" cx="961.7" cy="441.1" r="15.6"/>
<circle class="mc" cx="1101.6" cy="1031.3" r="12.0"/>
<circle class="mc" cx="987.8" cy="808.8" r="14.1"/>
<circle class="mc" cx="820.9" cy="911.1" r="3.9"/>
<circle class="mc" cx="925.4" cy="757.7" r="14.1"/>
<circle class="mc" cx="1134.5" cy="329.9" r="20.1"/>
<circle class="mc" cx="1051.4" cy="499.7" r="4.8"/>
<circle class="mc" cx="981.4" cy="892.2" r="4.3"/>
<circle class="mc" cx="1064.1" cy="345.5" r="4.7"/>
<circle class="mc" cx="907.0" cy="814.3" r="24.9"/>
<circle class="mc" cx="645.8" cy="716.4" r="13.7"/>
<circle class="mc" cx="976.0" cy="1185.1" r="13.8"/>
<circle class="mc" cx="962.7" cy="1067.2" r="6.0"/>
<circle class="mc" cx="1155.9" cy="354.1" r="10.0"/>
<circle class="mc" cx="816.2" cy="845.2" r="4.1"/>
<circle class="mc" cx="864.4" cy="818.4" r="10.0"/>
<circle class="mc" cx="1181.9" cy="334.4" r="4.7"/>
<circle class="mc" cx="864.9" cy="1277.4" r="4.1"/>
<circle class="mc" cx="774.7" cy="965.3" r="4.0"/>
<circle class="mc" cx="935.3" cy="451.7" r="4.1"/>
<circle class="mc" cx="845.8" cy="595.7" r="4.3"/>
<circle class="mc" cx="960.8" cy="968.2" r="4.4"/>
<circle class="mc" cx="778.3" cy="548.3" r="3.5"/>
<circle class="mc" cx="951.3" cy="804.7" r="14.9"/>
<circle class="mc" cx="1102.8" cy="462.2" r="9.0"/>
<circle class="mc" cx="1077.0" cy="411.4" r="5.8"/>
<circle class="mc" cx="1034.8" cy="933.2" r="11.7"/>
<circle class="mc" cx="911.2" cy="755.9" r="16.1"/>
<circle class="mc" cx="964.5" cy="897.4" r="4.8"/>
<circle class="mc" cx="859.8" cy="1236.0" r="3.8"/>
<circle class="mc" cx="932.7" cy="1138.5" r="5.0"/>
<circle class="mc" cx="914.9" cy="492.6" r="14.0"/>
<circle class="mc" cx="1003.0" cy="919.6" r="12.0"/>
<circle class="mc" cx="775.6" cy="1009.7" r="3.5"/>
<circle class="mc" cx="1029.7" cy="501.4" r="15.9"/>
<circle class="mc" cx="963.9" cy="722.0" r="10.0"/>
<circle class="mc" cx="635.0" cy="402.0" r="3.5"/>
<circle class="mc" cx="1127.0" cy="362.9" r="4.0"/>
<circle class="mc" cx="679.1" cy="573.3" r="5.4"/>
<circle class="mc" cx="869.1" cy="937.2" r="12.1"/>
<circle class="mc" cx="908.4" cy="1276.3" r="12.4"/>
<circle class="mc" cx="834.0" cy="1038.3" r="5.2"/>
<circle class="mc" cx="681.9" cy="667.8" r="4.5"/>
<circle class="mc" cx="831.1" cy="713.9" r="5.5"/>
<circle class="mc" cx="806.9" cy="551.0" r="3.8"/>
<circle class="mc" cx="759.4" cy="543.1" r="5.1"/>
<circle class="mc" cx="1027.0" cy="650.3" r="15.8"/>
<circle class="mc" cx="1056.2" cy="394.3" r="15.0"/>
<circle class="mc" cx="1147.0" cy="430.5" r="16.0"/>
<circle class="mc" cx="825.0" cy="1285.2" r="4.1"/>
<circle class="mc" cx="719.8" cy="764.8" r="3.7"/>
<circle class="mc" cx="973.1" cy="677.7" r="5.7"/>
<circle class="mc" cx="778.5" cy="700.2" r="9.7"/>
<circle class="mc" cx="785.7" cy="981.0" r="5.0"/>
<circle class="mc" cx="955.1" cy="671.0" r="3.6"/>
<circle class="mc" cx="778.8" cy="532.0" r="3.5"/>
<circle class="mc" cx="1026.5" cy="660.6" r="10.0"/>
<circle class="mc" cx="1023.3" cy="1018.5" r="10.9"/>
<circle class="mc" cx="1002.1" cy="485.9" r="4.8"/>
<circle class="mc" cx="1060.9" cy="340.6" r="5.9"/>
<circle class="mc" cx="773.1" cy="690.8" r="4.6"/>
<circle class="mc" cx="778.6" cy="955.8" r="5.6"/>
<circle class="mc" cx="1063.8" cy="561.1" r="19.0"/>
<circle class="mc" cx="987.0" cy="347.7" r="5.3"/>
<circle class="mc" cx="1079.2" cy="1153.1" r="21.5"/>
<circle class="mc" cx="919.9" cy="1254.0" r="18.9"/>
<circle class="mc" cx="1008.2" cy="858.7" r="16.4"/>
<circle class="mc" cx="701.6" cy="618.6" r="4.1"/>
<circle class="mc" cx="1057.0" cy="988.8" r="11.9"/>
<circle class="mc" cx="770.5" cy="1209.3" r="12.9"/>
<circle class="mc" cx="945.4" cy="1081.6" r="5.3"/>
<circle class="mc" cx="1028.6" cy="915.0" r="21.9"/>
<circle class="mc" cx="813.4" cy="511.4" r="4.0"/>
<circle class="mc" cx="1018.8" cy="557.7" r="5.2"/>
<circle class="mc" cx="1143.8" cy="1062.9" r="5.9"/>
<circle class="mc" cx="819.6" cy="1154.5" r="4.4"/>
<circle class="mc" cx="907.5" cy="813.0" r="4.7"/>
<circle class="mc" cx="770.6" cy="897.0" r="4.3"/>
<circle class="mc" cx="1043.7" cy="467.4" r="4.7"/>
<circle class="mc" cx="588.1" cy="751.2" r="3.9"/>
<circle class="mc" cx="921.8" cy="732.4" r="4.4"/>
<circle class="mc" cx="988.2" cy="604.7" r="4.8"/>
<circle class="mc" cx="1015.1" cy="607.0" r="10.7"/>
<circle class="mc" cx="1182.2" cy="327.6" r="4.9"/>
<circle class="mc" cx="932.6" cy="880.2" r="21.4"/>
<circle class="mc" cx="977.8" cy="518.3" r="4.3"/>
<circle class="mc" cx="1140.4" cy="425.3" r="15.4"/>
<circle class="mc" cx="1034.7" cy="561.0" r="9.0"/>
<circle class="mc" cx="1227.0" cy="313.2" r="4.0"/>
<circle class="mc" cx="836.0" cy="788.6" r="4.5"/>
<circle class="mc" cx="613.3" cy="637.8" r="3.5"/>
<circle class="mc" cx="832.7" cy="662.9" r="4.9"/>
<circle class="mc" cx="967.2" cy="642.5" r="25.7"/>
<circle class="mc" cx="883.0" cy="1314.0" r="5.6"/>
<circle class="mc" cx="1006.1" cy="672.4" r="9.5"/>
<circle class="mc" cx="917.8" cy="952.6" r="24.4"/>
<circle class="mc" cx="947.2" cy="716.7" r="3.7"/>
<circle class="mc" cx="898.5" cy="676.9" r="12.0"/>
<circle class="mc" cx="725.1" cy="658.4" r="11.3"/>
<circle class="mc" cx="1170.4" cy="368.7" r="22.4"/>
<circle class="mc" cx="713.5" cy="710.2" r="5.7"/>
<circle class="mc" cx="983.8" cy="1188.1" r="12.5"/>
<circle class="mc" cx="937.5" cy="1199.8" r="6.0"/>
<circle class="mc" cx="600.4" cy="725.3" r="4.0"/>
<circle class="mc" cx="1000.3" cy="643.2" r="10.0"/>
<circle class="mc" cx="980.3" cy="563.5" r="5.5"/>
<circle class="mc" cx="625.7" cy="459.7" r="14.0"/>
<circle class="mc" cx="792.6" cy="1061.6" r="5.7"/>
<circle class="mc" cx="1020.7" cy="1095.6" r="5.5"/>
<circle class="mc" cx="1091.9" cy="391.5" r="5.7"/>
<circle class="mc" cx="912.8" cy="870.3" r="4.1"/>
<circle class="mc" cx="842.5" cy="1188.1" r="4.7"/>
<circle class="mc" cx="865.0" cy="537.1" r="3.9"/>
<circle class="mc" cx="769.8" cy="1322.1" r="3.9"/>
<circle class="mc" cx="1088.3" cy="1145.7" r="11.0"/>
<circle class="mc" cx="980.1" cy="765.2" r="15.1"/>
<circle class="mc" cx="722.8" cy="742.0" r="4.2"/>
<circle class="mc" cx="782.5" cy="1203.1" r="26.7"/>
<circle class="mc" cx="908.9" cy="1244.3" r="5.0"/>
<circle class="mc" cx="1180.9" cy="1051.6" r="21.4"/>
<circle class="mc" cx="684.6" cy="571.3" r="3.6"/>
<circle class="mc" cx="1019.1" cy="858.7" r="11.1"/>
<circle class="mc" cx="830.9" cy="720.9" r="3.8"/>
<circle class="mc" cx="729.3" cy="503.2" r="5.0"/>
<circle class="mc" cx="1152.7" cy="1105.7" r="15.1"/>
<circle class="mc" cx="781.9" cy="1298.8" r="5.3"/>
<circle class="mc" cx="895.1" cy="526.6" r="4.3"/>
<circle class="mc" cx="1170.0" cy="343.5" r="16.5"/>
<circle class="mc" cx="646.5" cy="457.3" r="21.2"/>
<circle class="mc" cx="926.5" cy="764.9" r="4.5"/>
<circle class="mc" cx="817.9" cy="834.8" r="4.1"/>
<circle class="mc" cx="753.0" cy="632.4" r="16.2"/>
<circle class="mc" cx="1146.4" cy="393.0" r="4.8"/>
<circle class="mc" cx="1027.9" cy="638.0" r="20.6"/>
<circle class="mc" cx="950.7" cy="824.8" r="3.8"/>
<circle class="mc" cx="937.4" cy="683.6" r="4.8"/>
<circle class="mc" cx="903.8" cy="899.7" r="10.5"/>
<circle class="mc" cx="879.6" cy="1261.0" r="6.0"/>
<circle class="mc" cx="1177.3" cy="358.4" r="5.0"/>
<circle class="mc" cx="1033.7" cy="993.5" r="5.4"/>
<circle class="mc" cx="1042.2" cy="458.3" r="5.8"/>
<circle class="mc" cx="784.1" cy="875.8" r="5.7"/>
<circle class="mc" cx="827.1" cy="958.4" r="3.6"/>
<circle class="mc" cx="930.0" cy="598.2" r="3.7"/>
<circle class="mc" cx="940.1" cy="390.0" r="5.9"/>
<circle class="mc" cx="897.6" cy="452.4" r="5.3"/>
<circle class="mc" cx="908.8" cy="850.5" r="4.8"/>
<circle class="mc" cx="916.3" cy="676.5" r="3.7"/>
<circle class="mc" cx="843.8" cy="508.4" r="4.6"/>
<circle class="mc" cx="912.8" cy="1215.4" r="5.6"/>
<circle class="mc" cx="765.2" cy="1215.3" r="10.0"/>
<circle class="mc" cx="1111.2" cy="1030.4" r="9.7"/>
<circle class="mc" cx="1046.4" cy="1137.3" r="5.1"/>
<circle class="mc" cx="849.6" cy="717.9" r="29.6"/>
<circle class="mc" cx="1037.2" cy="454.6" r="10.0"/>
<circle class="mc" cx="1083.7" cy="1155.6" r="18.9"/>
<circle class="mc" cx="1041.8" cy="1030.0" r="6.0"/>
<circle class="mc" cx="1111.0" cy="1115.7" r="10.5"/>
<circle class="mc" cx="1018.7" cy="1159.5" r="3.8"/>
<circle class="mc" cx="985.1" cy="769.8" r="17.1"/>
<circle class="mc" cx="995.4" cy="599.6" r="9.1"/>
<circle class="mc" cx="916.2" cy="1316.2" r="21.6"/>
<circle class="mc" cx="879.6" cy="1131.9" r="4.2"/>
<circle class="mc" cx="948.5" cy="1186.3" r="9.9"/>
<circle class="mc" cx="872.2" cy="1284.6" r="16.2"/>
<circle class="mc" cx="1024.8" cy="949.2" r="16.9"/>
<circle class="mc" cx="1072.4" cy="1070.6" r="5.0"/>
<circle class="mc" cx="1045.7" cy="584.5" r="19.0"/>
<circle class="mc" cx="922.7" cy="1201.8" r="3.8"/>
<circle class="mc" cx="1079.1" cy="474.6" r="5.1"/>
<circle class="mc" cx="762.7" cy="947.5" r="3.8"/>
<circle class="mc" cx="746.7" cy="549.4" r="5.5"/>
<circle class="mc" cx="850.2" cy="1130.2" r="4.4"/>
<circle class="mc" cx="653.9" cy="647.6" r="15.6"/>
<circle class="mc" cx="1029.5" cy="893.6" r="16.4"/>
<circle class="mc" cx="1082.3" cy="1143.8" r="13.8"/>
<circle class="mc" cx="1055.0" cy="1023.2" r="4.9"/>
<circle class="mc" cx="984.2" cy="1147.1" r="25.7"/>
<circle class="mc" cx="709.8" cy="529.4" r="5.0"/>
<circle class="mc" cx="1002.4" cy="441.8" r="4.7"/>
<circle class="mc" cx="1002.5" cy="649.0" r="9.3"/>
<circle class="mc" cx="1039.9" cy="1028.0" r="4.3"/>
<circle class="mc" cx="843.2" cy="589.8" r="5.6"/>
<circle class="mc" cx="1065.8" cy="363.5" r="5.1"/>
<circle class="mc" cx="745.4" cy="664.7" r="4.1"/>
<circle class="mc" cx="1137.8" cy="431.0" r="15.9"/>
<circle class="mc" cx="956.1" cy="821.7" r="5.4"/>
<circle class="mc" cx="900.6" cy="957.0" r="4.4"/>
<circle class="mc" cx="1033.0" cy="1033.4" r="5.6"/>
<circle class="mc" cx="1016.6" cy="1011.1" r="29.3"/>
<circle class="mc" cx="981.1" cy="363.6" r="3.7"/>
<circle class="mc" cx="1005.6" cy="1062.1" r="9.2"/>
<circle class="mc" cx="1124.3" cy="338.2" r="14.4"/>
<circle class="mc" cx="943.5" cy="598.4" r="4.6"/>
<circle class="mc" cx="705.6" cy="740.5" r="10.3"/>
<circle class="mc" cx="1073.3" cy="1173.4" r="19.2"/>
<circle class="mc" cx="1096.0" cy="451.1" r="13.7"/>
<circle class="mc" cx="980.9" cy="834.2" r="4.0"/>
<circle class="mc" cx="1148.5" cy="1036.5" r="9.4"/>
<circle class="mc" cx="1038.6" cy="1173.6" r="16.4"/>
<circle class="mc" cx="1056.7" cy="559.0" r="16.2"/>
<circle class="mc" cx="805.0" cy="632.8" r="23.6"/>
<circle class="mc" cx="735.6" cy="723.4" r="4.2"/>
<circle class="mc" cx="734.7" cy="563.6" r="5.8"/>
<circle class="mc" cx="1045.9" cy="514.3" r="3.5"/>
<circle class="mc" cx="1048.5" cy="611.7" r="11.6"/>
<circle class="mc" cx="872.8" cy="1048.4" r="13.1"/>
<circle class="mc" cx="972.6" cy="979.4" r="5.8"/>
<circle class="mc" cx="1018.5" cy="885.1" r="10.1"/>
<circle class="mc" cx="815.6" cy="1042.6" r="5.3"/>
<circle class="mc" cx="817.5" cy="837.2" r="5.1"/>
<circle class="mc" cx="717.5" cy="498.6" r="3.5"/>
<circle class="mc" cx="891.7" cy="1193.9" r="5.6"/>
<circle class="mc" cx="1026.5" cy="1159.7" r="9.6"/>
<circle class="mc" cx="580.7" cy="750.1" r="5.8"/>
<circle class="mc" cx="883.3" cy="1031.2" r="3.9"/>
<circle class="mc" cx="642.8" cy="792.4" r="3.5"/>
<circle class="mc" cx="722.2" cy="752.0" r="14.2"/>
<circle class="mc" cx="929.0" cy="545.7" r="9.7"/>
<circle class="mc" cx="585.2" cy="750.7" r="5.5"/>
<circle class="mc" cx="842.6" cy="997.8" r="3.9"/>
<circle class="mc" cx="905.9" cy="1319.6" r="18.2"/>
<circle class="mc" cx="1060.3" cy="440.7" r="3.7"/>
<circle class="mc" cx="968.7" cy="1211.2" r="21.4"/>
<circle class="mc" cx="971.7" cy="764.5" r="20.4"/>
<circle class="mc" cx="1022.7" cy="902.3" r="16.5"/>
<circle class="mc" cx="928.3" cy="996.0" r="4.3"/>
<circle class="mc" cx="862.7" cy="1284.7" r="4.7"/>
<circle class="mc" cx="711.1" cy="572.7" r="5.1"/>
<circle class="mc" cx="683.3" cy="794.7" r="11.5"/>
<circle class="mc" cx="1035.2" cy="464.6" r="9.6"/>
<circle class="mc" cx="973.9" cy="503.1" r="13.3"/>
<circle class="mc" cx="936.0" cy="1045.7" r="23.9"/>
<circle class="mc" cx="853.4" cy="791.7" r="5.3"/>
<circle class="mc" cx="998.7" cy="1015.8" r="6.0"/>
<circle class="mc" cx="1116.6" cy="1048.9" r="20.7"/>
<circle class="mc" cx="830.8" cy="1036.8" r="4.3"/>
<circle class="mc" cx="1120.4" cy="1124.3" r="18.2"/>
<circle class="mc" cx="1125.2" cy="1113.2" r="12.6"/>
<circle class="mc" cx="957.2" cy="441.2" r="5.3"/>
<circle class="mc" cx="934.8" cy="1044.4" r="3.9"/>
<circle class="mc" cx="1069.2" cy="526.4" r="17.6"/>
<circle class="mc" cx="778.7" cy="980.7" r="4.2"/>
<circle class="mc" cx="781.8" cy="1041.1" r="3.5"/>
<circle class="mc" cx="988.3" cy="390.7" r="11.4"/>
<circle class="mc" cx="916.3" cy="835.4" r="4.7"/>
<circle class="mc" cx="1105.1" cy="408.3" r="15.2"/>
<circle class="mc" cx="832.1" cy="796.5" r="5.3"/>
<circle class="mc" cx="1030.0" cy="527.3" r="12.9"/>
<circle class="mc" cx="1087.7" cy="1092.1" r="13.2"/>
<circle class="mc" cx="620.2" cy="704.3" r="5.2"/>
<circle class="mc" cx="654.9" cy="408.6" r="3.5"/>
<circle class="mc" cx="859.3" cy="646.8" r="13.5"/>
<circle class="mc" cx="1076.0" cy="432.4" r="5.3"/>
<circle class="mc" cx="808.1" cy="688.2" r="4.5"/>
<circle class="mc" cx="1090.7" cy="1135.6" r="9.3"/>
<circle class="mc" cx="1150.3" cy="436.5" r="9.5"/>
<circle class="mc" cx="1035.9" cy="970.4" r="20.8"/>
<circle class="mc" cx="710.5" cy="649.3" r="10.3"/>
<circle class="mc" cx="1027.9" cy="513.0" r="11.3"/>
<circle class="mc" cx="1136.7" cy="1110.7" r="17.5"/>
<circle class="mc" cx="1119.0" cy="487.7" r="18.6"/>
<circle class="mc" cx="814.3" cy="1249.8" r="5.6"/>
<circle class="mc" cx="983.3" cy="565.7" r="5.4"/>
<circle class="mc" cx="1086.7" cy="1031.7" r="12.3"/>
<circle class="mc" cx="796.2" cy="1087.8" r="4.4"/>
<circle class="mc" cx="994.6" cy="611.0" r="5.7"/>
<circle class="mc" cx="699.2" cy="908.1" r="12.9"/>
<circle class="mc" cx="1157.2" cy="1048.6" r="20.4"/>
<circle class="mc" cx="842.4" cy="744.1" r="4.4"/>
<circle class="mc" cx="974.8" cy="995.9" r="13.3"/>
<circle class="mc" cx="843.0" cy="486.7" r="4.0"/>
<circle class="mc" cx="897.2" cy="809.1" r="5.2"/>
<circle class="mc" cx="934.0" cy="1255.3" r="21.2"/>
<circle class="mc" cx="988.2" cy="1107.8" r="29.6"/>
<circle class="mc" cx="599.3" cy="426.8" r="3.5"/>
<circle class="mc" cx="639.0" cy="465.7" r="4.4"/>
<circle class="mc" cx="834.8" cy="559.7" r="4.8"/>
<circle class="mc" cx="1056.2" cy="479.2" r="27.1"/>
<circle class="mc" cx="954.3" cy="445.6" r="4.2"/>
<circle class="mc" cx="829.5" cy="1009.7" r="18.6"/>
<circle class="mc" cx="1123.8" cy="1107.8" r="20.1"/>
<circle class="mc" cx="782.4" cy="686.5" r="5.9"/>
<circle class="mc" cx="783.7" cy="1078.5" r="9.7"/>
<circle class="mc" cx="963.0" cy="1232.5" r="16.9"/>
<circle class="mc" cx="860.4" cy="1259.4" r="5.7"/>
<circle class="mc" cx="1106.3" cy="404.9" r="11.6"/>
<circle class="mc" cx="870.6" cy="1046.4" r="5.4"/>
<circle class="mc" cx="1073.4" cy="966.6" r="17.5"/>
<circle class="mc" cx="907.2" cy="1041.7" r="3.7"/>
<circle class="mc" cx="1020.0" cy="585.0" r="11.9"/>
<circle class="mc" cx="880.7" cy="1187.6" r="5.9"/>
<circle class="mc" cx="940.3" cy="1060.9" r="5.1"/>
<circle class="mc" cx="1007.7" cy="686.4" r="16.3"/>
<circle class="mc" cx="1187.9" cy="334.4" r="10.3"/>
<circle class="mc" cx="801.3" cy="1258.8" r="16.7"/>
<circle class="mc" cx="911.6" cy="645.1" r="15.3"/>
<circle class="mc" cx="1039.4" cy="1065.3" r="26.6"/>
<circle class="mc" cx="844.8" cy="471.6" r="3.5"/>
<circle class="mc" cx="890.6" cy="806.5" r="14.0"/>
<circle class="mc" cx="944.9" cy="622.0" r="10.4"/>
<circle class="mc" cx="704.7" cy="821.2" r="4.3"/>
<circle class="mc" cx="1061.4" cy="300.8" r="3.5"/>
<circle class="mc" cx="859.9" cy="1296.2" r="6.0"/>
<circle class="mc" cx="1139.5" cy="312.4" r="3.7"/>
<circle class="mc" cx="1123.0" cy="463.7" r="10.0"/>
<circle class="mc" cx="963.8" cy="875.7" r="22.3"/>
<circle class="mc" cx="600.8" cy="733.9" r="5.6"/>
<circle class="mc" cx="795.9" cy="1086.3" r="5.1"/>
<circle class="mc" cx="1031.0" cy="1157.9" r="15.0"/>
<circle class="mc" cx="913.7" cy="1249.4" r="12.6"/>
<circle class="mc" cx="617.8" cy="640.3" r="4.7"/>
<circle class="mc" cx="1082.0" cy="1036.6" r="3.9"/>
<circle class="mc" cx="864.6" cy="979.4" r="5.5"/>
<circle class="mc" cx="1194.5" cy="302.7" r="3.5"/>
<circle class="mc" cx="840.1" cy="503.1" r="14.5"/>
<circle class="mc" cx="862.8" cy="459.2" r="3.5"/>
<circle class="mc" cx="913.1" cy="801.6" r="10.2"/>
<circle class="mc" cx="1062.8" cy="1123.1" r="4.6"/>
<circle class="mc" cx="969.8" cy="1043.0" r="12.5"/>
<circle class="mc" cx="1063.9" cy="417.5" r="4.5"/>
<circle class="mc" cx="1032.1" cy="302.7" r="3.5"/>
<circle class="mc" cx="973.4" cy="528.0" r="20.3"/>
<circle class="mc" cx="913.5" cy="817.5" r="4.9"/>
<circle class="mc" cx="1054.7" cy="1102.7" r="5.3"/>
<circle class="mc" cx="1058.2" cy="1141.3" r="5.2"/>
<circle class="mc" cx="1074.0" cy="518.1" r="21.1"/>
<circle class="mc" cx="1090.6" cy="1053.6" r="4.6"/>
<circle class="mc" cx="1047.5" cy="579.7" r="15.9"/>
<circle class="mc" cx="1119.3" cy="1057.5" r="5.2"/>
<circle class="mc" cx="868.8" cy="732.4" r="5.3"/>
<circle class="mc" cx="839.4" cy="911.5" r="4.6"/>
<circle class="mc" cx="1037.7" cy="941.7" r="18.3"/>
<circle class="mc" cx="989.5" cy="601.3" r="12.4"/>
<circle class="mc" cx="918.6" cy="424.9" r="3.8"/>
<circle class="mc" cx="972.8" cy="687.1" r="11.4"/>
<circle class="mc" cx="1119.9" cy="1133.0" r="17.6"/>
<circle class="mc" cx="884.7" cy="517.7" r="5.8"/>
<circle class="mc" cx="922.8" cy="1309.3" r="12.2"/>
<circle class="mc" cx="919.0" cy="807.0" r="3.9"/>
<circle class="mc" cx="934.0" cy="636.1" r="13.6"/>
<circle class="mc" cx="853.4" cy="1283.6" r="5.5"/>
<circle class="mc" cx="1025.7" cy="983.1" r="12.4"/>
<circle class="mc" cx="881.5" cy="1155.0" r="14.3"/>
<circle class="mc" cx="1075.7" cy="328.6" r="3.7"/>
<circle class="mc" cx="892.1" cy="502.3" r="5.9"/>
<circle class="mc" cx="1013.6" cy="1013.0" r="5.1"/>
<circle class="mc" cx="780.7" cy="865.6" r="5.4"/>
<circle class="mc" cx="899.8" cy="933.5" r="12.0"/>
<circle class="mc" cx="748.1" cy="1169.3" r="3.5"/>
<circle class="mc" cx="934.5" cy="1186.4" r="4.0"/>
<circle class="mc" cx="998.8" cy="423.3" r="5.2"/>
<circle class="mc" cx="1074.7" cy="533.3" r="21.4"/>
<circle class="mc" cx="990.5" cy="1186.0" r="20.4"/>
<circle class="mc" cx="1074.7" cy="976.1" r="19.9"/>
<circle class="mc" cx="808.4" cy="1135.0" r="3.8"/>
<circle class="mc" cx="824.9" cy="894.4" r="28.5"/>
<circle class="mc" cx="982.9" cy="943.2" r="14.0"/>
<circle class="mc" cx="1036.7" cy="1137.8" r="4.6"/>
<circle class="mc" cx="849.6" cy="823.3" r="4.9"/>
<circle class="mc" cx="688.6" cy="893.2" r="3.8"/>
<circle class="mc" cx="914.1" cy="1160.1" r="13.6"/>
<circle class="mc" cx="960.7" cy="852.5" r="11.4"/>
<circle class="mc" cx="1071.0" cy="533.9" r="12.6"/>
<circle class="mc" cx="1015.7" cy="681.4" r="11.7"/>
<circle class="mc" cx="1171.9" cy="351.0" r="13.4"/>
<circle class="mc" cx="884.3" cy="890.5" r="3.7"/>
<circle class="mc" cx="951.9" cy="1188.8" r="4.8"/>
<circle class="mc" cx="1004.3" cy="1166.5" r="10.6"/>
<circle class="mc" cx="1061.0" cy="1048.4" r="4.3"/>
<circle class="mc" cx="979.8" cy="645.5" r="10.9"/>
<circle class="mc" cx="836.4" cy="1076.2" r="9.3"/>
<circle class="mc" cx="875.6" cy="1198.3" r="5.3"/>
<circle class="mc" cx="869.7" cy="1083.9" r="3.8"/>
<circle class="mc" cx="649.0" cy="786.1" r="5.9"/>
<circle class="mc" cx="696.7" cy="831.7" r="4.9"/>
<circle class="mc" cx="753.2" cy="960.1" r="4.8"/>
<circle class="mc" cx="1043.2" cy="343.4" r="5.7"/>
<circle class="mc" cx="1080.5" cy="968.1" r="13.5"/>
<circle class="mc" cx="960.4" cy="829.4" r="4.0"/>
<circle class="mc" cx="887.3" cy="1162.4" r="28.1"/>
<circle class="mc" cx="709.0" cy="645.3" r="5.0"/>
<circle class="mc" cx="791.3" cy="1172.5" r="4.0"/>
<circle class="mc" cx="748.1" cy="705.3" r="5.3"/>
<circle class="mc" cx="866.2" cy="689.9" r="4.9"/>
<circle class="mc" cx="720.6" cy="559.3" r="3.6"/>
<circle class="mc" cx="969.1" cy="817.7" r="5.1"/>
<circle class="mc" cx="946.5" cy="1135.4" r="16.9"/>
<circle class="mc" cx="972.2" cy="543.7" r="13.2"/>
<circle class="mc" cx="971.9" cy="896.2" r="5.9"/>
<circle class="mc" cx="993.4" cy="640.4" r="5.6"/>
<circle class="mc" cx="931.7" cy="922.2" r="5.6"/>
<circle class="mc" cx="803.3" cy="1125.7" r="4.0"/>
<circle class="mc" cx="906.6" cy="1262.5" r="10.0"/>
<circle class="mc" cx="945.1" cy="1253.9" r="11.8"/>
<circle class="mc" cx="1050.2" cy="991.7" r="10.4"/>
<circle class="mc" cx="1107.2" cy="1087.6" r="13.9"/>
<circle class="mc" cx="1133.2" cy="463.2" r="21.4"/>
<circle class="mc" cx="805.3" cy="1204.4" r="5.2"/>
<circle class="mc" cx="847.7" cy="761.6" r="5.7"/>
<circle class="mc" cx="1062.1" cy="1106.1" r="15.1"/>
<circle class="mc" cx="1051.7" cy="429.9" r="4.2"/>
<circle class="mc" cx="958.5" cy="1186.5" r="29.6"/>
<circle class="mc" cx="912.9" cy="1089.7" r="22.1"/>
<circle class="mc" cx="864.0" cy="1318.4" r="7.6"/>
<circle class="mc" cx="1024.0" cy="615.6" r="19.4"/>
<circle class="mc" cx="823.1" cy="1151.7" r="4.5"/>
<circle class="mc" cx="1005.2" cy="675.2" r="17.5"/>
<circle class="mc" cx="975.5" cy="857.5" r="5.7"/>
<circle class="mc" cx="873.7" cy="1306.7" r="3.5"/>
<circle class="mc" cx="937.9" cy="847.4" r="3.7"/>
<circle class="mc" cx="949.0" cy="972.3" r="9.7"/>
<circle class="mc" cx="999.7" cy="586.3" r="10.8"/>
<circle class="mc" cx="1009.0" cy="402.1" r="5.4"/>
<circle class="mc" cx="1110.2" cy="1038.7" r="14.3"/>
<circle class="mc" cx="826.2" cy="1314.1" r="4.9"/>
<circle class="mc" cx="1176.7" cy="329.6" r="24.1"/>
<circle class="mc" cx="713.3" cy="784.5" r="4.7"/>
<circle class="mc" cx="1072.3" cy="502.5" r="5.2"/>
<circle class="mc" cx="1232.4" cy="312.5" r="5.2"/>
<circle class="mc" cx="862.5" cy="1223.2" r="27.1"/>
<circle class="mc" cx="751.4" cy="517.3" r="4.4"/>
<circle class="mc" cx="1104.2" cy="1044.0" r="10.2"/>
<circle class="mc" cx="954.9" cy="788.3" r="5.7"/>
<circle class="mc" cx="1059.9" cy="341.4" r="10.5"/>
<circle class="mc" cx="1165.3" cy="429.2" r="19.5"/>
<circle class="mc" cx="839.8" cy="1284.3" r="5.6"/>
<circle class="mc" cx="1027.4" cy="898.9" r="13.4"/>
<circle class="mc" cx="850.6" cy="1273.0" r="5.3"/>
<circle class="mc" cx="906.6" cy="804.5" r="4.3"/>
<circle class="mc" cx="920.1" cy="1124.3" r="12.1"/>
<circle class="mc" cx="790.9" cy="621.3" r="4.1"/>
<circle class="mc" cx="1073.1" cy="1079.6" r="5.3"/>
<circle class="mc" cx="1072.6" cy="511.0" r="17.6"/>
<circle class="mc" cx="978.5" cy="1097.1" r="3.5"/>
<circle class="mc" cx="1015.7" cy="974.0" r="21.5"/>
<circle class="mc" cx="818.0" cy="545.1" r="5.9"/>
<circle class="mc" cx="1073.4" cy="424.3" r="3.7"/>
<circle class="mc" cx="869.0" cy="1136.0" r="3.9"/>
<circle class="mc" cx="790.2" cy="922.6" r="13.1"/>
<circle class="mc" cx="1110.0" cy="459.6" r="12.5"/>
<circle class="mc" cx="868.4" cy="1233.5" r="3.9"/>
<circle class="mc" cx="695.2" cy="434.5" r="4.7"/>
<circle class="mc" cx="859.1" cy="1247.0" r="4.1"/>
<circle class="mc" cx="930.2" cy="511.9" r="3.8"/>
<circle class="mc" cx="946.7" cy="635.3" r="5.1"/>
<circle class="mc" cx="1115.9" cy="1110.4" r="16.1"/>
<circle class="mc" cx="810.6" cy="1213.7" r="5.4"/>
<circle class="mc" cx="1012.0" cy="1000.6" r="16.3"/>
<circle class="mc" cx="990.5" cy="659.1" r="11.4"/>
<circle class="mc" cx="866.5" cy="1256.8" r="5.3"/>
<circle class="mc" cx="637.9" cy="478.1" r="3.5"/>
<circle class="mc" cx="1144.1" cy="318.0" r="4.2"/>
<circle class="mc" cx="675.8" cy="713.2" r="5.7"/>
<circle class="mc" cx="843.8" cy="1122.4" r="5.4"/>
<circle class="mc" cx="1095.4" cy="1012.3" r="12.6"/>
<circle class="mc" cx="1165.6" cy="1081.1" r="13.9"/>
<circle class="mc" cx="949.4" cy="854.2" r="4.8"/>
<circle class="mc" cx="1214.3" cy="352.2" r="6.5"/>
<circle class="mc" cx="1101.6" cy="459.8" r="11.1"/>
<circle class="mc" cx="1193.2" cy="1068.1" r="20.0"/>
<circle class="mc" cx="591.8" cy="425.7" r="3.5"/>
<circle class="mc" cx="960.7" cy="630.2" r="18.4"/>
<circle class="mc" cx="952.7" cy="756.3" r="20.4"/>
<circle class="mc" cx="1140.7" cy="376.5" r="5.4"/>
<circle class="mc" cx="954.4" cy="913.7" r="5.4"/>
<circle class="mc" cx="1076.6" cy="1008.2" r="10.6"/>
<circle class="mc" cx="891.2" cy="776.3" r="3.7"/>
<circle class="mc" cx="805.5" cy="914.0" r="4.4"/>
<circle class="mc" cx="1140.4" cy="363.9" r="12.9"/>
<circle class="mc" cx="1073.4" cy="988.2" r="20.0"/>
<circle class="mc" cx="975.7" cy="740.5" r="20.9"/>
<circle class="mc" cx="981.0" cy="674.1" r="16.3"/>
<circle class="mc" cx="868.8" cy="1313.7" r="3.9"/>
<circle class="mc" cx="782.0" cy="788.0" r="4.1"/>
<circle class="mc" cx="1119.8" cy="488.7" r="17.0"/>
<circle class="mc" cx="1084.6" cy="988.3" r="19.0"/>
<circle class="mc" cx="951.4" cy="637.1" r="5.6"/>
<circle class="mc" cx="1003.2" cy="1058.9" r="5.6"/>
<circle class="mc" cx="835.2" cy="1265.0" r="5.1"/>
<circle class="mc" cx="1018.5" cy="1190.7" r="18.0"/>
<circle class="mc" cx="802.9" cy="1311.6" r="5.3"/>
<circle class="mc" cx="1030.8" cy="300.6" r="3.5"/>
<circle class="mc" cx="585.7" cy="743.2" r="5.4"/>
<circle class="mc" cx="929.8" cy="949.9" r="5.1"/>
<circle class="mc" cx="995.8" cy="856.6" r="18.3"/>
<circle class="mc" cx="1108.2" cy="303.1" r="3.5"/>
<circle class="mc" cx="988.5" cy="1131.3" r="5.4"/>
<circle class="mc" cx="928.5" cy="732.4" r="4.8"/>
<circle class="mc" cx="1052.2" cy="444.6" r="5.0"/>
<circle class="mc" cx="1003.4" cy="620.8" r="4.0"/>
<circle class="mc" cx="1132.8" cy="303.4" r="3.5"/>
<circle class="mc" cx="1129.0" cy="1111.3" r="20.4"/>
<circle class="mc" cx="1012.7" cy="388.2" r="24.9"/>
<circle class="mc" cx="1045.0" cy="486.4" r="18.3"/>
<circle class="mc" cx="988.0" cy="1013.8" r="14.6"/>
<circle class="mc" cx="810.5" cy="1153.7" r="24.2"/>
<circle class="mc" cx="809.5" cy="1170.8" r="14.0"/>
<circle class="mc" cx="1116.8" cy="1028.8" r="17.5"/>
<circle class="mc" cx="1020.8" cy="1074.5" r="16.4"/>
<circle class="mc" cx="989.5" cy="859.9" r="13.5"/>
<circle class="mc" cx="889.6" cy="1178.1" r="23.5"/>
<circle class="mc" cx="1020.7" cy="1009.8" r="10.1"/>
<circle class="mc" cx="866.4" cy="821.8" r="11.2"/>
<circle class="mc" cx="887.1" cy="1158.8" r="10.5"/>
<circle class="mc" cx="1115.5" cy="1134.1" r="23.9"/>
<circle class="mc" cx="888.0" cy="1260.3" r="15.9"/>
<circle class="mc" cx="824.4" cy="1158.6" r="14.0"/>
<circle class="mc" cx="913.6" cy="878.0" r="11.2"/>
<circle class="mc" cx="1129.8" cy="1123.9" r="19.3"/>
<circle class="mc" cx="833.6" cy="687.3" r="21.8"/>
<circle class="mc" cx="1016.5" cy="507.3" r="13.9"/>
<circle class="mc" cx="979.5" cy="393.6" r="10.7"/>
<circle class="mc" cx="968.9" cy="506.5" r="24.2"/>
<circle class="mc" cx="957.0" cy="678.3" r="20.4"/>
<circle class="mc" cx="1150.6" cy="1031.2" r="12.9"/>
<circle class="mc" cx="1031.2" cy="1122.6" r="20.8"/>
<circle class="mc" cx="892.9" cy="954.5" r="16.4"/>
<circle class="mc" cx="971.5" cy="888.3" r="19.4"/>
<circle class="mc" cx="895.4" cy="554.3" r="11.8"/>
<circle class="mc" cx="832.9" cy="720.5" r="24.5"/>
<circle class="mc" cx="991.0" cy="394.5" r="14.1"/>
<circle class="mc" cx="831.7" cy="692.1" r="11.5"/>
<circle class="mc" cx="905.9" cy="1154.9" r="11.3"/>
<circle class="mc" cx="799.6" cy="1282.2" r="13.5"/>
<circle class="mc" cx="1164.4" cy="1092.7" r="10.7"/>
<circle class="mc" cx="980.2" cy="580.3" r="23.9"/>
<circle class="mc" cx="1044.9" cy="1033.1" r="11.0"/>
<circle class="mc" cx="996.3" cy="938.0" r="17.9"/>
<circle class="mc" cx="896.6" cy="867.9" r="13.4"/>
<circle class="mc" cx="1145.6" cy="1059.8" r="13.3"/>
<circle class="mc" cx="993.5" cy="931.3" r="19.3"/>
<circle class="mc" cx="973.2" cy="861.4" r="21.0"/>
<circle class="mc" cx="1109.3" cy="1022.6" r="11.9"/>
<circle class="mc" cx="888.8" cy="676.3" r="15.7"/>
<circle class="mc" cx="986.3" cy="658.3" r="26.0"/>
<circle class="mc" cx="914.4" cy="516.4" r="22.9"/>
<circle class="mc" cx="954.5" cy="711.0" r="17.4"/>
<circle class="mc" cx="853.8" cy="728.9" r="10.1"/>
<circle class="mc" cx="864.3" cy="701.5" r="12.8"/>
<circle class="mc" cx="980.0" cy="504.6" r="20.4"/>
<circle class="mc" cx="952.6" cy="613.4" r="21.0"/>
<circle class="mc" cx="1132.1" cy="1092.6" r="24.1"/>
<circle class="mc" cx="903.4" cy="629.4" r="21.1"/>
<circle class="mc" cx="841.5" cy="1293.4" r="20.5"/>
<circle class="mc" cx="1010.3" cy="428.7" r="14.5"/>
<circle class="mc" cx="812.7" cy="1297.8" r="22.0"/>
<circle class="mc" cx="1121.2" cy="1088.0" r="12.9"/>
<circle class="mc" cx="1011.6" cy="456.7" r="13.0"/>
<circle class="mc" cx="853.1" cy="1249.5" r="22.6"/>
<circle class="mc" cx="900.0" cy="1297.5" r="12.6"/>
<circle class="mc" cx="839.0" cy="740.3" r="22.9"/>
<circle class="mc" cx="897.3" cy="579.9" r="23.6"/>
<circle class="mc" cx="1075.3" cy="526.3" r="21.6"/>
<circle class="mc" cx="888.0" cy="1102.6" r="21.5"/>
<circle class="mc" cx="1067.2" cy="566.4" r="10.7"/>
<circle class="mc" cx="931.8" cy="870.5" r="20.4"/>
<circle class="mc" cx="953.8" cy="696.7" r="16.3"/>
<circle class="mc" cx="872.9" cy="674.7" r="22.0"/>
<circle class="mc" cx="996.6" cy="1083.5" r="16.2"/>
<circle class="mc" cx="850.5" cy="1287.9" r="19.7"/>
<circle class="mc" cx="950.0" cy="1221.1" r="22.1"/>
<circle class="mc" cx="1030.9" cy="559.3" r="11.5"/>
<circle class="mc" cx="1076.2" cy="1066.3" r="14.1"/>
<circle class="mc" cx="984.5" cy="1105.8" r="24.6"/>
<circle class="mc" cx="1004.4" cy="450.0" r="16.7"/>
<circle class="mc" cx="1114.0" cy="490.4" r="24.3"/>
<circle class="mc" cx="872.2" cy="775.8" r="21.3"/>
<circle class="mc" cx="1056.2" cy="380.1" r="16.7"/>
<circle class="mc" cx="1119.7" cy="488.2" r="14.8"/>
<circle class="mc" cx="1000.9" cy="876.4" r="10.5"/>
<circle class="mc" cx="950.0" cy="467.2" r="17.7"/>
<circle class="mc" cx="887.8" cy="792.6" r="18.4"/>
<circle class="mc" cx="939.0" cy="913.2" r="11.4"/>
<circle class="mc" cx="947.6" cy="858.1" r="22.1"/>
<circle class="mc" cx="1121.2" cy="1075.9" r="16.1"/>
<circle class="mc" cx="1039.2" cy="395.1" r="13.1"/>
<circle class="mc" cx="853.5" cy="712.7" r="21.8"/>
<circle class="mc" cx="788.7" cy="1208.1" r="11.5"/>
<circle class="mc" cx="1038.1" cy="1174.2" r="17.2"/>
<circle class="mc" cx="1139.5" cy="412.9" r="22.5"/>
<circle class="mc" cx="886.3" cy="1154.7" r="25.4"/>
<circle class="mc" cx="955.7" cy="821.8" r="12.0"/>
<circle class="mc" cx="852.9" cy="1230.0" r="15.8"/>
<circle class="mc" cx="882.4" cy="913.2" r="15.0"/>
<circle class="mc" cx="1127.9" cy="420.4" r="20.2"/>
<circle class="mc" cx="922.4" cy="777.0" r="18.7"/>
<circle class="mc" cx="1016.7" cy="566.6" r="22.6"/>
<circle class="mc" cx="983.9" cy="1100.2" r="20.0"/>
<circle class="mc" cx="835.0" cy="813.9" r="11.0"/>
<circle class="mc" cx="855.9" cy="1306.6" r="16.1"/>
<circle class="mc" cx="836.8" cy="791.1" r="11.0"/>
<circle class="mc" cx="1035.0" cy="595.8" r="13.5"/>
<circle class="mc" cx="927.7" cy="874.5" r="15.4"/>
<circle class="mc" cx="986.4" cy="808.4" r="25.3"/>
<circle class="mc" cx="988.3" cy="479.2" r="22.0"/>
<circle class="mc" cx="998.0" cy="538.6" r="24.0"/>
<circle class="mc" cx="1170.2" cy="397.8" r="13.8"/>
<circle class="mc" cx="910.1" cy="1181.5" r="11.6"/>
<circle class="mc" cx="1021.5" cy="503.3" r="14.6"/>
<circle class="mc" cx="807.7" cy="1255.2" r="22.1"/>
<circle class="mc" cx="886.8" cy="560.8" r="20.1"/>
<circle class="mc" cx="1029.9" cy="869.8" r="22.4"/>
<circle class="mc" cx="1002.4" cy="677.4" r="20.7"/>
<circle class="mc" cx="984.2" cy="511.9" r="22.0"/>
<circle class="mc" cx="961.2" cy="1172.7" r="25.3"/>
<circle class="mc" cx="1023.4" cy="942.9" r="25.6"/>
<circle class="mc" cx="823.5" cy="1250.8" r="11.0"/>
<circle class="mc" cx="891.3" cy="627.9" r="24.0"/>
<circle class="mc" cx="1039.7" cy="1087.0" r="17.0"/>
<circle class="mc" cx="969.5" cy="788.3" r="15.7"/>
<circle class="mc" cx="914.8" cy="1098.4" r="23.5"/>
<circle class="mc" cx="838.9" cy="1241.7" r="16.9"/>
<circle class="mc" cx="895.2" cy="736.9" r="18.5"/>
<circle class="mc" cx="1001.4" cy="658.1" r="11.0"/>
<circle class="mc" cx="1045.0" cy="1058.1" r="16.3"/>
<circle class="mc" cx="1140.2" cy="396.4" r="12.1"/>
<circle class="mc" cx="999.7" cy="595.0" r="18.4"/>
<circle class="mc" cx="993.4" cy="888.8" r="23.4"/>
<circle class="mc" cx="828.9" cy="1157.1" r="15.1"/>
<circle class="mc" cx="944.2" cy="875.0" r="22.5"/>
<circle class="mc" cx="935.1" cy="877.2" r="17.7"/>
<circle class="mc" cx="900.2" cy="750.9" r="20.4"/>
<circle class="mc" cx="844.9" cy="1304.7" r="18.0"/>
<circle class="mc" cx="1020.0" cy="465.4" r="25.7"/>
<circle class="mc" cx="921.7" cy="993.8" r="12.8"/>
<circle class="mc" cx="983.7" cy="635.8" r="19.0"/>
<circle class="mc" cx="983.2" cy="1097.3" r="15.6"/>
<circle class="mc" cx="1053.0" cy="385.2" r="23.2"/>
<circle class="mc" cx="967.4" cy="809.6" r="18.0"/>
<circle class="mc" cx="936.4" cy="597.4" r="21.1"/>
<circle class="mc" cx="1043.4" cy="431.5" r="14.3"/>
<circle class="mc" cx="903.3" cy="926.3" r="16.0"/>
<circle class="mc" cx="851.8" cy="800.3" r="14.5"/>
<circle class="mc" cx="836.2" cy="788.1" r="15.8"/>
<circle class="mc" cx="1050.1" cy="505.0" r="19.8"/>
<circle class="mc" cx="1158.8" cy="1039.0" r="22.2"/>
<circle class="mc" cx="933.7" cy="690.9" r="23.0"/>
<circle class="mc" cx="872.8" cy="1321.6" r="16.8"/>
<circle class="mc" cx="965.8" cy="673.7" r="21.6"/>
<circle class="mc" cx="957.3" cy="1138.1" r="22.1"/>
<circle class="mc" cx="1076.0" cy="1161.7" r="25.3"/>
<circle class="mc" cx="1171.4" cy="394.9" r="15.8"/>
<circle class="mc" cx="1216.0" cy="349.8" r="21.1"/>
<circle class="mc" cx="1192.2" cy="385.5" r="22.5"/>
<circle class="mc" cx="1160.3" cy="430.9" r="22.2"/>
<circle class="mc" cx="1121.8" cy="470.3" r="21.6"/>
<circle class="mc" cx="1097.2" cy="527.3" r="18.4"/>
<circle class="mc" cx="1055.5" cy="578.5" r="23.5"/>
<circle class="mc" cx="1035.3" cy="622.0" r="18.9"/>
<circle class="mc" cx="1015.9" cy="678.3" r="23.4"/>
<circle class="mc" cx="988.3" cy="728.5" r="24.0"/>
<circle class="mc" cx="995.7" cy="791.2" r="18.8"/>
<circle class="mc" cx="1020.4" cy="850.2" r="21.5"/>
<circle class="mc" cx="1031.1" cy="903.9" r="18.3"/>
<circle class="mc" cx="1060.0" cy="963.6" r="20.6"/>
<circle class="mc" cx="1090.6" cy="998.2" r="21.9"/>
<circle class="mc" cx="1141.4" cy="1022.6" r="21.7"/>
<circle class="mc" cx="1176.6" cy="1056.4" r="22.0"/>
<circle class="mc" cx="1157.2" cy="1101.6" r="17.5"/>
<circle class="mc" cx="1110.2" cy="1138.9" r="20.8"/>
<circle class="mc" cx="1076.0" cy="1172.2" r="23.9"/>
<circle class="mc" cx="1017.1" cy="1197.1" r="18.3"/>
<circle class="mc" cx="969.4" cy="1218.5" r="18.7"/>
<circle class="mc" cx="926.5" cy="1274.0" r="22.1"/>
<circle class="mc" cx="916.7" cy="1319.9" r="21.9"/>
<circle class="mc" cx="701.0" cy="755.0" r="31.0"/>
<circle class="mc" cx="663.0" cy="650.0" r="26.0"/>
<circle class="mc" cx="693.0" cy="542.0" r="15.0"/>
<circle class="mc" cx="738.0" cy="911.0" r="26.0"/>
<path d="M618.6,416.5 L628.4,430.6 M597.1,416.1 L595.0,430.3 M604.8,449.4 L628.4,430.6 M1243.1,299.0 L1235.8,337.2 M1228.0,299.0 L1232.7,336.6 M1235.3,337.8 L1232.7,336.6 M725.9,1206.6 L780.2,1223.1 M728.7,1202.7 L748.4,1195.4 M748.4,1195.4 L780.2,1223.1 M759.3,1263.2 L800.6,1283.2 M759.3,1263.2 L789.5,1232.9 M800.6,1283.2 L817.1,1268.5 M817.1,1268.5 L817.2,1267.8 M789.5,1232.9 L793.4,1233.7 M817.2,1267.8 L793.4,1233.7 M815.9,1300.1 L802.4,1288.8 M815.9,1300.1 L812.9,1328.0 M802.4,1288.8 L786.0,1315.7 M789.9,1328.0 L786.0,1315.7 M831.8,1276.0 L817.1,1268.5 M833.2,1299.3 L831.8,1276.0 M833.2,1299.3 L815.9,1300.1 M800.6,1283.2 L802.4,1288.8 M740.2,1267.7 L759.3,1263.2 M760.4,1302.5 L786.0,1315.7 M840.3,1274.0 L831.8,1276.0 M833.2,1299.3 L842.1,1303.4 M799.6,1021.3 L776.2,1025.9 M799.6,1021.3 L798.5,1045.3 M777.3,1044.3 L791.1,1049.3 M798.5,1045.3 L791.1,1049.3 M619.8,631.4 L596.8,673.1 M596.8,673.1 L585.6,674.3 M684.1,474.2 L682.1,477.7 M684.1,474.2 L666.1,435.6 M666.1,435.6 L636.6,430.5 M670.9,479.5 L656.1,473.4 M656.1,473.4 L635.7,455.3 M635.7,455.3 L632.9,431.3 M636.6,430.5 L632.9,431.3 M622.1,475.4 L628.5,471.1 M628.5,471.1 L656.1,473.4 M628.5,471.1 L635.7,455.3 M628.4,430.6 L632.9,431.3 M648.4,395.0 L636.6,430.5 M799.0,1153.4 L779.8,1144.6 M779.8,1144.6 L823.3,1120.8 M814.4,1144.5 L799.0,1153.4 M814.4,1144.5 L827.6,1132.9 M823.3,1120.8 L827.6,1132.9 M794.7,1190.0 L768.9,1182.5 M794.7,1190.0 L793.1,1217.3 M793.1,1217.3 L788.8,1228.7 M765.8,1185.7 L787.6,1227.4 M765.8,1185.7 L768.9,1182.5 M788.8,1228.7 L787.6,1227.4 M816.3,1180.5 L799.0,1153.4 M816.3,1180.5 L794.7,1190.0 M771.8,1142.6 L779.8,1144.6 M771.8,1142.6 L768.9,1182.5 M748.4,1195.4 L765.8,1185.7 M780.2,1223.1 L787.6,1227.4 M789.5,1232.9 L788.8,1228.7 M866.4,1109.6 L848.9,1097.9 M848.9,1097.9 L856.6,1064.9 M888.8,1105.0 L893.8,1068.2 M888.8,1105.0 L866.4,1109.6 M893.8,1068.2 L856.6,1064.9 M815.5,1065.9 L813.7,1071.3 M815.5,1065.9 L798.5,1045.3 M777.8,1064.7 L791.1,1049.3 M777.8,1064.7 L795.3,1073.8 M813.7,1071.3 L795.3,1073.8 M896.7,1111.2 L933.6,1103.4 M896.7,1111.2 L902.0,1139.7 M936.4,1122.6 L942.3,1108.6 M933.6,1103.4 L942.3,1108.6 M936.4,1122.6 L914.7,1141.8 M902.0,1139.7 L914.7,1141.8 M579.3,774.7 L583.5,746.8 M582.0,777.4 L587.4,747.1 M583.5,746.8 L587.4,747.1 M596.8,744.3 L621.9,762.8 M620.9,764.6 L621.9,762.8 M620.9,764.6 L604.9,785.8 M596.8,744.3 L587.4,747.1 M562.0,731.0 L583.5,746.8 M565.7,711.8 L588.2,730.3 M588.2,730.3 L596.8,744.3 M596.8,673.1 L630.2,671.8 M630.2,671.8 L637.0,638.3 M657.8,687.6 L650.3,682.0 M657.8,687.6 L664.7,750.5 M646.7,681.6 L650.3,682.0 M646.7,681.6 L624.5,728.2 M633.7,751.9 L624.6,728.3 M633.7,751.9 L664.7,750.5 M624.6,728.3 L624.5,728.2 M630.2,671.8 L646.7,681.6 M579.2,685.3 L624.5,728.2 M588.2,730.3 L624.6,728.3 M621.9,762.8 L633.7,751.9 M668.0,751.7 L674.0,759.2 M663.0,803.2 L674.0,759.2 M620.9,764.6 L659.1,802.2 M668.0,751.7 L664.7,750.5 M668.0,751.7 L695.4,721.7 M657.8,687.6 L693.1,692.4 M693.1,692.4 L695.4,721.7 M865.9,1112.4 L851.5,1159.6 M865.9,1112.4 L866.0,1110.9 M866.0,1110.9 L833.6,1137.1 M851.5,1159.6 L833.6,1137.1 M653.7,606.1 L663.4,609.4 M663.4,609.4 L690.5,595.9 M690.5,595.9 L675.3,554.6 M724.4,572.1 L698.8,554.0 M724.4,572.1 L731.5,548.7 M728.1,539.7 L731.5,548.7 M728.1,539.7 L697.7,550.6 M697.7,550.6 L698.8,554.0 M690.5,595.9 L696.7,593.6 M696.7,593.6 L698.8,554.0 M676.8,538.1 L697.7,550.6 M801.9,890.9 L792.6,896.1 M792.6,896.1 L762.8,877.1 M810.7,871.6 L803.3,863.9 M801.9,890.9 L810.7,871.6 M803.3,863.9 L762.8,877.1 M768.1,1112.7 L785.1,1089.7 M768.1,1112.7 L821.8,1102.7 M785.1,1089.7 L816.3,1082.1 M816.3,1082.1 L822.1,1102.2 M821.8,1102.7 L822.1,1102.2 M753.0,1118.9 L768.1,1112.7 M753.0,1118.9 L743.8,1115.2 M768.6,1066.3 L777.8,1064.7 M795.3,1073.8 L785.1,1089.7 M823.3,1120.8 L821.8,1102.7 M753.0,1118.9 L771.8,1142.6 M813.7,1071.3 L816.3,1082.1 M827.6,1132.9 L833.6,1137.1 M848.9,1097.9 L822.1,1102.2 M866.4,1109.6 L866.0,1110.9 M830.3,904.6 L810.9,899.9 M830.3,904.6 L829.7,934.0 M810.9,899.9 L817.5,935.6 M829.7,934.0 L817.5,935.6 M852.4,864.1 L810.7,871.6 M801.9,890.9 L810.9,899.9 M854.1,884.4 L852.8,864.3 M852.8,864.3 L852.4,864.1 M854.1,884.4 L830.3,904.6 M730.5,874.8 L656.3,927.2 M730.5,874.8 L730.9,867.5 M730.9,867.5 L680.3,860.8 M687.7,816.6 L736.7,853.7 M736.7,853.7 L731.3,867.0 M731.3,867.0 L730.9,867.5 M942.3,1108.6 L953.1,1108.4 M936.4,1122.6 L941.2,1144.0 M965.4,1118.7 L953.1,1108.4 M966.2,1119.8 L965.4,1118.7 M914.7,1141.8 L932.4,1157.1 M862.7,1229.9 L835.5,1224.2 M836.2,1240.1 L833.0,1229.6 M833.0,1229.6 L835.5,1224.2 M793.4,1233.7 L833.0,1229.6 M817.2,1267.8 L836.3,1241.6 M836.3,1241.6 L836.2,1240.1 M836.3,1241.6 L846.1,1254.6 M670.9,428.0 L666.1,435.6 M1035.8,299.0 L1003.0,318.7 M996.1,312.2 L1003.0,318.7 M696.7,593.6 L733.8,601.4 M724.4,572.1 L735.4,600.3 M733.8,601.4 L735.4,600.3 M684.1,474.2 L723.0,460.7 M677.7,505.0 L717.8,515.0 M727.0,491.6 L717.8,515.0 M732.8,530.9 L731.1,524.8 M732.8,530.9 L728.1,539.7 M717.8,515.0 L731.1,524.8 M1195.2,352.0 L1184.8,347.4 M1195.2,352.0 L1210.5,329.4 M1184.8,347.4 L1184.9,331.1 M1184.9,331.1 L1198.2,320.0 M1210.5,329.4 L1206.3,321.7 M1206.3,321.7 L1198.2,320.0 M1201.9,386.0 L1200.1,381.0 M1232.7,336.6 L1210.5,329.4 M1200.1,381.0 L1195.2,352.0 M1213.7,299.0 L1206.3,321.7 M1198.2,320.0 L1171.6,306.9 M1184.9,331.1 L1180.3,330.9 M1171.6,306.9 L1180.3,330.9 M1091.8,352.0 L1070.8,337.7 M1096.1,353.2 L1091.8,352.0 M1101.1,327.6 L1084.6,306.4 M1084.6,306.4 L1056.9,320.7 M1101.1,327.6 L1096.1,353.2 M1070.8,337.7 L1056.9,320.7 M687.9,812.8 L702.3,801.3 M702.3,801.3 L746.4,811.7 M736.7,853.7 L752.7,826.3 M746.4,811.7 L752.7,826.3 M762.8,877.1 L731.3,867.0 M803.3,863.9 L797.3,853.5 M797.3,853.5 L757.4,826.4 M752.7,826.3 L757.4,826.4 M1124.1,391.5 L1128.6,406.4 M1124.1,391.5 L1157.4,379.9 M1128.6,406.4 L1155.4,411.3 M1155.4,411.3 L1177.6,399.8 M1177.6,399.8 L1157.4,379.9 M1037.2,459.8 L1018.0,456.0 M1012.5,465.8 L1022.7,481.5 M1012.5,465.8 L1018.0,456.0 M719.1,725.8 L715.5,726.9 M695.4,721.7 L715.5,726.9 M693.1,692.4 L707.6,681.6 M730.6,706.6 L727.7,686.2 M727.7,686.2 L727.6,686.1 M719.1,725.8 L730.6,706.6 M727.6,686.1 L707.6,681.6 M817.2,1023.9 L839.3,1022.8 M817.2,1023.9 L826.9,1049.4 M826.9,1049.4 L839.3,1022.8 M802.6,1017.7 L802.6,1003.0 M802.6,1017.7 L817.2,1023.9 M818.6,984.5 L851.5,1020.9 M851.5,1020.9 L839.3,1022.8 M802.6,1003.0 L814.6,984.7 M814.6,984.7 L818.6,984.5 M815.5,1065.9 L828.9,1057.7 M799.6,1021.3 L802.6,1017.7 M828.9,1057.7 L826.9,1049.4 M828.9,1057.7 L849.2,1056.4 M856.6,1064.9 L856.2,1064.5 M856.2,1064.5 L849.2,1056.4 M792.6,896.1 L789.3,903.0 M817.5,935.6 L809.7,939.4 M809.7,939.4 L789.3,903.0 M965.4,1118.7 L995.7,1091.2 M995.7,1091.2 L998.5,1119.4 M1038.2,371.8 L1052.5,355.7 M1038.2,371.8 L1028.7,374.2 M1028.7,374.2 L1016.8,367.3 M1016.8,367.3 L1013.9,329.6 M1052.8,353.0 L1052.5,355.7 M1052.8,353.0 L1049.5,325.1 M1013.9,329.6 L1047.9,320.2 M1049.5,325.1 L1048.8,320.6 M1047.9,320.2 L1048.8,320.6 M1091.8,352.0 L1052.5,355.7 M1073.3,382.7 L1096.4,361.2 M1073.3,382.7 L1038.2,371.8 M1096.3,353.8 L1096.4,361.2 M1096.1,353.2 L1096.3,353.8 M971.3,350.9 L1016.2,367.5 M1003.0,318.7 L1013.9,329.6 M1016.2,367.5 L1016.8,367.3 M1062.0,343.4 L1070.8,337.7 M1062.0,343.4 L1052.8,353.0 M1062.0,343.4 L1049.5,325.1 M1046.5,299.0 L1047.9,320.2 M1056.9,320.7 L1048.8,320.6 M1084.9,299.0 L1084.6,306.4 M1016.2,367.5 L1013.3,369.6 M954.1,366.7 L964.3,382.5 M964.3,382.5 L1013.3,369.6 M1034.5,409.6 L1025.7,423.2 M1034.5,409.6 L1028.7,374.2 M1025.7,423.2 L992.7,407.3 M1013.3,369.6 L992.7,407.3 M727.2,625.8 L730.1,635.8 M727.2,625.8 L681.2,638.7 M693.0,653.6 L725.5,641.5 M693.0,653.6 L681.2,639.3 M725.5,641.5 L730.1,635.8 M681.2,638.7 L681.2,639.3 M663.4,609.4 L681.2,638.7 M733.8,601.4 L727.2,625.8 M705.7,673.2 L725.5,641.5 M705.7,673.2 L693.0,653.6 M705.7,673.2 L707.6,681.6 M650.3,682.0 L681.2,639.3 M727.6,686.1 L740.0,646.4 M740.0,646.4 L730.1,635.8 M1018.0,456.0 L1020.2,447.1 M1036.9,437.8 L1044.7,449.7 M1036.9,437.8 L1026.0,431.4 M1020.2,447.1 L1026.0,431.4 M1044.9,411.0 L1063.0,428.9 M1036.9,437.8 L1053.6,437.2 M1025.7,423.2 L1025.1,427.8 M1034.5,409.6 L1044.9,411.0 M1026.0,431.4 L1025.1,427.8 M789.3,584.0 L792.5,550.7 M789.3,584.0 L767.6,587.7 M767.6,587.7 L763.5,575.8 M770.4,539.9 L782.5,540.3 M770.4,539.9 L763.1,566.3 M763.1,566.3 L763.5,575.8 M778.9,650.2 L762.1,593.1 M762.1,593.1 L767.6,587.7 M816.5,604.5 L778.9,650.2 M806.4,587.9 L789.3,584.0 M816.5,604.5 L806.4,587.9 M731.5,548.7 L763.5,575.8 M762.1,593.1 L735.4,600.3 M763.5,527.7 L746.3,532.9 M763.5,527.7 L770.4,539.9 M746.3,532.9 L763.1,566.3 M746.3,532.9 L732.8,530.9 M835.8,625.7 L884.4,612.8 M835.8,625.7 L816.8,604.8 M816.8,604.8 L883.6,575.6 M884.4,612.8 L887.6,608.6 M887.6,608.6 L888.5,577.2 M883.6,575.6 L888.5,577.2 M1200.1,381.0 L1167.8,359.6 M1184.8,347.4 L1184.7,347.4 M1184.7,347.4 L1167.8,359.6 M1180.3,330.9 L1174.6,337.2 M1174.6,337.2 L1180.5,344.9 M1184.7,347.4 L1180.5,344.9 M1174.6,337.2 L1158.4,329.4 M1171.6,306.9 L1167.4,304.2 M1158.4,329.4 L1167.4,304.2 M967.4,557.2 L968.5,582.8 M755.2,765.0 L747.8,784.9 M755.2,765.0 L707.3,755.8 M747.8,784.9 L690.4,766.1 M707.3,755.8 L690.1,765.8 M690.1,765.8 L690.4,766.1 M746.4,811.7 L747.8,784.9 M702.3,801.3 L690.4,766.1 M674.0,759.2 L690.1,765.8 M713.8,746.5 L715.5,726.9 M713.8,746.5 L707.3,755.8 M719.1,725.8 L742.5,741.8 M730.6,706.6 L740.9,713.7 M740.9,713.7 L742.5,741.8 M713.8,746.5 L747.8,748.6 M755.2,765.0 L759.2,758.3 M759.2,758.3 L747.8,748.6 M742.5,741.8 L747.8,748.6 M778.9,650.2 L778.8,653.4 M740.0,646.4 L776.2,654.9 M778.8,653.4 L776.2,654.9 M833.6,634.3 L854.9,669.6 M835.8,625.7 L833.6,634.3 M884.4,612.8 L885.7,653.0 M854.9,669.6 L875.5,666.4 M885.7,653.0 L875.5,666.4 M1074.1,393.7 L1082.6,400.1 M1074.1,393.7 L1065.6,404.1 M1082.6,400.1 L1087.9,421.4 M1065.6,404.1 L1071.6,416.8 M1071.6,416.8 L1087.9,421.4 M1096.4,361.2 L1113.7,382.4 M1113.7,382.4 L1102.8,394.2 M1073.3,382.7 L1074.1,393.7 M1102.8,394.2 L1087.5,399.8 M1087.5,399.8 L1082.6,400.1 M1044.9,411.0 L1065.6,404.1 M1097.6,428.8 L1098.9,408.9 M1101.1,405.0 L1098.9,408.9 M1101.1,405.0 L1124.6,413.0 M1124.6,413.0 L1121.2,420.0 M1087.5,399.8 L1098.9,408.9 M1102.8,394.2 L1101.1,405.0 M1113.7,382.4 L1118.7,384.9 M1118.7,384.9 L1124.1,391.5 M1128.6,406.4 L1124.6,413.0 M1155.4,411.3 L1155.0,413.6 M1189.2,400.8 L1177.6,399.8 M1025.7,1117.9 L1001.5,1084.1 M1040.3,1086.8 L1021.5,1075.1 M1021.5,1075.1 L1001.5,1084.1 M995.7,1091.2 L998.0,1084.2 M1001.5,1084.1 L998.0,1084.2 M953.1,1108.4 L963.6,1085.9 M963.6,1085.9 L985.3,1074.4 M985.3,1074.4 L985.5,1074.5 M985.5,1074.5 L998.0,1084.2 M1021.5,1075.1 L1023.7,1051.9 M985.5,1074.5 L1020.3,1048.7 M1020.3,1048.7 L1023.7,1051.9 M829.7,934.0 L842.9,937.5 M854.1,884.4 L866.3,910.4 M866.3,910.4 L842.9,937.5 M808.8,839.9 L839.8,844.9 M808.8,839.9 L810.2,834.5 M810.2,834.5 L837.7,840.0 M839.8,844.9 L837.7,840.0 M852.4,864.1 L839.8,844.9 M797.3,853.5 L808.8,839.9 M757.4,826.4 L804.9,805.1 M804.9,805.1 L812.1,810.9 M812.1,810.9 L810.2,834.5 M812.1,810.9 L829.5,817.3 M829.5,817.3 L837.7,840.0 M890.4,1047.4 L905.6,1013.3 M890.4,1047.4 L878.4,1040.0 M878.4,1040.0 L856.8,1022.0 M898.3,1004.0 L905.6,1013.3 M898.3,1004.0 L857.7,1021.0 M857.7,1021.0 L856.8,1022.0 M856.8,1022.0 L856.8,1022.0 M894.4,1067.6 L890.4,1047.4 M893.8,1068.2 L894.4,1067.6 M856.2,1064.5 L878.4,1040.0 M849.2,1056.4 L856.8,1022.0 M818.6,984.5 L842.3,975.2 M842.3,975.2 L854.9,990.2 M854.9,990.2 L857.7,1021.0 M851.5,1020.9 L856.8,1022.0 M835.5,1224.2 L837.3,1214.3 M837.3,1214.3 L855.8,1203.8 M793.1,1217.3 L825.3,1199.3 M837.3,1214.3 L825.3,1199.3 M883.5,1195.5 L861.6,1185.0 M855.8,1203.8 L861.6,1185.0 M816.3,1180.5 L817.2,1180.8 M825.3,1199.3 L817.2,1180.8 M814.4,1144.5 L834.2,1169.2 M817.2,1180.8 L834.2,1169.2 M851.5,1159.6 L851.6,1159.9 M834.2,1169.2 L851.6,1159.9 M900.2,1141.8 L899.4,1146.8 M900.2,1141.8 L878.1,1143.6 M899.4,1146.8 L868.8,1171.1 M878.1,1143.6 L852.4,1160.3 M852.4,1160.3 L861.4,1170.9 M868.8,1171.1 L861.4,1170.9 M902.0,1176.4 L899.4,1146.8 M902.0,1139.7 L900.2,1141.8 M896.7,1111.2 L888.8,1105.0 M865.9,1112.4 L878.1,1143.6 M893.7,1177.6 L868.8,1171.1 M851.6,1159.9 L852.4,1160.3 M861.6,1185.0 L861.4,1170.9 M971.6,414.1 L963.9,410.1 M971.6,414.1 L982.1,436.1 M982.1,436.1 L982.0,440.2 M958.5,412.3 L959.6,446.0 M958.5,412.3 L963.9,410.1 M982.0,440.2 L978.9,466.2 M959.6,446.0 L974.4,470.2 M978.9,466.2 L974.4,470.2 M964.3,382.5 L963.9,410.1 M992.7,407.3 L971.6,414.1 M1025.1,427.8 L982.1,436.1 M1020.2,447.1 L982.0,440.2 M944.7,416.9 L905.6,392.7 M944.7,416.9 L958.5,412.3 M1012.5,465.8 L978.9,466.2 M967.4,557.2 L950.5,543.3 M937.1,577.2 L967.3,587.6 M937.1,577.2 L930.0,571.9 M950.5,543.3 L930.0,571.9 M938.8,430.9 L928.7,437.2 M938.8,430.9 L939.6,432.5 M939.6,432.5 L954.1,477.7 M928.7,437.2 L930.7,474.9 M930.7,474.9 L946.9,483.0 M954.1,477.7 L947.2,483.0 M946.9,483.0 L947.2,483.0 M944.7,416.9 L938.8,430.9 M959.6,446.0 L939.6,432.5 M973.7,471.0 L954.1,477.7 M974.4,470.2 L973.7,471.0 M909.8,512.3 L946.9,483.0 M909.8,512.3 L899.6,488.3 M899.6,488.3 L918.9,472.4 M918.9,472.4 L930.7,474.9 M890.6,425.3 L910.6,440.5 M879.6,452.8 L881.6,463.0 M881.6,463.0 L910.6,461.9 M910.6,440.5 L910.6,461.9 M928.7,437.2 L910.6,440.5 M870.3,485.6 L865.0,481.7 M850.4,460.5 L865.0,481.7 M874.2,482.9 L881.6,463.0 M874.2,482.9 L870.3,485.6 M899.6,488.3 L874.2,482.9 M918.9,472.4 L910.6,461.9 M816.5,604.5 L816.8,604.8 M806.4,587.9 L812.6,582.1 M883.6,575.6 L864.3,567.6 M812.6,582.1 L864.3,567.6 M1180.5,344.9 L1163.2,349.2 M1167.8,359.6 L1165.2,359.3 M1163.2,349.2 L1165.2,359.3 M1167.4,304.2 L1165.9,299.0 M888.5,577.2 L892.8,572.7 M930.0,571.9 L892.8,572.7 M937.1,577.2 L936.5,610.6 M936.5,610.6 L925.0,617.9 M887.6,608.6 L914.1,619.0 M914.1,619.0 L925.0,617.9 M939.9,629.4 L925.0,617.9 M936.5,610.6 L961.7,609.1 M833.6,634.3 L805.0,660.6 M854.9,669.6 L839.6,688.7 M839.6,688.7 L833.6,688.5 M833.6,688.5 L805.0,660.6 M778.8,653.4 L797.0,661.1 M805.0,660.6 L797.0,661.1 M740.9,713.7 L765.3,714.8 M759.2,758.3 L786.2,743.9 M786.2,743.9 L765.3,714.8 M833.6,688.5 L802.3,716.5 M797.0,661.1 L794.6,697.4 M802.3,716.5 L794.6,697.4 M885.7,653.0 L907.0,661.8 M914.1,619.0 L930.0,658.4 M907.0,661.8 L930.0,658.4 M847.0,777.4 L867.9,773.3 M847.0,777.4 L843.4,797.1 M867.9,773.3 L875.2,791.1 M843.4,797.1 L845.6,806.8 M871.7,799.8 L852.6,807.7 M871.7,799.8 L875.2,791.1 M845.6,806.8 L852.6,807.7 M809.3,762.0 L813.0,762.6 M813.0,762.6 L847.0,777.4 M809.1,780.4 L809.3,762.0 M809.1,780.4 L843.4,797.1 M804.9,805.1 L809.1,780.4 M829.5,817.3 L845.6,806.8 M852.8,864.3 L868.7,856.0 M868.7,856.0 L852.6,807.7 M907.0,661.8 L907.9,701.2 M875.5,666.4 L888.8,699.5 M888.8,699.5 L907.9,701.2 M800.7,750.2 L841.9,729.9 M800.7,750.2 L791.7,743.6 M802.2,716.8 L791.7,743.6 M802.2,716.8 L840.0,717.5 M840.0,717.5 L841.9,729.9 M809.3,762.0 L800.7,750.2 M786.2,743.9 L791.7,743.6 M839.6,688.7 L844.6,696.1 M802.3,716.5 L802.2,716.8 M844.6,696.1 L840.0,717.5 M959.4,1018.1 L977.3,1021.9 M959.4,1018.1 L987.4,985.9 M977.3,1021.9 L995.6,999.7 M982.3,1059.8 L985.3,1074.4 M963.6,1085.9 L950.0,1069.5 M982.3,1059.8 L955.0,1051.8 M955.0,1051.8 L950.0,1069.5 M933.6,1103.4 L926.5,1075.3 M950.0,1069.5 L926.5,1075.3 M894.4,1067.6 L915.8,1065.1 M926.5,1075.3 L915.8,1065.1 M923.1,1021.4 L905.6,1013.3 M923.1,1021.4 L919.5,1058.7 M915.8,1065.1 L919.5,1058.7 M992.6,1038.2 L1008.9,1036.5 M982.3,1059.8 L992.6,1038.2 M1020.3,1048.7 L1010.7,1037.4 M1008.9,1036.5 L1010.7,1037.4 M925.7,901.1 L912.2,917.8 M916.6,887.6 L925.7,901.1 M916.6,887.6 L900.0,882.5 M900.0,882.5 L884.8,914.6 M912.2,917.8 L884.8,914.6 M868.7,856.0 L871.6,855.2 M887.7,865.1 L871.6,855.2 M900.0,882.5 L887.7,865.1 M866.3,910.4 L882.1,915.6 M884.8,914.6 L882.1,915.6 M912.2,917.8 L918.1,934.3 M918.1,934.3 L920.2,935.3 M925.7,901.1 L936.8,901.3 M936.8,901.3 L950.4,937.4 M920.2,935.3 L950.4,937.4 M944.5,896.3 L936.8,901.3 M955.6,941.0 L950.4,937.4 M923.3,848.3 L924.3,857.7 M924.3,857.7 L928.9,862.8 M928.9,862.8 L935.9,863.9 M892.7,833.1 L904.2,828.1 M892.7,833.1 L923.3,848.3 M904.2,828.1 L931.6,823.9 M916.6,887.6 L928.9,862.8 M887.7,865.1 L924.3,857.7 M814.6,984.7 L802.6,962.6 M842.9,937.5 L852.7,956.8 M842.3,975.2 L852.7,956.8 M809.7,939.4 L803.4,945.9 M802.6,962.6 L803.4,945.9 M916.4,528.3 L948.2,529.5 M909.8,512.4 L916.4,528.3 M947.2,483.0 L953.6,515.1 M909.8,512.4 L909.8,512.3 M953.6,515.1 L948.2,529.5 M950.5,543.3 L950.1,534.1 M892.8,572.7 L893.2,569.7 M916.4,528.3 L893.2,569.7 M950.1,534.1 L948.2,529.5 M950.1,534.1 L997.2,537.8 M763.5,527.7 L778.3,500.2 M731.1,524.8 L752.1,491.7 M865.0,481.7 L839.1,478.6 M909.8,512.4 L901.9,513.4 M870.3,485.6 L867.3,495.1 M867.3,495.1 L901.9,513.4 M893.2,569.7 L880.4,533.1 M880.4,533.1 L893.7,517.7 M901.9,513.4 L893.7,517.7 M893.7,517.7 L865.7,506.6 M880.4,533.1 L863.6,516.0 M863.6,516.0 L865.7,506.6 M867.3,495.1 L866.5,496.6 M866.5,496.6 L865.7,506.6 M1096.3,353.8 L1134.7,349.5 M1118.7,384.9 L1133.2,370.3 M1134.7,349.5 L1133.2,370.3 M1157.4,379.9 L1154.8,369.9 M1133.2,370.3 L1154.8,369.9 M1165.2,359.3 L1154.9,369.7 M1154.8,369.9 L1154.9,369.7 M1152.9,335.0 L1135.2,320.7 M1152.9,335.0 L1152.8,335.2 M1152.8,335.2 L1140.2,346.4 M1135.2,320.7 L1123.5,317.3 M1139.5,346.5 L1140.2,346.4 M1139.5,346.5 L1117.9,319.9 M1123.5,317.3 L1120.4,317.5 M1117.9,319.9 L1120.4,317.5 M1158.4,329.4 L1152.9,335.0 M1161.5,299.0 L1135.2,320.7 M1163.2,349.2 L1152.8,335.2 M1154.9,369.7 L1140.2,346.4 M1148.1,299.0 L1123.5,317.3 M1134.7,349.5 L1139.5,346.5 M1101.1,327.6 L1117.9,319.9 M1120.5,299.0 L1120.4,317.5 M763.3,702.7 L779.8,693.2 M763.3,702.7 L752.8,684.6 M779.8,693.2 L768.3,668.1 M752.8,684.6 L768.3,668.1 M794.6,697.4 L779.8,693.2 M765.3,714.8 L763.3,702.7 M727.7,686.2 L752.8,684.6 M776.2,654.9 L768.3,668.1 M892.7,833.1 L890.7,833.3 M871.6,855.2 L886.7,834.4 M890.7,833.3 L886.7,834.4 M871.7,799.8 L885.3,829.4 M885.3,829.4 L886.7,834.4 M885.3,829.4 L897.7,798.2 M875.2,791.1 L896.9,791.5 M896.9,791.5 L897.7,798.2 M844.6,696.1 L869.9,711.0 M841.9,729.9 L853.3,733.0 M853.3,733.0 L869.9,711.0 M813.0,762.6 L860.0,748.3 M853.3,733.0 L860.0,748.3 M867.9,773.3 L873.2,757.9 M860.0,748.3 L873.2,757.9 M888.8,699.5 L875.4,710.7 M875.4,710.7 L869.9,711.0 M951.7,1029.2 L922.4,1057.7 M951.7,1029.2 L953.3,1049.0 M953.3,1049.0 L922.4,1057.7 M923.1,1021.4 L951.2,1017.6 M951.2,1017.6 L951.7,1029.2 M919.5,1058.7 L922.4,1057.7 M959.4,1018.1 L951.6,1017.3 M992.6,1038.2 L977.3,1021.9 M951.6,1017.3 L951.2,1017.6 M955.0,1051.8 L953.3,1049.0 M1008.9,1036.5 L1009.4,1031.5 M906.7,945.0 L885.7,945.7 M906.7,945.0 L914.7,976.4 M891.0,981.7 L877.1,959.4 M891.0,981.7 L898.4,987.9 M877.1,959.4 L885.7,945.7 M898.4,987.9 L914.7,976.4 M918.1,934.3 L906.7,945.0 M882.1,915.6 L885.7,945.7 M852.7,956.8 L877.1,959.4 M854.9,990.2 L891.0,981.7 M898.3,1004.0 L898.4,987.9 M914.7,976.4 L926.4,973.5 M951.6,1017.3 L951.5,995.4 M926.4,973.5 L951.5,995.4 M920.2,935.3 L928.1,970.8 M926.4,973.5 L928.1,970.8 M956.6,989.9 L951.5,995.4 M778.3,937.1 L767.8,957.0 M778.3,937.1 L764.6,921.9 M764.6,921.9 L737.2,917.6 M764.8,959.0 L767.8,957.0 M764.8,959.0 L728.6,931.6 M737.2,917.6 L728.6,931.6 M803.4,945.9 L778.3,937.1 M790.2,966.1 L767.8,957.0 M802.6,962.6 L790.2,966.1 M789.3,903.0 L764.6,921.9 M730.5,874.8 L737.2,917.6 M688.4,973.4 L728.6,931.6 M995.8,532.3 L958.1,515.2 M958.1,515.2 L994.9,505.9 M995.1,506.0 L994.9,505.9 M953.6,515.1 L958.1,515.2 M973.7,471.0 L994.9,505.9 M821.8,491.4 L829.1,515.0 M821.8,491.4 L853.9,497.1 M853.9,497.1 L829.1,515.0 M821.4,490.9 L821.8,491.4 M866.5,496.6 L853.9,497.1 M830.3,526.3 L840.1,533.2 M830.3,526.3 L809.0,529.2 M819.2,560.7 L840.6,536.0 M819.2,560.7 L807.2,538.3 M840.6,536.0 L840.1,533.2 M863.6,516.0 L840.1,533.2 M829.1,515.0 L830.3,526.3 M812.6,582.1 L819.2,560.7 M864.3,567.6 L840.6,536.0 M886.0,751.3 L888.4,747.1 M886.0,751.3 L910.3,775.0 M888.4,747.1 L904.5,738.7 M875.4,710.7 L888.4,747.1 M873.2,757.9 L886.0,751.3 M912.0,780.4 L903.2,788.0 M896.9,791.5 L903.2,788.0 M902.2,811.4 L903.1,809.2 M902.2,811.4 L910.6,815.1 M903.1,809.2 L912.1,808.2 M910.6,815.1 L913.8,811.0 M912.1,808.2 L912.3,808.3 M890.7,833.3 L902.2,811.4 M897.7,798.2 L903.1,809.2 M904.2,828.1 L910.6,815.1 M903.2,788.0 L912.1,808.2 M955.7,941.5 L948.9,952.9 M948.9,952.9 L959.0,982.0 M928.1,970.8 L948.9,952.9 M956.6,989.9 L959.0,982.0 M758.7,979.4 L760.4,977.3 M774.1,994.9 L781.7,995.7 M760.4,977.3 L782.5,971.5 M781.7,995.7 L782.5,971.5 M764.8,959.0 L760.4,977.3 M802.6,1003.0 L781.7,995.7 M790.2,966.1 L782.5,971.5" stroke="#cfc3c3" stroke-width="1.1" fill="none" opacity="0.75"/>
<path d="M1184.3,1085.1 L1176.3,1067.9 M1176.3,1067.9 L1187.4,1059.6 M927.7,1320.5 L904.8,1298.7 M904.8,1298.7 L914.4,1328.0 M1085.1,1168.4 L1076.4,1163.3 M1096.0,1155.3 L1084.1,1149.7 M1084.1,1149.7 L1076.4,1163.3 M840.3,1274.0 L846.4,1279.8 M842.1,1303.4 L847.1,1294.8 M846.4,1279.8 L847.1,1294.8 M904.8,1298.7 L904.2,1297.8 M904.2,1297.8 L929.2,1286.8 M1062.1,1159.1 L1055.9,1162.0 M1076.4,1163.3 L1062.1,1159.1 M1056.1,1184.7 L1055.9,1162.0 M842.1,1303.4 L845.7,1310.3 M845.7,1310.3 L843.8,1328.0 M904.2,1297.8 L899.2,1297.5 M899.2,1297.5 L891.7,1328.0 M1076.6,1129.7 L1086.8,1140.0 M1076.6,1129.7 L1071.1,1134.9 M1071.1,1134.9 L1070.0,1144.8 M1086.8,1140.0 L1083.8,1149.4 M1083.8,1149.4 L1070.0,1144.8 M1078.3,1125.9 L1098.8,1123.5 M1104.9,1129.7 L1098.8,1123.5 M1106.2,1144.5 L1104.9,1129.7 M1106.2,1144.5 L1086.8,1140.0 M1078.3,1125.9 L1076.6,1129.7 M1047.3,1154.0 L1055.2,1130.8 M1055.2,1130.8 L1071.1,1134.9 M1062.1,1159.1 L1070.0,1144.8 M1055.9,1162.0 L1050.0,1158.4 M1050.0,1158.4 L1047.3,1154.0 M1084.1,1149.7 L1083.8,1149.4 M1106.6,1145.5 L1106.2,1144.5 M1118.1,1117.3 L1108.4,1127.9 M1118.1,1117.3 L1119.0,1117.1 M1119.0,1117.1 L1132.7,1123.0 M1108.4,1127.9 L1132.4,1129.4 M1136.0,1126.5 L1133.7,1123.7 M1133.7,1123.7 L1132.7,1123.0 M1102.0,1102.6 L1100.6,1102.8 M1102.0,1102.6 L1118.1,1117.3 M1104.9,1129.7 L1108.4,1127.9 M1100.6,1102.8 L1098.8,1123.5 M1102.0,1102.6 L1116.0,1097.3 M1116.0,1097.3 L1120.6,1111.5 M1120.6,1111.5 L1119.0,1117.1 M1120.6,1111.5 L1126.0,1110.1 M1126.0,1110.1 L1132.7,1123.0 M1132.2,1101.0 L1126.0,1110.1 M1132.2,1101.0 L1133.7,1123.7 M1050.0,1158.4 L1032.0,1167.1 M1037.5,1192.7 L1022.7,1175.2 M1032.0,1167.1 L1022.7,1175.2 M1001.3,1207.2 L1005.5,1182.1 M1005.5,1182.1 L1017.4,1175.1 M1017.4,1175.1 L1022.3,1175.1 M1022.3,1175.1 L1022.7,1175.2 M1032.0,1167.1 L1024.8,1148.6 M1022.3,1175.1 L1022.8,1149.5 M1022.8,1149.5 L1024.8,1148.6 M1017.4,1175.1 L1005.4,1150.6 M1022.8,1149.5 L1005.4,1150.6 M1042.3,1150.3 L1047.3,1154.0 M1042.3,1150.3 L1027.9,1146.2 M1027.9,1146.2 L1024.8,1148.6 M1005.5,1182.1 L984.5,1167.0 M984.5,1167.0 L1001.9,1148.9 M1005.4,1150.6 L1001.9,1148.9 M955.4,1244.4 L936.4,1228.4 M940.7,1263.3 L936.2,1228.6 M936.4,1228.4 L936.2,1228.6 M864.1,1305.0 L875.9,1313.5 M864.1,1305.0 L858.4,1307.9 M858.4,1307.9 L875.6,1325.3 M875.9,1313.5 L875.6,1325.3 M891.0,1294.4 L875.9,1313.5 M891.0,1294.4 L871.1,1295.8 M871.1,1295.8 L864.1,1305.0 M867.5,1292.0 L857.5,1289.5 M847.1,1294.8 L857.5,1289.5 M871.1,1295.8 L867.5,1292.0 M845.7,1310.3 L858.4,1307.9 M876.2,1328.0 L875.6,1325.3 M893.3,1293.5 L891.0,1294.4 M893.3,1293.5 L899.2,1297.5 M846.4,1279.8 L857.2,1276.9 M857.5,1289.5 L858.6,1279.5 M857.2,1276.9 L858.6,1279.5 M867.5,1292.0 L867.5,1282.1 M858.6,1279.5 L867.5,1282.1 M893.3,1293.5 L889.5,1277.0 M889.5,1277.0 L876.5,1273.0 M867.5,1282.1 L876.5,1273.0 M1030.6,655.6 L1014.5,654.9 M1036.1,644.8 L1015.1,643.2 M1014.5,654.9 L1015.1,643.2 M1111.3,474.6 L1112.9,474.3 M1112.9,474.3 L1125.3,445.0 M1112.5,439.6 L1111.2,474.0 M1111.2,474.0 L1111.3,474.6 M1112.5,439.6 L1114.3,435.8 M1114.3,435.8 L1125.3,445.0 M1112.9,474.3 L1127.7,476.8 M1128.6,474.4 L1127.3,446.0 M1125.3,445.0 L1127.3,446.0 M1111.2,474.0 L1105.7,459.1 M1112.5,439.6 L1105.5,451.1 M1105.5,451.1 L1105.7,459.1 M1105.5,451.1 L1087.4,462.8 M1105.7,459.1 L1090.3,467.2 M1087.4,462.8 L1090.3,467.2 M1111.3,474.6 L1098.5,482.8 M1090.3,467.2 L1098.5,482.8 M1176.3,1067.9 L1167.3,1063.3 M1167.3,1063.3 L1170.6,1037.5 M1042.3,1150.3 L1040.4,1117.5 M1055.2,1130.8 L1044.6,1118.5 M1044.6,1118.5 L1040.4,1117.5 M966.2,1119.8 L967.6,1134.1 M967.6,1134.1 L966.1,1138.8 M966.1,1138.8 L941.2,1144.0 M941.2,1144.0 L932.4,1157.1 M862.7,1229.9 L866.2,1241.9 M866.2,1241.9 L836.2,1240.1 M881.5,1219.1 L862.7,1229.9 M881.5,1219.1 L888.4,1239.6 M888.4,1239.6 L887.9,1241.5 M877.2,1245.9 L887.9,1241.5 M877.2,1245.9 L871.3,1245.4 M871.3,1245.4 L866.2,1241.9 M859.6,1269.2 L867.4,1267.2 M859.6,1269.2 L847.4,1260.3 M867.4,1267.2 L861.3,1253.1 M861.3,1253.1 L846.1,1254.6 M847.4,1260.3 L846.1,1254.6 M876.5,1273.0 L870.3,1267.5 M870.3,1267.5 L867.4,1267.2 M857.2,1276.9 L859.6,1269.2 M840.3,1274.0 L847.4,1260.3 M871.3,1245.4 L861.3,1253.1 M877.2,1245.9 L870.3,1267.5 M1076.4,452.0 L1065.4,431.3 M1063.2,429.5 L1065.4,431.3 M1075.7,454.4 L1064.9,460.3 M1076.4,452.0 L1075.7,454.4 M1063.2,429.5 L1053.6,437.2 M1053.6,437.2 L1064.9,460.3 M1046.7,598.2 L1032.9,592.0 M1056.8,597.1 L1046.7,598.2 M1061.4,587.8 L1032.7,576.7 M1032.9,592.0 L1032.7,576.7 M994.0,648.9 L1014.2,641.2 M994.0,648.9 L1000.9,631.9 M1014.2,641.2 L1012.8,633.5 M1012.8,633.5 L1000.9,631.9 M1127.3,446.0 L1138.1,447.5 M1148.7,454.3 L1138.1,447.5 M1037.2,459.8 L1040.3,463.3 M1022.7,481.5 L1033.8,483.2 M1040.3,463.3 L1033.8,483.2 M1044.7,449.7 L1059.2,460.2 M1037.2,459.8 L1044.7,449.7 M1040.3,463.3 L1059.2,460.2 M1029.8,544.5 L1044.1,542.5 M1029.8,544.5 L1024.3,571.1 M1044.1,542.5 L1046.3,566.8 M1046.3,566.8 L1032.6,576.2 M1024.3,571.1 L1032.6,576.2 M1065.7,579.2 L1056.8,571.4 M1056.8,571.4 L1061.9,554.3 M1061.9,554.3 L1076.8,556.5 M1032.7,576.7 L1032.6,576.2 M1046.3,566.8 L1056.8,571.4 M1046.1,540.8 L1061.9,554.3 M1044.1,542.5 L1046.1,540.8 M1160.5,1065.1 L1143.5,1049.2 M1160.5,1065.1 L1143.6,1085.2 M1143.5,1049.2 L1134.5,1047.5 M1143.6,1085.2 L1137.8,1086.4 M1131.7,1084.4 L1127.6,1078.3 M1131.7,1084.4 L1135.7,1086.1 M1127.6,1078.3 L1134.2,1048.0 M1134.5,1047.5 L1134.2,1048.0 M1137.8,1086.4 L1135.7,1086.1 M1167.3,1063.3 L1160.5,1065.1 M1165.6,1033.5 L1143.5,1049.2 M1164.8,1096.4 L1143.6,1085.2 M1146.4,1113.6 L1137.8,1086.4 M1132.2,1101.0 L1135.7,1086.1 M1116.0,1097.3 L1131.7,1084.4 M1078.3,1125.9 L1073.9,1114.1 M1044.6,1118.5 L1053.5,1115.0 M1073.9,1114.1 L1053.5,1115.0 M966.2,1119.8 L998.5,1119.4 M967.6,1134.1 L1000.7,1143.2 M1000.7,1143.2 L1006.3,1124.8 M998.5,1119.4 L1006.3,1124.8 M1000.7,1143.2 L1001.9,1148.9 M1027.9,1146.2 L1024.8,1118.8 M1006.3,1124.8 L1024.8,1118.8 M1040.4,1117.5 L1034.5,1114.5 M1034.5,1114.5 L1025.7,1117.9 M1024.8,1118.8 L1025.7,1117.9 M925.4,1271.0 L931.8,1278.8 M925.4,1271.0 L919.4,1267.9 M889.5,1277.0 L892.6,1271.3 M919.4,1267.9 L892.6,1271.3 M887.9,1241.5 L893.7,1251.7 M892.6,1271.3 L893.7,1251.7 M1063.2,429.5 L1063.0,428.9 M967.4,557.2 L995.6,545.6 M995.6,545.6 L968.5,582.8 M997.2,544.8 L995.6,545.6 M997.2,544.8 L1002.3,567.4 M968.3,586.7 L968.5,582.8 M968.3,586.7 L980.9,584.5 M980.9,584.5 L1002.3,567.4 M998.7,540.0 L1012.3,538.1 M1012.3,538.1 L1029.8,544.5 M1024.3,571.1 L1009.0,571.8 M998.7,540.0 L997.2,544.8 M1002.3,567.4 L1009.0,571.8 M1015.1,643.2 L1014.2,641.2 M1042.7,628.4 L1038.0,624.7 M1012.8,633.5 L1016.3,628.5 M1016.3,628.5 L1038.0,624.7 M1046.7,598.2 L1037.4,620.6 M1038.0,624.7 L1037.4,620.6 M1063.0,428.9 L1071.6,416.8 M1065.4,431.3 L1089.7,423.5 M1089.7,423.5 L1087.9,421.4 M1112.7,432.3 L1121.2,420.0 M1112.7,432.3 L1097.8,429.1 M1097.8,429.1 L1097.6,428.8 M1075.7,454.4 L1087.4,462.8 M1076.4,452.0 L1097.8,429.1 M1114.3,435.8 L1112.7,432.3 M1089.7,423.5 L1097.6,428.8 M1142.3,429.6 L1142.8,436.8 M1142.3,429.6 L1155.0,413.6 M1142.8,436.8 L1156.1,429.4 M1155.0,413.6 L1156.1,429.4 M1138.1,447.5 L1142.8,436.8 M1121.2,420.0 L1142.3,429.6 M1161.7,440.9 L1156.1,429.4 M1074.5,543.4 L1051.1,534.7 M1074.5,543.4 L1072.2,529.6 M1051.1,534.7 L1072.2,529.6 M1074.5,543.4 L1082.3,548.1 M1110.1,523.9 L1077.3,525.5 M1110.1,523.9 L1110.7,524.6 M1072.2,529.6 L1077.3,525.5 M1077.3,525.5 L1062.1,516.8 M1110.1,523.9 L1100.6,509.1 M1100.6,509.1 L1062.1,516.8 M1134.2,1048.0 L1106.3,1056.9 M1103.2,1068.5 L1104.5,1059.0 M1103.2,1068.5 L1127.6,1078.3 M1106.3,1056.9 L1104.5,1059.0 M1040.3,1086.8 L1034.5,1114.5 M1097.2,997.0 L1088.0,1001.2 M1086.0,977.5 L1085.3,977.6 M1088.0,1001.2 L1078.9,997.5 M1078.9,997.5 L1079.0,982.7 M1085.3,977.6 L1079.0,982.7 M1132.4,1017.7 L1129.6,1035.0 M1129.6,1035.0 L1134.5,1047.5 M1100.6,1102.8 L1100.5,1102.7 M1073.9,1114.1 L1077.1,1103.0 M1100.5,1102.7 L1077.1,1103.0 M1103.2,1068.5 L1093.6,1073.2 M1100.5,1102.7 L1093.6,1073.2 M899.7,1207.1 L906.6,1200.4 M899.7,1207.1 L887.7,1210.9 M887.7,1210.9 L883.5,1195.5 M883.5,1195.5 L893.7,1177.6 M906.6,1200.4 L911.1,1182.5 M911.1,1182.5 L902.0,1176.4 M902.0,1176.4 L893.7,1177.6 M913.4,1230.2 L888.4,1239.6 M913.4,1230.2 L899.7,1207.1 M881.5,1219.1 L881.5,1217.3 M881.5,1217.3 L887.7,1210.9 M881.5,1217.3 L855.8,1203.8 M932.4,1157.1 L934.8,1165.1 M912.9,1182.1 L934.8,1165.1 M912.9,1182.1 L911.1,1182.5 M941.6,1191.9 L929.3,1194.6 M941.6,1191.9 L943.2,1193.2 M943.2,1193.2 L950.2,1213.5 M929.3,1194.6 L932.7,1219.6 M937.0,1226.5 L932.7,1219.6 M937.0,1226.5 L946.2,1219.3 M946.2,1219.3 L949.9,1214.4 M949.9,1214.4 L950.2,1213.5 M912.9,1182.1 L929.3,1194.6 M941.3,1167.8 L934.8,1165.1 M941.3,1167.8 L941.6,1191.9 M906.6,1200.4 L932.7,1219.6 M970.4,1229.4 L946.2,1219.3 M936.4,1228.4 L937.0,1226.5 M984.1,1218.5 L949.9,1214.4 M966.1,1138.8 L967.9,1163.5 M984.5,1167.0 L984.4,1167.0 M967.9,1163.5 L984.4,1167.0 M995.0,1211.3 L983.8,1176.8 M994.5,1211.6 L975.1,1198.9 M975.1,1198.9 L983.8,1176.8 M984.4,1167.0 L983.8,1176.8 M912.6,1257.3 L904.7,1253.1 M912.6,1257.3 L928.6,1235.8 M904.7,1253.1 L927.0,1232.1 M928.6,1235.8 L929.8,1232.0 M929.8,1232.0 L927.0,1232.1 M919.4,1267.9 L912.6,1257.3 M893.7,1251.7 L904.7,1253.1 M925.4,1271.0 L928.6,1235.8 M913.4,1230.2 L927.0,1232.1 M936.2,1228.6 L929.8,1232.0 M968.3,586.7 L967.3,587.6 M966.8,594.5 L993.7,604.9 M967.3,587.6 L966.8,594.5 M980.9,584.5 L989.4,590.3 M989.4,590.3 L993.7,604.9 M939.9,629.4 L951.9,627.8 M951.9,627.8 L961.7,609.1 M966.8,594.5 L965.0,607.3 M961.7,609.1 L965.0,607.3 M930.0,658.4 L933.6,660.0 M933.6,660.0 L918.6,704.5 M918.6,704.5 L915.6,704.8 M915.6,704.8 L907.9,701.2 M1129.6,1035.0 L1125.3,1036.3 M1106.3,1056.9 L1110.8,1045.4 M1125.3,1036.3 L1110.8,1045.4 M1114.8,1011.3 L1105.4,1019.5 M1125.3,1036.3 L1106.7,1034.1 M1105.4,1019.5 L1106.7,1034.1 M1110.8,1045.4 L1103.7,1037.5 M1106.7,1034.1 L1103.7,1037.5 M987.4,985.9 L995.0,983.4 M995.0,983.4 L996.0,984.8 M996.0,984.8 L995.6,999.7 M1025.9,972.8 L1012.9,987.2 M1025.9,972.8 L1037.7,982.2 M1037.7,982.2 L1021.9,994.2 M1012.9,987.2 L1021.9,994.2 M1053.5,957.1 L1037.5,956.1 M1053.5,957.1 L1058.2,950.4 M1046.4,933.9 L1028.2,940.2 M1037.5,956.1 L1028.2,940.2 M1076.2,971.0 L1085.3,977.6 M1076.2,971.0 L1077.4,965.5 M1013.6,871.8 L998.6,877.7 M1013.6,871.8 L1013.8,827.3 M998.6,877.7 L1006.1,833.6 M1006.1,833.6 L1010.6,828.6 M1013.8,827.3 L1010.6,828.6 M1016.3,825.7 L1013.8,827.3 M1031.4,872.2 L1013.6,871.8 M976.7,790.0 L971.5,798.4 M1000.5,788.3 L976.7,790.0 M971.5,798.4 L982.1,820.9 M982.1,820.9 L1010.6,828.6 M1053.5,1115.0 L1064.4,1091.5 M1077.1,1103.0 L1072.6,1094.9 M1064.4,1091.5 L1072.6,1094.9 M1040.3,1086.8 L1052.3,1081.9 M1064.4,1091.5 L1052.3,1081.9 M972.4,884.2 L966.5,886.5 M972.4,884.2 L984.2,912.2 M966.5,886.5 L970.8,912.6 M984.2,912.2 L978.8,919.4 M970.8,912.6 L977.8,919.6 M977.8,919.6 L978.8,919.4 M944.5,896.3 L970.8,912.6 M944.5,896.3 L949.5,887.1 M949.5,887.1 L966.5,886.5 M965.1,863.7 L981.7,874.3 M965.1,863.7 L971.7,844.3 M971.7,844.3 L985.2,847.5 M985.2,847.5 L986.4,873.5 M986.4,873.5 L981.7,874.3 M956.8,864.9 L947.2,871.2 M949.5,887.1 L947.2,871.2 M972.4,884.2 L981.7,874.3 M956.8,864.9 L965.1,863.7 M953.2,841.0 L956.8,864.9 M953.2,841.0 L968.5,840.8 M968.5,840.8 L971.7,844.3 M968.5,840.8 L971.4,828.5 M971.4,828.5 L982.1,820.9 M1006.1,833.6 L985.2,847.5 M998.0,878.2 L998.6,877.7 M998.0,878.2 L986.4,873.5 M977.8,919.6 L955.6,941.0 M963.5,822.6 L960.1,811.4 M963.5,822.6 L955.5,827.0 M955.5,827.0 L948.4,814.6 M960.1,811.4 L948.4,814.6 M968.5,799.9 L971.5,798.4 M968.5,799.9 L960.1,811.4 M971.4,828.5 L963.5,822.6 M950.2,839.7 L935.9,863.9 M950.2,839.7 L949.8,839.2 M949.8,839.2 L933.4,829.9 M933.4,829.9 L923.3,848.3 M947.2,871.2 L935.9,863.9 M953.2,841.0 L950.2,839.7 M955.5,827.0 L949.8,839.2 M931.6,823.9 L933.4,829.9 M953.6,1183.1 L956.6,1191.9 M953.6,1183.1 L954.0,1168.1 M954.0,1168.1 L965.6,1165.3 M965.6,1165.3 L968.2,1197.0 M956.6,1191.9 L964.8,1198.4 M964.8,1198.4 L968.2,1197.0 M946.9,1191.8 L956.6,1191.9 M946.9,1191.8 L953.6,1183.1 M941.3,1167.8 L954.0,1168.1 M946.9,1191.8 L943.2,1193.2 M967.9,1163.5 L965.6,1165.3 M975.1,1198.9 L968.2,1197.0 M950.2,1213.5 L964.8,1198.4 M998.7,540.0 L997.2,537.8 M965.0,607.3 L978.0,621.3 M993.7,604.9 L994.0,605.2 M994.0,605.2 L978.0,621.3 M1013.5,617.6 L1025.4,605.2 M1013.5,617.6 L1005.1,610.4 M1005.1,610.4 L1004.2,605.9 M1004.2,605.9 L1007.8,596.3 M1025.2,597.7 L1010.4,594.4 M1025.2,597.7 L1025.4,605.2 M1010.4,594.4 L1007.8,596.3 M1016.3,628.5 L1013.5,617.6 M1037.4,620.6 L1025.4,605.2 M988.2,625.5 L1005.1,610.4 M1000.9,631.9 L988.2,625.5 M980.2,625.2 L978.0,621.3 M994.0,605.2 L1004.2,605.9 M988.2,625.5 L980.2,625.2 M989.4,590.3 L1007.8,596.3 M1032.9,592.0 L1025.2,597.7 M1009.0,571.8 L1010.4,594.4 M1014.5,654.9 L1012.2,659.5 M1022.5,671.8 L1018.0,669.4 M1012.2,659.5 L1018.0,669.4 M1011.8,676.0 L994.8,669.9 M1018.0,669.4 L1011.8,676.0 M1012.2,659.5 L1002.4,661.0 M994.8,669.9 L1002.4,661.0 M994.0,648.9 L993.1,649.9 M1002.4,661.0 L993.1,649.9 M980.1,625.5 L980.2,625.2 M980.1,625.5 L989.0,649.3 M993.1,649.9 L989.0,649.3 M1011.8,676.0 L1009.3,680.1 M1009.3,680.1 L1013.2,686.3 M933.6,660.0 L933.8,660.0 M939.9,629.4 L941.5,655.3 M933.8,660.0 L941.5,655.3 M948.4,814.6 L935.8,814.2 M931.6,823.9 L932.2,820.5 M935.8,814.2 L932.2,820.5 M968.5,799.9 L934.1,792.3 M935.8,814.2 L934.1,792.3 M976.7,790.0 L972.3,782.8 M972.3,782.8 L957.1,772.1 M957.1,772.1 L943.7,773.0 M943.7,773.0 L931.7,787.6 M934.1,792.3 L931.7,787.6 M1059.2,460.2 L1061.4,461.1 M1033.8,483.2 L1038.7,485.2 M1038.7,485.2 L1061.4,461.1 M1064.9,460.3 L1064.4,460.7 M1064.4,460.7 L1061.4,461.1 M1037.3,508.5 L1040.8,504.0 M1037.3,508.5 L1036.5,519.0 M1040.8,504.0 L1059.0,510.9 M1036.5,519.0 L1049.5,534.9 M1049.5,534.9 L1050.2,534.6 M1050.2,534.6 L1059.7,516.3 M1059.7,516.3 L1059.0,510.9 M1022.7,481.5 L1012.3,500.0 M1012.3,500.0 L1017.5,505.4 M1017.5,505.4 L1037.3,508.5 M1038.7,485.2 L1039.5,486.1 M1039.5,486.1 L1040.8,504.0 M1022.3,521.1 L1017.5,505.4 M1022.3,521.1 L1036.5,519.0 M1022.3,521.1 L1012.3,538.1 M1046.1,540.8 L1049.5,534.9 M1051.1,534.7 L1050.2,534.6 M1062.1,516.8 L1059.7,516.3 M1037.5,1032.0 L1031.2,1024.0 M1037.5,1032.0 L1046.8,1023.5 M1031.2,1024.0 L1038.9,1010.4 M1046.8,1023.5 L1042.4,1009.7 M1042.4,1009.7 L1038.9,1010.4 M1023.7,1051.9 L1043.3,1048.0 M1010.7,1037.4 L1031.2,1024.0 M1043.3,1048.0 L1043.6,1047.4 M1043.6,1047.4 L1037.5,1032.0 M1053.7,1036.9 L1043.6,1047.4 M1053.7,1036.9 L1046.8,1023.5 M1024.3,1001.4 L1021.9,994.2 M1043.7,1008.8 L1040.8,982.5 M1037.7,982.2 L1040.8,982.5 M1029.3,1006.4 L1038.9,1010.4 M1024.3,1001.4 L1029.3,1006.4 M1043.7,1008.8 L1042.4,1009.7 M1018.0,1016.6 L1009.4,1031.5 M1018.0,1016.6 L1011.9,1006.9 M1009.4,1031.5 L1004.9,1007.8 M1011.9,1006.9 L1004.9,1007.8 M1029.3,1006.4 L1018.0,1016.6 M1024.3,1001.4 L1011.9,1006.9 M995.6,999.7 L1004.9,1007.8 M996.0,984.8 L1012.9,987.2 M1043.7,1008.8 L1059.3,1006.4 M1059.3,1006.4 L1071.5,1023.8 M1053.7,1036.9 L1066.6,1033.8 M1071.5,1023.8 L1066.6,1033.8 M1065.6,999.7 L1064.9,981.1 M1065.6,999.7 L1060.0,1005.3 M1060.0,1005.3 L1048.1,977.6 M1064.9,981.1 L1059.4,973.3 M1059.4,973.3 L1054.8,970.0 M1054.8,970.0 L1048.1,977.6 M1079.0,982.7 L1064.9,981.1 M1078.9,997.5 L1065.6,999.7 M1040.8,982.5 L1048.1,977.6 M1059.3,1006.4 L1060.0,1005.3 M1076.2,971.0 L1059.4,973.3 M1053.5,957.1 L1054.8,970.0 M1024.2,963.1 L1037.5,956.1 M1025.9,972.8 L1024.2,963.1 M996.0,962.1 L1016.6,960.3 M996.0,962.1 L999.1,936.7 M1016.6,960.3 L1021.5,936.1 M999.1,936.7 L1017.4,929.8 M1017.4,929.8 L1021.5,936.1 M992.8,965.5 L995.0,983.4 M992.8,965.5 L996.0,962.1 M1024.2,963.1 L1016.6,960.3 M1028.2,940.2 L1021.5,936.1 M1017.8,928.8 L1043.0,920.2 M1017.8,928.8 L1017.4,929.8 M998.0,878.2 L1001.8,898.3 M984.2,912.2 L1001.7,898.4 M1001.8,898.3 L1001.7,898.4 M978.8,919.4 L999.1,936.7 M1017.8,928.8 L1015.1,913.6 M1001.7,898.4 L1015.1,913.6 M1056.4,1064.8 L1075.1,1055.2 M1056.4,1064.8 L1054.6,1076.5 M1054.6,1076.5 L1090.8,1073.7 M1075.1,1055.2 L1091.7,1073.1 M1091.7,1073.1 L1090.8,1073.7 M1043.3,1048.0 L1056.4,1064.8 M1075.9,1050.3 L1066.6,1033.8 M1075.9,1050.3 L1075.1,1055.2 M1052.3,1081.9 L1054.6,1076.5 M1072.6,1094.9 L1090.8,1073.7 M1093.6,1073.2 L1091.7,1073.1 M987.4,985.9 L956.6,989.9 M995.8,532.3 L995.1,506.0 M997.2,537.8 L995.8,532.3 M1012.3,500.0 L995.1,506.0 M966.2,751.2 L957.8,739.0 M957.8,739.0 L950.1,736.5 M957.1,772.1 L966.2,751.2 M943.7,773.0 L939.2,759.4 M939.2,759.4 L938.6,746.4 M938.6,746.4 L948.1,736.8 M950.1,736.5 L948.1,736.8 M925.3,744.8 L938.6,746.4 M925.3,744.8 L924.9,709.0 M948.1,736.8 L924.9,709.0 M975.0,775.8 L976.8,753.0 M975.0,775.8 L995.1,753.8 M995.5,749.7 L976.8,753.0 M972.3,782.8 L975.0,775.8 M966.2,751.2 L976.8,753.0 M957.8,739.0 L994.7,715.2 M994.7,715.2 L999.9,718.3 M941.8,655.3 L954.5,653.9 M941.8,655.3 L952.0,628.3 M954.5,653.9 L959.7,638.6 M952.0,628.3 L959.7,638.6 M951.9,627.8 L952.0,628.3 M941.5,655.3 L941.8,655.3 M980.1,625.5 L977.0,629.4 M977.0,629.4 L959.7,638.6 M994.7,715.2 L990.8,710.4 M950.1,736.5 L960.8,702.6 M990.8,710.4 L960.8,702.6 M922.9,705.9 L924.9,709.0 M922.9,705.9 L954.0,696.7 M960.8,702.6 L954.0,696.7 M933.8,660.0 L954.7,689.2 M918.6,704.5 L922.9,705.9 M954.7,689.2 L954.0,696.7 M910.3,775.0 L917.6,762.6 M917.6,762.6 L919.7,745.6 M904.5,738.7 L919.7,745.6 M912.0,780.4 L910.3,775.0 M915.6,704.8 L904.5,738.7 M939.2,759.4 L917.6,762.6 M912.0,780.4 L931.6,787.6 M931.7,787.6 L931.6,787.6 M925.3,744.8 L919.7,745.6 M913.8,811.0 L912.3,808.3 M932.2,820.5 L913.8,811.0 M931.6,787.6 L912.3,808.3 M1061.1,507.1 L1063.1,491.7 M1061.1,507.1 L1099.1,506.0 M1063.1,491.7 L1069.7,487.1 M1069.7,487.1 L1095.1,493.2 M1095.1,493.2 L1098.6,504.3 M1098.6,504.3 L1099.1,506.0 M1059.0,510.9 L1061.1,507.1 M1039.5,486.1 L1063.1,491.7 M1100.6,509.1 L1099.1,506.0 M1064.4,460.7 L1069.7,487.1 M1098.5,482.8 L1095.1,493.2 M1125.5,483.6 L1098.6,504.3 M1092.6,1042.0 L1094.4,1039.4 M1092.6,1042.0 L1092.4,1042.0 M1092.4,1042.0 L1073.4,1023.5 M1094.4,1039.4 L1093.9,1023.3 M1093.9,1023.3 L1084.1,1018.9 M1084.1,1018.9 L1073.4,1023.5 M1104.5,1059.0 L1092.6,1042.0 M1103.7,1037.5 L1094.4,1039.4 M1075.9,1050.3 L1092.4,1042.0 M1071.5,1023.8 L1073.4,1023.5 M1105.4,1019.5 L1093.9,1023.3 M1088.0,1001.2 L1084.1,1018.9 M1020.9,893.3 L1037.9,900.0 M1020.9,893.3 L1020.2,893.8 M1020.2,893.8 L1029.5,906.9 M1039.5,906.1 L1029.5,906.9 M1032.7,878.0 L1020.9,893.3 M1001.8,898.3 L1020.2,893.8 M1015.1,913.6 L1029.5,906.9 M955.7,941.5 L978.4,961.5 M978.4,961.5 L959.0,982.0 M955.6,941.0 L955.7,941.5 M992.8,965.5 L978.4,961.5 M1009.3,680.1 L992.7,683.9 M990.8,710.4 L990.3,689.0 M992.7,683.9 L990.3,689.0 M994.8,669.9 L993.2,671.3 M992.7,683.9 L993.2,671.3 M989.0,649.3 L975.4,660.0 M993.2,671.3 L975.4,660.0 M961.2,682.1 L980.1,682.6 M961.2,682.1 L969.3,660.2 M980.1,682.6 L970.0,660.2 M969.3,660.2 L969.6,660.1 M969.6,660.1 L970.0,660.2 M954.7,689.2 L961.2,682.1 M990.3,689.0 L980.1,682.6 M954.5,653.9 L969.3,660.2 M975.4,660.0 L970.0,660.2 M977.0,629.4 L969.6,660.1" stroke="#a9c3dc" stroke-width="1.1" fill="none" opacity="0.75"/>
<text x="671" y="331" style="font-family:'Liberation Sans',sans-serif;font-size:28px;fill:#555;paint-order:stroke;stroke:#f3f3f3;stroke-width:3px">Teruel</text>
<text x="452" y="968" style="font-family:'Liberation Sans',sans-serif;font-size:28px;fill:#555;paint-order:stroke;stroke:#f3f3f3;stroke-width:3px">ete</text>
<text x="1003" y="488" style="font-family:'Liberation Sans',sans-serif;font-size:28px;fill:#5a5a5a;opacity:0.55">Castelló de la</text>
<text x="1063" y="524" style="font-family:'Liberation Sans',sans-serif;font-size:28px;fill:#5a5a5a;opacity:0.55">Plana</text>
<text x="928" y="747" style="font-family:'Liberation Sans',sans-serif;font-size:28px;fill:#5a5a5a;opacity:0.55">València</text>
<text x="885" y="1252" style="font-family:'Liberation Sans',sans-serif;font-size:28px;fill:#5a5a5a;opacity:0.55">Alacant /</text>
<text x="912" y="1287" style="font-family:'Liberation Sans',sans-serif;font-size:28px;fill:#5a5a5a;opacity:0.55">Alicante</text>
<text x="796" y="1311" style="font-family:'Liberation Sans',sans-serif;font-size:28px;fill:#5a5a5a;opacity:0.55">Elx / Elche</text>
</g></svg>
<div class="bx" style="left:1319px;top:311px;width:132px;height:69px;background:#333333;border:1.5px solid #454545;"></div>
<svg class="bx" style="left:1319px;top:311px" width="132" height="69" viewBox="0 0 132 69">
<g stroke="#c8c8c8" stroke-width="2" fill="none" stroke-linejoin="miter">
<path d="M20.8 32.5 V49.2 H29.5 V37.5 H38.5 V49.2 H46.8 V32.5"/>
<path d="M18.6 34 L34.1 18.9 L49.7 34"/>
<path d="M25 28.5 V19 H29.3 V23.8"/>
<rect x="84.6" y="18.9" width="4.6" height="4.6"/><circle cx="86.9" cy="29" r="2.4"/><rect x="84.6" y="34.7" width="4.6" height="4.6"/>
</g>
<path d="M86.9 42.3 L90.3 47.9 H83.5 Z" fill="#c8c8c8"/>
<g stroke="#c8c8c8" stroke-width="2.2"><path d="M94 21 H112.1 M94 29 H112.1 M94 37 H112.1 M94 44.9 H112.1"/></g></svg>
<div class="bx" style="left:1390.5px;top:1161px;width:61.0px;height:115px;background:#333333;border:1.5px solid #454545;"></div>
<svg class="bx" style="left:1390px;top:1161px" width="62" height="115" viewBox="0 0 62 115">
<g stroke="#ababab" stroke-width="4.2"><path d="M18.5 30 h25 M31 17.5 v25 M19 83.5 h24.5"/></g></svg>
<div class="bx" style="left:1107px;top:1287px;width:338px;height:30px;background:rgba(240,240,240,0.9);"></div>
<div id="t_attr" class="t" style="left:276.61px;width:2000px;text-align:center;top:1286.61px;font-size:26.16px;line-height:29.23px;color:#333;font-weight:normal;letter-spacing:0.092px;">Institut Cartogràfic Valencià</div>
<div class="bx" style="left:478.4px;top:1325px;width:199.60000000000002px;height:56px;background:#222;border-left:2px solid #3a3a3a;border-right:2px solid #3a3a3a;border-bottom:4px solid #4a97ee;"></div>
<div class="bx" style="left:688.7px;top:1325px;width:178.5999999999999px;height:56px;background:#000;border-left:2px solid #3a3a3a;border-right:2px solid #3a3a3a;border-bottom:4px solid #3a3a3a;"></div>
<div class="bx" style="left:878.4px;top:1325px;width:175.89999999999998px;height:56px;background:#000;border-left:2px solid #3a3a3a;border-right:2px solid #3a3a3a;border-bottom:4px solid #3a3a3a;"></div>
<div class="bx" style="left:1065.3px;top:1325px;width:208.29999999999995px;height:56px;background:#000;border-left:2px solid #3a3a3a;border-right:2px solid #3a3a3a;border-bottom:4px solid #3a3a3a;"></div>
<div id="t_mt1" class="t" style="left:-422.41px;width:2000px;text-align:center;top:1337.11px;font-size:26.16px;line-height:29.23px;color:#cfcfcf;font-weight:normal;letter-spacing:-0.916px;transform:scaleX(0.9819);transform-origin:50% 0;">PCR+ 14 dies</div>
<div id="t_mt2" class="t" style="left:-222.41px;width:2000px;text-align:center;top:1337.11px;font-size:26.16px;line-height:29.23px;color:#cfcfcf;font-weight:normal;letter-spacing:-0.916px;transform:scaleX(0.9799);transform-origin:50% 0;">PCR+ totals</div>
<div id="t_mt3" class="t" style="left:-33.66px;width:2000px;text-align:center;top:1337.11px;font-size:26.16px;line-height:29.23px;color:#cfcfcf;font-weight:normal;letter-spacing:-0.618px;">Defuncions</div>
<div id="t_mt4" class="t" style="left:168.90px;width:2000px;text-align:center;top:1337.11px;font-size:26.16px;line-height:29.23px;color:#cfcfcf;font-weight:normal;letter-spacing:-0.609px;">Departaments</div>
<div class="bx" style="left:1487px;top:302px;width:1343px;height:387px;background:#222;border:2px solid #3a3a3a;"></div>
<div class="bx" style="left:1513.5px;top:687px;width:237.5px;height:56px;background:#222;border-left:2px solid #3a3a3a;border-right:2px solid #3a3a3a;border-bottom:4px solid #4a97ee;"></div>
<div class="bx" style="left:1763px;top:689px;width:197.29999999999995px;height:54px;background:#000;border-left:2px solid #3a3a3a;border-right:2px solid #3a3a3a;border-bottom:4px solid #3a3a3a;"></div>
<div class="bx" style="left:1972.2px;top:689px;width:279.39999999999986px;height:54px;background:#000;border-left:2px solid #3a3a3a;border-right:2px solid #3a3a3a;border-bottom:4px solid #3a3a3a;"></div>
<div class="bx" style="left:2263.6px;top:689px;width:240.0999999999999px;height:54px;background:#000;border-left:2px solid #3a3a3a;border-right:2px solid #3a3a3a;border-bottom:4px solid #3a3a3a;"></div>
<div id="t_ct1" class="t" style="left:632.21px;width:2000px;text-align:center;top:699.31px;font-size:26.16px;line-height:29.23px;color:#cfcfcf;font-weight:normal;letter-spacing:-0.916px;transform:scaleX(0.9816);transform-origin:50% 0;">Núm. Positius CV</div>
<div id="t_ct2" class="t" style="left:860.82px;width:2000px;text-align:center;top:699.31px;font-size:26.16px;line-height:29.23px;color:#cfcfcf;font-weight:normal;letter-spacing:-0.916px;transform:scaleX(0.9533);transform-origin:50% 0;">% Positius CV</div>
<div id="t_ct3" class="t" style="left:1112.04px;width:2000px;text-align:center;top:699.31px;font-size:26.16px;line-height:29.23px;color:#cfcfcf;font-weight:normal;letter-spacing:-0.842px;">Núm. Defuncions CV</div>
<div id="t_ct4" class="t" style="left:1383.55px;width:2000px;text-align:center;top:699.31px;font-size:26.16px;line-height:29.23px;color:#cfcfcf;font-weight:normal;letter-spacing:-0.916px;transform:scaleX(0.9939);transform-origin:50% 0;">% Defuncions CV</div>
<div id="t_c1title" class="t" style="left:1158.58px;width:2000px;text-align:center;top:322.77px;font-size:25.44px;line-height:28.42px;color:#fff;font-weight:normal;letter-spacing:-0.890px;transform:scaleX(0.9677);transform-origin:50% 0;"><b>Distribució de positius per edat i sexe (</b>No inclosos casos pendents d'assignar)</div>
<svg class="bx" style="left:1487px;top:302px" width="1343" height="387" viewBox="1487 302 1343 387">
<line x1="1633" y1="535.1" x2="2589" y2="535.1" stroke="#4a4a4a" stroke-width="1.5" stroke-dasharray="5,5"/>
<line x1="1633" y1="471.2" x2="2589" y2="471.2" stroke="#4a4a4a" stroke-width="1.5" stroke-dasharray="5,5"/>
<line x1="1633" y1="407.3" x2="2589" y2="407.3" stroke="#4a4a4a" stroke-width="1.5" stroke-dasharray="5,5"/>
<line x1="1728.6" y1="407.3" x2="1728.6" y2="599" stroke="#4a4a4a" stroke-width="1.5" stroke-dasharray="5,5"/>
<line x1="1824.2" y1="407.3" x2="1824.2" y2="599" stroke="#4a4a4a" stroke-width="1.5" stroke-dasharray="5,5"/>
<line x1="1919.8" y1="407.3" x2="1919.8" y2="599" stroke="#4a4a4a" stroke-width="1.5" stroke-dasharray="5,5"/>
<line x1="2015.4" y1="407.3" x2="2015.4" y2="599" stroke="#4a4a4a" stroke-width="1.5" stroke-dasharray="5,5"/>
<line x1="2111.0" y1="407.3" x2="2111.0" y2="599" stroke="#4a4a4a" stroke-width="1.5" stroke-dasharray="5,5"/>
<line x1="2206.6" y1="407.3" x2="2206.6" y2="599" stroke="#4a4a4a" stroke-width="1.5" stroke-dasharray="5,5"/>
<line x1="2302.2" y1="407.3" x2="2302.2" y2="599" stroke="#4a4a4a" stroke-width="1.5" stroke-dasharray="5,5"/>
<line x1="2397.8" y1="407.3" x2="2397.8" y2="599" stroke="#4a4a4a" stroke-width="1.5" stroke-dasharray="5,5"/>
<line x1="2493.4" y1="407.3" x2="2493.4" y2="599" stroke="#4a4a4a" stroke-width="1.5" stroke-dasharray="5,5"/>
<line x1="2589.0" y1="407.3" x2="2589.0" y2="599" stroke="#4a4a4a" stroke-width="1.5" stroke-dasharray="5,5"/>
<rect x="1640.8" y="521.3" width="36" height="77.7" fill="#3a86a6"/>
<rect x="1684.8" y="516.9" width="36" height="82.1" fill="#1f4fa3"/>
<rect x="1736.4" y="486.2" width="36" height="112.8" fill="#3a86a6"/>
<rect x="1780.4" y="487.1" width="36" height="111.9" fill="#1f4fa3"/>
<rect x="1832.0" y="477.7" width="36" height="121.3" fill="#3a86a6"/>
<rect x="1876.0" y="488.6" width="36" height="110.4" fill="#1f4fa3"/>
<rect x="1927.6" y="464.1" width="36" height="134.9" fill="#3a86a6"/>
<rect x="1971.6" y="484.6" width="36" height="114.4" fill="#1f4fa3"/>
<rect x="2023.2" y="436.2" width="36" height="162.8" fill="#3a86a6"/>
<rect x="2067.2" y="455.6" width="36" height="143.4" fill="#1f4fa3"/>
<rect x="2118.8" y="490.6" width="36" height="108.4" fill="#3a86a6"/>
<rect x="2162.8" y="499.9" width="36" height="99.1" fill="#1f4fa3"/>
<rect x="2214.4" y="540.0" width="36" height="59.0" fill="#3a86a6"/>
<rect x="2258.4" y="544.3" width="36" height="54.7" fill="#1f4fa3"/>
<rect x="2310.0" y="561.0" width="36" height="38.0" fill="#3a86a6"/>
<rect x="2354.0" y="565.3" width="36" height="33.7" fill="#1f4fa3"/>
<rect x="2405.6" y="572.2" width="36" height="26.8" fill="#3a86a6"/>
<rect x="2449.6" y="581.0" width="36" height="18.0" fill="#1f4fa3"/>
<rect x="2501.2" y="588.7" width="36" height="10.3" fill="#3a86a6"/>
<rect x="2545.2" y="595.0" width="36" height="4.0" fill="#1f4fa3"/>
<line x1="1633" y1="404.3" x2="1633" y2="599" stroke="#888" stroke-width="1.5"/>
<line x1="1621" y1="599" x2="2589" y2="599" stroke="#888" stroke-width="2"/>
<line x1="1621" y1="599.0" x2="1633" y2="599.0" stroke="#888" stroke-width="1.5"/>
<line x1="1621" y1="535.1" x2="1633" y2="535.1" stroke="#888" stroke-width="1.5"/>
<line x1="1621" y1="471.2" x2="1633" y2="471.2" stroke="#888" stroke-width="1.5"/>
<line x1="1621" y1="407.3" x2="1633" y2="407.3" stroke="#888" stroke-width="1.5"/>
<line x1="1680.8" y1="599" x2="1680.8" y2="609" stroke="#888" stroke-width="2"/>
<line x1="1776.4" y1="599" x2="1776.4" y2="609" stroke="#888" stroke-width="2"/>
<line x1="1872.0" y1="599" x2="1872.0" y2="609" stroke="#888" stroke-width="2"/>
<line x1="1967.6" y1="599" x2="1967.6" y2="609" stroke="#888" stroke-width="2"/>
<line x1="2063.2" y1="599" x2="2063.2" y2="609" stroke="#888" stroke-width="2"/>
<line x1="2158.8" y1="599" x2="2158.8" y2="609" stroke="#888" stroke-width="2"/>
<line x1="2254.4" y1="599" x2="2254.4" y2="609" stroke="#888" stroke-width="2"/>
<line x1="2350.0" y1="599" x2="2350.0" y2="609" stroke="#888" stroke-width="2"/>
<line x1="2445.6" y1="599" x2="2445.6" y2="609" stroke="#888" stroke-width="2"/>
<line x1="2541.2" y1="599" x2="2541.2" y2="609" stroke="#888" stroke-width="2"/>
<text x="1607" y="605.6" text-anchor="end" style="font-family:'Liberation Sans',sans-serif;fill:#f0f0f0;font-size:19.2px">0</text>
<text x="1607" y="541.7" text-anchor="end" style="font-family:'Liberation Sans',sans-serif;fill:#f0f0f0;font-size:19.2px">50.000</text>
<text x="1607" y="477.8" text-anchor="end" style="font-family:'Liberation Sans',sans-serif;fill:#f0f0f0;font-size:19.2px">100.000</text>
<text x="1607" y="413.9" text-anchor="end" style="font-family:'Liberation Sans',sans-serif;fill:#f0f0f0;font-size:19.2px">150.000</text>
<text x="1680.8" y="641" text-anchor="middle" style="font-family:'Liberation Sans',sans-serif;fill:#f0f0f0;font-size:19.2px">0-9</text>
<text x="1776.4" y="641" text-anchor="middle" style="font-family:'Liberation Sans',sans-serif;fill:#f0f0f0;font-size:19.2px">10-19</text>
<text x="1872.0" y="641" text-anchor="middle" style="font-family:'Liberation Sans',sans-serif;fill:#f0f0f0;font-size:19.2px">20-29</text>
<text x="1967.6" y="641" text-anchor="middle" style="font-family:'Liberation Sans',sans-serif;fill:#f0f0f0;font-size:19.2px">30-39</text>
<text x="2063.2" y="641" text-anchor="middle" style="font-family:'Liberation Sans',sans-serif;fill:#f0f0f0;font-size:19.2px">40-49</text>
<text x="2158.8" y="641" text-anchor="middle" style="font-family:'Liberation Sans',sans-serif;fill:#f0f0f0;font-size:19.2px">50-59</text>
<text x="2254.4" y="641" text-anchor="middle" style="font-family:'Liberation Sans',sans-serif;fill:#f0f0f0;font-size:19.2px">60-69</text>
<text x="2350.0" y="641" text-anchor="middle" style="font-family:'Liberation Sans',sans-serif;fill:#f0f0f0;font-size:19.2px">70-79</text>
<text x="2445.6" y="641" text-anchor="middle" style="font-family:'Liberation Sans',sans-serif;fill:#f0f0f0;font-size:19.2px">80-89</text>
<text x="2541.2" y="641" text-anchor="middle" style="font-family:'Liberation Sans',sans-serif;fill:#f0f0f0;font-size:19.2px">90+</text>
<text x="1658.8" y="514.3" text-anchor="middle" style="font-family:'Liberation Sans',sans-serif;fill:#f0f0f0;font-size:19.2px;fill:#fff">60.809</text>
<text x="1702.8" y="509.9" text-anchor="middle" style="font-family:'Liberation Sans',sans-serif;fill:#f0f0f0;font-size:19.2px;fill:#fff">64.274</text>
<text x="1754.4" y="479.2" text-anchor="middle" style="font-family:'Liberation Sans',sans-serif;fill:#f0f0f0;font-size:19.2px;fill:#fff">88.249</text>
<text x="1798.4" y="480.1" text-anchor="middle" style="font-family:'Liberation Sans',sans-serif;fill:#f0f0f0;font-size:19.2px;fill:#fff">87.557</text>
<text x="1850.0" y="470.7" text-anchor="middle" style="font-family:'Liberation Sans',sans-serif;fill:#f0f0f0;font-size:19.2px;fill:#fff">94.911</text>
<text x="1894.0" y="481.6" text-anchor="middle" style="font-family:'Liberation Sans',sans-serif;fill:#f0f0f0;font-size:19.2px;fill:#fff">86.418</text>
<text x="1945.6" y="457.1" text-anchor="middle" style="font-family:'Liberation Sans',sans-serif;fill:#f0f0f0;font-size:19.2px;fill:#fff">105.576</text>
<text x="1989.6" y="477.6" text-anchor="middle" style="font-family:'Liberation Sans',sans-serif;fill:#f0f0f0;font-size:19.2px;fill:#fff">89.480</text>
<text x="2041.2" y="429.2" text-anchor="middle" style="font-family:'Liberation Sans',sans-serif;fill:#f0f0f0;font-size:19.2px;fill:#fff">127.352</text>
<text x="2085.2" y="448.6" text-anchor="middle" style="font-family:'Liberation Sans',sans-serif;fill:#f0f0f0;font-size:19.2px;fill:#fff">112.204</text>
<text x="2136.8" y="483.6" text-anchor="middle" style="font-family:'Liberation Sans',sans-serif;fill:#f0f0f0;font-size:19.2px;fill:#fff">84.832</text>
<text x="2180.8" y="492.9" text-anchor="middle" style="font-family:'Liberation Sans',sans-serif;fill:#f0f0f0;font-size:19.2px;fill:#fff">77.556</text>
<text x="2232.4" y="533.0" text-anchor="middle" style="font-family:'Liberation Sans',sans-serif;fill:#f0f0f0;font-size:19.2px;fill:#fff">46.139</text>
<text x="2276.4" y="537.3" text-anchor="middle" style="font-family:'Liberation Sans',sans-serif;fill:#f0f0f0;font-size:19.2px;fill:#fff">42.817</text>
<text x="2328.0" y="554.0" text-anchor="middle" style="font-family:'Liberation Sans',sans-serif;fill:#f0f0f0;font-size:19.2px;fill:#fff">29.746</text>
<text x="2372.0" y="558.3" text-anchor="middle" style="font-family:'Liberation Sans',sans-serif;fill:#f0f0f0;font-size:19.2px;fill:#fff">26.349</text>
<text x="2423.6" y="565.2" text-anchor="middle" style="font-family:'Liberation Sans',sans-serif;fill:#f0f0f0;font-size:19.2px;fill:#fff">20.988</text>
<text x="2467.6" y="574.0" text-anchor="middle" style="font-family:'Liberation Sans',sans-serif;fill:#f0f0f0;font-size:19.2px;fill:#fff">14.046</text>
<text x="2519.2" y="581.7" text-anchor="middle" style="font-family:'Liberation Sans',sans-serif;fill:#f0f0f0;font-size:19.2px;fill:#fff">8.055</text>
<text x="2563.2" y="588.0" text-anchor="middle" style="font-family:'Liberation Sans',sans-serif;fill:#f0f0f0;font-size:19.2px;fill:#fff">3.159</text>
<circle cx="2687" cy="512.7" r="16" fill="#3a86a6"/><circle cx="2687" cy="564.8" r="16" fill="#1f4fa3"/>
<text x="2711" y="520.8" style="font-family:'Liberation Sans',sans-serif;fill:#f0f0f0;font-size:19.5px;fill:#fff">Dones</text>
<text x="2711" y="572.8" style="font-family:'Liberation Sans',sans-serif;fill:#f0f0f0;font-size:19.5px;fill:#fff">Homes</text>
</svg>
<div class="bx" style="left:1487px;top:768px;width:1343px;height:449.5px;background:#222;border:2px solid #3a3a3a;"></div>
<div class="bx" style="left:1513.4px;top:1215.5px;width:153.5999999999999px;height:56.5px;background:#222;border-left:2px solid #3a3a3a;border-right:2px solid #3a3a3a;border-bottom:4px solid #4a97ee;"></div>
<div class="bx" style="left:1677.6px;top:1217.5px;width:164.60000000000014px;height:54.5px;background:#000;border-left:2px solid #3a3a3a;border-right:2px solid #3a3a3a;border-bottom:4px solid #3a3a3a;"></div>
<div id="t_tt1" class="t" style="left:589.26px;width:2000px;text-align:center;top:1226.85px;font-size:26.45px;line-height:29.55px;color:#cfcfcf;font-weight:normal;letter-spacing:-0.926px;transform:scaleX(0.9703);transform-origin:50% 0;">Totals CV</div>
<div id="t_tt2" class="t" style="left:759.60px;width:2000px;text-align:center;top:1226.85px;font-size:26.45px;line-height:29.55px;color:#cfcfcf;font-weight:normal;letter-spacing:-0.926px;transform:scaleX(0.9786);transform-origin:50% 0;">Diàries CV</div>
<div id="t_c2title" class="t" style="left:1157.63px;width:2000px;text-align:center;top:789.03px;font-size:24.27px;line-height:27.12px;color:#fff;font-weight:normal;letter-spacing:-0.752px;">Dades de <span style="color:#e8352a">POSITIUS</span>, <span style="color:#f2a83a">HOSPITALITZATS</span>, <span style="color:#e27ee8">UCI</span>, <span style="color:#a8a8a8">MORTS</span>, <span style="color:#7fe84a">ALTES</span> i <span style="color:#47a8e5">ACTIUS</span></div>
<svg class="bx" style="left:1487px;top:768px" width="1343" height="450" viewBox="1487 768 1343 450">
<defs><pattern id="vstr" x="1666" width="26" height="10" patternUnits="userSpaceOnUse"><rect width="26" height="10" fill="#5097c5"/><rect x="22.5" width="3.5" height="10" fill="#47a4dd"/></pattern></defs>
<rect x="1664" y="873.8" width="1102" height="31.7" fill="#303030"/><rect x="1664" y="903.5" width="1102" height="2" fill="#3a3a3a"/>
<line x1="1665" y1="920" x2="2770" y2="920" stroke="#555" stroke-width="1.5" stroke-dasharray="5,5"/>
<line x1="1665" y1="965.5" x2="2770" y2="965.5" stroke="#555" stroke-width="1.5" stroke-dasharray="5,5"/>
<line x1="1815" y1="905" x2="1815" y2="1014" stroke="#555" stroke-width="1.5" stroke-dasharray="5,5"/>
<line x1="1963" y1="905" x2="1963" y2="1014" stroke="#555" stroke-width="1.5" stroke-dasharray="5,5"/>
<line x1="2111" y1="905" x2="2111" y2="1014" stroke="#555" stroke-width="1.5" stroke-dasharray="5,5"/>
<line x1="2261" y1="905" x2="2261" y2="1014" stroke="#555" stroke-width="1.5" stroke-dasharray="5,5"/>
<line x1="2409" y1="905" x2="2409" y2="1014" stroke="#555" stroke-width="1.5" stroke-dasharray="5,5"/>
<line x1="2557" y1="905" x2="2557" y2="1014" stroke="#555" stroke-width="1.5" stroke-dasharray="5,5"/>
<line x1="2707" y1="905" x2="2707" y2="1014" stroke="#555" stroke-width="1.5" stroke-dasharray="5,5"/>
<line x1="1665" y1="1014" x2="1665" y2="1024" stroke="#888" stroke-width="2"/>
<line x1="1815" y1="1014" x2="1815" y2="1024" stroke="#888" stroke-width="2"/>
<line x1="1963" y1="1014" x2="1963" y2="1024" stroke="#888" stroke-width="2"/>
<line x1="2111" y1="1014" x2="2111" y2="1024" stroke="#888" stroke-width="2"/>
<line x1="2261" y1="1014" x2="2261" y2="1024" stroke="#888" stroke-width="2"/>
<line x1="2409" y1="1014" x2="2409" y2="1024" stroke="#888" stroke-width="2"/>
<line x1="2557" y1="1014" x2="2557" y2="1024" stroke="#888" stroke-width="2"/>
<line x1="2707" y1="1014" x2="2707" y2="1024" stroke="#888" stroke-width="2"/>
<line x1="1665" y1="905" x2="1665" y2="1016" stroke="#888" stroke-width="1.5"/>
<line x1="1656" y1="1014" x2="2770" y2="1014" stroke="#888" stroke-width="1.5"/>
<line x1="1656" y1="920" x2="1665" y2="920" stroke="#888" stroke-width="1.5"/>
<line x1="1656" y1="965.5" x2="1665" y2="965.5" stroke="#888" stroke-width="1.5"/>
<polygon points="1700.0,1014.0 1706.6,993.2 1724.0,976.9 1741.5,962.9 1764.8,954.7 1799.7,950.0 1846.3,948.3 1904.6,946.6 1950.0,944.8 2008.0,938.4 2066.5,935.0 2124.7,930.3 2183.0,926.8 2250.0,924.0 2500.0,923.9 2696.0,922.6 2715.5,922.0 2741.0,918.8 2766.0,917.0 2766.0,1014.0" fill="#3c3426"/>
<polygon points="1665.0,1014.0 1665.0,1003.0 1672.0,999.0 1690.0,990.0 1718.0,981.5 1735.0,975.7 1765.0,960.6 1777.0,958.8 1794.0,957.0 1900.0,958.0 1902.0,967.5 1925.0,974.5 1928.0,958.0 1950.0,957.6 1979.0,953.6 2054.8,952.4 2060.6,949.0 2078.0,947.2 2136.0,947.2 2159.6,944.3 2171.0,940.8 2188.7,937.3 2214.4,937.3 2229.5,944.3 2250.0,950.0 2375.0,954.0 2376.0,958.0 2380.0,963.0 2450.0,963.0 2455.0,956.0 2477.0,947.7 2480.0,943.0 2533.0,943.0 2535.0,947.0 2569.0,950.0 2570.0,956.0 2590.0,962.6 2620.0,962.6 2645.0,956.0 2677.5,946.0 2690.0,941.0 2705.4,938.5 2715.5,933.4 2738.4,929.0 2747.0,929.6 2760.0,933.4 2769.0,936.0 2769.0,1014.0" fill="url(#vstr)"/>
<polyline points="1691.4,1007.0 1700.8,985.0 1718.2,972.2 1741.5,974.5 1776.5,979.2 1811.4,983.8 1846.3,992.0 1881.3,997.8 1910.4,1002.5 1927.8,1000.0 1960.0,988.5 1985.0,985.0 2031.5,985.0 2078.0,975.7 2134.0,975.7 2188.7,969.9 2218.0,969.9 2250.0,974.5 2296.6,981.5 2343.0,985.0 2401.4,990.8 2448.0,994.3 2477.0,988.5 2506.0,981.5 2550.7,981.6 2601.4,988.0 2652.0,986.6 2703.0,976.5 2753.6,979.0 2767.5,980.3" fill="none" stroke="#b03ef2" stroke-width="10" stroke-linejoin="round" stroke-linecap="round"/>
<polyline points="1692.6,990.8 1700.8,975.7 1712.4,965.2 1730.0,959.4 1753.0,958.2 1776.5,968.7 1811.4,971.0 1846.3,976.9 1904.6,985.0 1927.8,981.5 1950.0,978.0 1985.0,971.0 2031.5,971.6 2066.5,967.0 2136.3,967.5 2194.6,961.7 2218.0,962.9 2250.0,965.2 2285.0,969.9 2343.0,974.5 2401.4,980.4 2448.0,980.4 2471.0,971.0 2506.0,967.5 2550.7,970.2 2601.4,977.8 2639.5,976.5 2690.0,966.4 2741.0,960.0 2767.5,964.5" fill="none" stroke="#f2a53a" stroke-width="10" stroke-linejoin="round" stroke-linecap="round"/>
<polyline points="1700.8,981.5 1718.0,972.0 1741.5,966.4 1764.8,963.5 1960.0,963.0 2043.0,961.7 2113.0,958.8 2183.0,954.7 2250.0,952.4 2480.0,953.0 2500.0,952.4 2530.0,951.1 2767.5,951.1" fill="none" stroke="#b4b4b4" stroke-width="10" stroke-linejoin="round" stroke-linecap="round"/>
<polyline points="1663.0,1012.0 1668.0,1000.0 1675.0,993.0 1686.0,984.0 1695.0,971.0 1705.0,962.0 1718.0,954.7 1753.0,949.0 1811.0,946.5 1893.0,944.8 1950.0,943.0 2008.0,936.8 2066.5,933.3 2124.7,928.7 2183.0,925.2 2250.0,922.4 2500.0,922.4 2696.0,920.8 2741.0,917.2 2766.0,915.3" fill="none" stroke="#e8352a" stroke-width="10" stroke-linejoin="round" stroke-linecap="round"/>
<polyline points="1690.3,1011.8 1699.6,1007.0 1706.6,993.2 1724.0,976.9 1741.5,962.9 1764.8,954.7 1799.7,950.0 1846.3,948.3 1904.6,946.6 1950.0,944.8 2008.0,938.4 2066.5,935.0 2124.7,930.3 2183.0,926.8 2250.0,924.0 2500.0,923.9 2696.0,922.6 2715.5,922.0 2741.0,918.8 2766.0,917.0" fill="none" stroke="#86f04c" stroke-width="10" stroke-linejoin="round" stroke-linecap="round"/>
<circle cx="1663.6" cy="888.8" r="18" fill="#fff"/><path d="M1660.8 879 v20 M1666.4 879 v20" stroke="#999" stroke-width="2"/>
<circle cx="2765.8" cy="888.8" r="18" fill="#fff"/><path d="M2763.0 879 v20 M2768.6 879 v20" stroke="#999" stroke-width="2"/>
<text x="1639.5" y="927.8" text-anchor="end" style="font-family:'Liberation Sans',sans-serif;fill:#f0f0f0;font-size:22.5px">1.000.000</text>
<text x="1639.5" y="973.3" text-anchor="end" style="font-family:'Liberation Sans',sans-serif;fill:#f0f0f0;font-size:22.5px">1.000</text>
<text x="1639.5" y="1021.8" text-anchor="end" style="font-family:'Liberation Sans',sans-serif;fill:#f0f0f0;font-size:22.5px">1</text>
<text x="1665" y="1059.7" text-anchor="middle" style="font-family:'Liberation Sans',sans-serif;fill:#f0f0f0;font-size:23.4px">24/02/2020</text>
<text x="1815" y="1059.7" text-anchor="middle" style="font-family:'Liberation Sans',sans-serif;fill:#f0f0f0;font-size:23.4px">14/05/2020</text>
<text x="1963" y="1059.7" text-anchor="middle" style="font-family:'Liberation Sans',sans-serif;fill:#f0f0f0;font-size:23.4px">16/08/2020</text>
<text x="2111" y="1059.7" text-anchor="middle" style="font-family:'Liberation Sans',sans-serif;fill:#f0f0f0;font-size:23.4px">29/11/2020</text>
<text x="2261" y="1059.7" text-anchor="middle" style="font-family:'Liberation Sans',sans-serif;fill:#f0f0f0;font-size:23.4px">04/03/2021</text>
<text x="2409" y="1059.7" text-anchor="middle" style="font-family:'Liberation Sans',sans-serif;fill:#f0f0f0;font-size:23.4px">26/05/2021</text>
<text x="2557" y="1059.7" text-anchor="middle" style="font-family:'Liberation Sans',sans-serif;fill:#f0f0f0;font-size:23.4px">05/09/2021</text>
<text x="2707" y="1059.7" text-anchor="middle" style="font-family:'Liberation Sans',sans-serif;fill:#f0f0f0;font-size:23.4px">30/12/2021</text>
<circle cx="1745.5" cy="1124.9" r="16" fill="#e8352a"/><text x="1770.5" y="1134.2" style="font-family:'Liberation Sans',sans-serif;fill:#f0f0f0;font-size:23.3px;fill:#fff">Positius</text>
<circle cx="1947.6" cy="1124.9" r="16" fill="#f2a83a"/><text x="1972.6" y="1134.2" style="font-family:'Liberation Sans',sans-serif;fill:#f0f0f0;font-size:23.3px;fill:#fff">Hospitalitzats</text>
<circle cx="2149.4" cy="1124.9" r="16" fill="#b03ef2"/><text x="2174.4" y="1134.2" style="font-family:'Liberation Sans',sans-serif;fill:#f0f0f0;font-size:23.3px;fill:#fff">UCI</text>
<circle cx="2351.8" cy="1124.9" r="16" fill="#b4b4b4"/><text x="2376.8" y="1134.2" style="font-family:'Liberation Sans',sans-serif;fill:#f0f0f0;font-size:23.3px;fill:#fff">Morts</text>
<circle cx="2554" cy="1124.9" r="16" fill="#86f04c"/><text x="2579" y="1134.2" style="font-family:'Liberation Sans',sans-serif;fill:#f0f0f0;font-size:23.3px;fill:#fff">Altes</text>
<circle cx="1745.5" cy="1180.7" r="15" fill="#3a6688" stroke="#4aa0e0" stroke-width="2"/><text x="1770.5" y="1190" style="font-family:'Liberation Sans',sans-serif;fill:#f0f0f0;font-size:23.3px;fill:#fff">Actius</text>
</svg>
<div class="bx" style="left:1487px;top:1296.5px;width:1343px;height:90.0px;background:#222;border:2px solid #3a3a3a;"></div>
<div id="t_foot" class="t" style="left:1158.84px;width:2000px;text-align:center;top:1313.21px;font-size:22.97px;line-height:25.66px;color:#fff;font-weight:normal;letter-spacing:-0.347px;">Font: <span style="color:#3fa3e2">C. Sanitat Universal i Salut Pública</span> Elaboració: <span style="color:#3fa3e2">Institut Cartogràfic Valencià</span> Descàrrega: <span style="color:#3fa3e2">P. de Dades Obertes</span></div>
</body></html>
